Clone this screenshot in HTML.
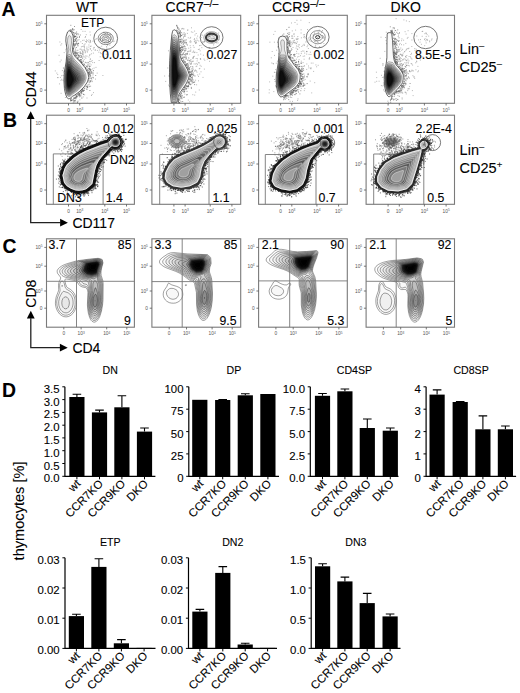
<!DOCTYPE html>
<html><head><meta charset="utf-8"><style>
html,body{margin:0;padding:0;background:#fff;}
svg{display:block;}
text{stroke:#000;stroke-width:0.1px;}
text[fill]{stroke:none;}
</style></head><body>
<svg width="520" height="693" viewBox="0 0 520 693" font-family='"Liberation Sans", sans-serif' fill="#000">
<defs><filter id="bl15" x="-50%" y="-50%" width="200%" height="200%"><feGaussianBlur stdDeviation="1.5"/></filter><filter id="bl1" x="-50%" y="-50%" width="200%" height="200%"><feGaussianBlur stdDeviation="1"/></filter></defs>
<rect width="520" height="693" fill="#fff"/>
<text x="1.6" y="15.8" font-size="19.4" font-weight="bold">A</text>
<text x="3.1" y="127.3" font-size="19.4" font-weight="bold">B</text>
<text x="2.4" y="252.8" font-size="19.4" font-weight="bold">C</text>
<text x="2.1" y="396.9" font-size="19.4" font-weight="bold">D</text>
<text x="76.0" y="11.5" font-size="14">WT</text>
<text x="165.6" y="11.5" font-size="14">CCR7<tspan font-size="10.5" dy="-4.6">–/–</tspan></text>
<text x="272.0" y="11.5" font-size="14">CCR9<tspan font-size="10.5" dy="-4.6">–/–</tspan></text>
<text x="390.6" y="11.5" font-size="14">DKO</text>
<text x="459.6" y="53.7" font-size="14.5">Lin<tspan font-size="9.5" dy="-5">–</tspan></text>
<text x="459.6" y="71.7" font-size="14.5">CD25<tspan font-size="9.5" dy="-5">–</tspan></text>
<text x="459.6" y="154.8" font-size="14.5">Lin<tspan font-size="9.5" dy="-5">–</tspan></text>
<text x="459.6" y="172.5" font-size="14.5">CD25<tspan font-size="9.5" dy="-5">+</tspan></text>
<text x="0" y="0" font-size="14" transform="translate(35.8,107.3) rotate(-90)">CD44</text>
<text x="0" y="0" font-size="14" transform="translate(36.0,307.7) rotate(-90)">CD8</text>
<text x="72.4" y="228.3" font-size="14">CD117</text>
<text x="72.4" y="352.8" font-size="14">CD4</text>
<path d="M30.7 118.7 V222.7 H60.400000000000006" fill="none" stroke="#222" stroke-width="1.3"/>
<path d="M26.8 119.0 L30.7 111.2 L34.6 119.0Z" fill="#000"/>
<path d="M60.10000000000001 218.79999999999998 L67.9 222.7 L60.10000000000001 226.6Z" fill="#000"/>
<path d="M30.8 318.3 V347.7 H60.2" fill="none" stroke="#222" stroke-width="1.3"/>
<path d="M26.900000000000002 318.6 L30.8 310.8 L34.7 318.6Z" fill="#000"/>
<path d="M59.900000000000006 343.8 L67.7 347.7 L59.900000000000006 351.59999999999997Z" fill="#000"/>
<text x="0" y="0" font-size="14.6" transform="translate(23.8,560.4) rotate(-90)">thymocytes [%]</text>
<path d="M64.9 386.8 V476.3 H155.4" fill="none" stroke="#000" stroke-width="1.2"/>
<path d="M62.300000000000004 476.3 H64.9" stroke="#000" stroke-width="1"/>
<text x="59.6" y="482.3" font-size="11.4" text-anchor="end">0.0</text>
<path d="M62.300000000000004 463.5 H64.9" stroke="#000" stroke-width="1"/>
<text x="59.6" y="469.5" font-size="11.4" text-anchor="end">0.5</text>
<path d="M62.300000000000004 450.7 H64.9" stroke="#000" stroke-width="1"/>
<text x="59.6" y="456.7" font-size="11.4" text-anchor="end">1.0</text>
<path d="M62.300000000000004 437.9 H64.9" stroke="#000" stroke-width="1"/>
<text x="59.6" y="443.9" font-size="11.4" text-anchor="end">1.5</text>
<path d="M62.300000000000004 425.2 H64.9" stroke="#000" stroke-width="1"/>
<text x="59.6" y="431.2" font-size="11.4" text-anchor="end">2.0</text>
<path d="M62.300000000000004 412.4 H64.9" stroke="#000" stroke-width="1"/>
<text x="59.6" y="418.4" font-size="11.4" text-anchor="end">2.5</text>
<path d="M62.300000000000004 399.6 H64.9" stroke="#000" stroke-width="1"/>
<text x="59.6" y="405.6" font-size="11.4" text-anchor="end">3.0</text>
<path d="M62.300000000000004 386.8 H64.9" stroke="#000" stroke-width="1"/>
<text x="59.6" y="392.8" font-size="11.4" text-anchor="end">3.5</text>
<rect x="69.3" y="397.0" width="15.2" height="79.3" fill="#000"/>
<path d="M76.9 397.0 V394.2 M72.6 394.2 H81.2" stroke="#000" stroke-width="1.1"/>
<path d="M76.9 476.3 V479.3" stroke="#000" stroke-width="1"/>
<text x="0" y="0" font-size="11.5" text-anchor="end" transform="translate(81.2,484.3) rotate(-45)">wt</text>
<rect x="91.9" y="412.4" width="15.2" height="63.9" fill="#000"/>
<path d="M99.5 412.4 V410.1 M95.2 410.1 H103.8" stroke="#000" stroke-width="1.1"/>
<path d="M99.5 476.3 V479.3" stroke="#000" stroke-width="1"/>
<text x="0" y="0" font-size="11.5" text-anchor="end" transform="translate(103.8,484.3) rotate(-45)">CCR7KO</text>
<rect x="114.3" y="407.3" width="15.2" height="69.0" fill="#000"/>
<path d="M121.9 407.3 V395.8 M117.6 395.8 H126.2" stroke="#000" stroke-width="1.1"/>
<path d="M121.9 476.3 V479.3" stroke="#000" stroke-width="1"/>
<text x="0" y="0" font-size="11.5" text-anchor="end" transform="translate(126.2,484.3) rotate(-45)">CCR9KO</text>
<rect x="136.9" y="431.6" width="15.2" height="44.8" fill="#000"/>
<path d="M144.5 431.6 V428.0 M140.2 428.0 H148.8" stroke="#000" stroke-width="1.1"/>
<path d="M144.5 476.3 V479.3" stroke="#000" stroke-width="1"/>
<text x="0" y="0" font-size="11.5" text-anchor="end" transform="translate(148.8,484.3) rotate(-45)">DKO</text>
<text x="110.2" y="374.2" font-size="10.6" text-anchor="middle">DN</text>
<path d="M188.8 386.8 V476.3 H279.0" fill="none" stroke="#000" stroke-width="1.2"/>
<path d="M186.20000000000002 476.3 H188.8" stroke="#000" stroke-width="1"/>
<text x="183.5" y="482.3" font-size="11.4" text-anchor="end">0</text>
<path d="M186.20000000000002 453.9 H188.8" stroke="#000" stroke-width="1"/>
<text x="183.5" y="459.9" font-size="11.4" text-anchor="end">25</text>
<path d="M186.20000000000002 431.6 H188.8" stroke="#000" stroke-width="1"/>
<text x="183.5" y="437.6" font-size="11.4" text-anchor="end">50</text>
<path d="M186.20000000000002 409.2 H188.8" stroke="#000" stroke-width="1"/>
<text x="183.5" y="415.2" font-size="11.4" text-anchor="end">75</text>
<path d="M186.20000000000002 386.8 H188.8" stroke="#000" stroke-width="1"/>
<text x="183.5" y="392.8" font-size="11.4" text-anchor="end">100</text>
<rect x="192.2" y="399.8" width="15.2" height="76.5" fill="#000"/>
<path d="M199.8 476.3 V479.3" stroke="#000" stroke-width="1"/>
<text x="0" y="0" font-size="11.5" text-anchor="end" transform="translate(204.1,484.3) rotate(-45)">wt</text>
<rect x="215.1" y="400.0" width="15.2" height="76.3" fill="#000"/>
<path d="M222.7 400.0 V399.5 M218.4 399.5 H227.0" stroke="#000" stroke-width="1.1"/>
<path d="M222.7 476.3 V479.3" stroke="#000" stroke-width="1"/>
<text x="0" y="0" font-size="11.5" text-anchor="end" transform="translate(227.0,484.3) rotate(-45)">CCR7KO</text>
<rect x="237.7" y="395.3" width="15.2" height="81.0" fill="#000"/>
<path d="M245.3 395.3 V393.7 M241.0 393.7 H249.6" stroke="#000" stroke-width="1.1"/>
<path d="M245.3 476.3 V479.3" stroke="#000" stroke-width="1"/>
<text x="0" y="0" font-size="11.5" text-anchor="end" transform="translate(249.6,484.3) rotate(-45)">CCR9KO</text>
<rect x="260.3" y="394.0" width="15.2" height="82.3" fill="#000"/>
<path d="M267.9 476.3 V479.3" stroke="#000" stroke-width="1"/>
<text x="0" y="0" font-size="11.5" text-anchor="end" transform="translate(272.2,484.3) rotate(-45)">DKO</text>
<text x="233.9" y="374.2" font-size="10.6" text-anchor="middle">DP</text>
<path d="M310.3 386.8 V476.3 H398.5" fill="none" stroke="#000" stroke-width="1.2"/>
<path d="M307.7 476.3 H310.3" stroke="#000" stroke-width="1"/>
<text x="305.0" y="482.3" font-size="11.4" text-anchor="end">0.0</text>
<path d="M307.7 453.9 H310.3" stroke="#000" stroke-width="1"/>
<text x="305.0" y="459.9" font-size="11.4" text-anchor="end">2.5</text>
<path d="M307.7 431.6 H310.3" stroke="#000" stroke-width="1"/>
<text x="305.0" y="437.6" font-size="11.4" text-anchor="end">5.0</text>
<path d="M307.7 409.2 H310.3" stroke="#000" stroke-width="1"/>
<text x="305.0" y="415.2" font-size="11.4" text-anchor="end">7.5</text>
<path d="M307.7 386.8 H310.3" stroke="#000" stroke-width="1"/>
<text x="305.0" y="392.8" font-size="11.4" text-anchor="end">10.0</text>
<rect x="314.9" y="395.8" width="15.2" height="80.6" fill="#000"/>
<path d="M322.5 395.8 V393.5 M318.2 393.5 H326.8" stroke="#000" stroke-width="1.1"/>
<path d="M322.5 476.3 V479.3" stroke="#000" stroke-width="1"/>
<text x="0" y="0" font-size="11.5" text-anchor="end" transform="translate(326.8,484.3) rotate(-45)">wt</text>
<rect x="337.3" y="391.3" width="15.2" height="85.0" fill="#000"/>
<path d="M344.9 391.3 V389.0 M340.6 389.0 H349.2" stroke="#000" stroke-width="1.1"/>
<path d="M344.9 476.3 V479.3" stroke="#000" stroke-width="1"/>
<text x="0" y="0" font-size="11.5" text-anchor="end" transform="translate(349.2,484.3) rotate(-45)">CCR7KO</text>
<rect x="359.7" y="428.0" width="15.2" height="48.3" fill="#000"/>
<path d="M367.3 428.0 V419.0 M363.0 419.0 H371.6" stroke="#000" stroke-width="1.1"/>
<path d="M367.3 476.3 V479.3" stroke="#000" stroke-width="1"/>
<text x="0" y="0" font-size="11.5" text-anchor="end" transform="translate(371.6,484.3) rotate(-45)">CCR9KO</text>
<rect x="382.7" y="430.7" width="15.2" height="45.6" fill="#000"/>
<path d="M390.3 430.7 V428.0 M386.0 428.0 H394.6" stroke="#000" stroke-width="1.1"/>
<path d="M390.3 476.3 V479.3" stroke="#000" stroke-width="1"/>
<text x="0" y="0" font-size="11.5" text-anchor="end" transform="translate(394.6,484.3) rotate(-45)">DKO</text>
<text x="354.4" y="374.2" font-size="10.6" text-anchor="middle">CD4SP</text>
<path d="M426.1 386.8 V476.3 H516.1" fill="none" stroke="#000" stroke-width="1.2"/>
<path d="M423.5 476.3 H426.1" stroke="#000" stroke-width="1"/>
<text x="420.8" y="482.3" font-size="11.4" text-anchor="end">0</text>
<path d="M423.5 453.9 H426.1" stroke="#000" stroke-width="1"/>
<text x="420.8" y="459.9" font-size="11.4" text-anchor="end">1</text>
<path d="M423.5 431.6 H426.1" stroke="#000" stroke-width="1"/>
<text x="420.8" y="437.6" font-size="11.4" text-anchor="end">2</text>
<path d="M423.5 409.2 H426.1" stroke="#000" stroke-width="1"/>
<text x="420.8" y="415.2" font-size="11.4" text-anchor="end">3</text>
<path d="M423.5 386.8 H426.1" stroke="#000" stroke-width="1"/>
<text x="420.8" y="392.8" font-size="11.4" text-anchor="end">4</text>
<rect x="429.5" y="394.6" width="15.2" height="81.7" fill="#000"/>
<path d="M437.1 394.6 V389.9 M432.8 389.9 H441.4" stroke="#000" stroke-width="1.1"/>
<path d="M437.1 476.3 V479.3" stroke="#000" stroke-width="1"/>
<text x="0" y="0" font-size="11.5" text-anchor="end" transform="translate(441.4,484.3) rotate(-45)">wt</text>
<rect x="452.6" y="402.0" width="15.2" height="74.3" fill="#000"/>
<path d="M460.2 402.0 V401.6 M455.9 401.6 H464.5" stroke="#000" stroke-width="1.1"/>
<path d="M460.2 476.3 V479.3" stroke="#000" stroke-width="1"/>
<text x="0" y="0" font-size="11.5" text-anchor="end" transform="translate(464.5,484.3) rotate(-45)">CCR7KO</text>
<rect x="475.3" y="429.3" width="15.2" height="47.0" fill="#000"/>
<path d="M482.9 429.3 V415.9 M478.6 415.9 H487.2" stroke="#000" stroke-width="1.1"/>
<path d="M482.9 476.3 V479.3" stroke="#000" stroke-width="1"/>
<text x="0" y="0" font-size="11.5" text-anchor="end" transform="translate(487.2,484.3) rotate(-45)">CCR9KO</text>
<rect x="497.8" y="429.3" width="15.2" height="47.0" fill="#000"/>
<path d="M505.4 429.3 V426.0 M501.1 426.0 H509.7" stroke="#000" stroke-width="1.1"/>
<path d="M505.4 476.3 V479.3" stroke="#000" stroke-width="1"/>
<text x="0" y="0" font-size="11.5" text-anchor="end" transform="translate(509.7,484.3) rotate(-45)">DKO</text>
<text x="471.1" y="374.2" font-size="10.6" text-anchor="middle">CD8SP</text>
<path d="M65.0 557.8 V648.4 H155.5" fill="none" stroke="#000" stroke-width="1.2"/>
<path d="M62.4 648.4 H65.0" stroke="#000" stroke-width="1"/>
<text x="59.7" y="654.4" font-size="11.4" text-anchor="end">0.00</text>
<path d="M62.4 618.2 H65.0" stroke="#000" stroke-width="1"/>
<text x="59.7" y="624.2" font-size="11.4" text-anchor="end">0.01</text>
<path d="M62.4 588.0 H65.0" stroke="#000" stroke-width="1"/>
<text x="59.7" y="594.0" font-size="11.4" text-anchor="end">0.02</text>
<path d="M62.4 557.8 H65.0" stroke="#000" stroke-width="1"/>
<text x="59.7" y="563.8" font-size="11.4" text-anchor="end">0.03</text>
<rect x="68.8" y="616.1" width="15.2" height="32.3" fill="#000"/>
<path d="M76.4 616.1 V614.3 M72.1 614.3 H80.7" stroke="#000" stroke-width="1.1"/>
<path d="M76.4 648.4 V651.4" stroke="#000" stroke-width="1"/>
<text x="0" y="0" font-size="11.5" text-anchor="end" transform="translate(80.7,656.4) rotate(-45)">wt</text>
<rect x="91.3" y="566.9" width="15.2" height="81.5" fill="#000"/>
<path d="M98.9 566.9 V558.7 M94.6 558.7 H103.2" stroke="#000" stroke-width="1.1"/>
<path d="M98.9 648.4 V651.4" stroke="#000" stroke-width="1"/>
<text x="0" y="0" font-size="11.5" text-anchor="end" transform="translate(103.2,656.4) rotate(-45)">CCR7KO</text>
<rect x="113.8" y="643.3" width="15.2" height="5.1" fill="#000"/>
<path d="M121.4 643.3 V639.6 M117.1 639.6 H125.7" stroke="#000" stroke-width="1.1"/>
<path d="M121.4 648.4 V651.4" stroke="#000" stroke-width="1"/>
<text x="0" y="0" font-size="11.5" text-anchor="end" transform="translate(125.7,656.4) rotate(-45)">CCR9KO</text>
<rect x="136.5" y="647.9" width="15.2" height="0.5" fill="#000"/>
<path d="M144.1 648.4 V651.4" stroke="#000" stroke-width="1"/>
<text x="0" y="0" font-size="11.5" text-anchor="end" transform="translate(148.4,656.4) rotate(-45)">DKO</text>
<text x="110.2" y="546.2" font-size="10.6" text-anchor="middle">ETP</text>
<path d="M188.5 557.8 V648.4 H277.0" fill="none" stroke="#000" stroke-width="1.2"/>
<path d="M185.9 648.4 H188.5" stroke="#000" stroke-width="1"/>
<text x="183.2" y="654.4" font-size="11.4" text-anchor="end">0.00</text>
<path d="M185.9 618.2 H188.5" stroke="#000" stroke-width="1"/>
<text x="183.2" y="624.2" font-size="11.4" text-anchor="end">0.01</text>
<path d="M185.9 588.0 H188.5" stroke="#000" stroke-width="1"/>
<text x="183.2" y="594.0" font-size="11.4" text-anchor="end">0.02</text>
<path d="M185.9 557.8 H188.5" stroke="#000" stroke-width="1"/>
<text x="183.2" y="563.8" font-size="11.4" text-anchor="end">0.03</text>
<rect x="192.3" y="611.6" width="15.2" height="36.8" fill="#000"/>
<path d="M199.9 611.6 V609.4 M195.6 609.4 H204.2" stroke="#000" stroke-width="1.1"/>
<path d="M199.9 648.4 V651.4" stroke="#000" stroke-width="1"/>
<text x="0" y="0" font-size="11.5" text-anchor="end" transform="translate(204.2,656.4) rotate(-45)">wt</text>
<rect x="215.2" y="572.9" width="15.2" height="75.5" fill="#000"/>
<path d="M222.8 572.9 V566.6 M218.5 566.6 H227.1" stroke="#000" stroke-width="1.1"/>
<path d="M222.8 648.4 V651.4" stroke="#000" stroke-width="1"/>
<text x="0" y="0" font-size="11.5" text-anchor="end" transform="translate(227.1,656.4) rotate(-45)">CCR7KO</text>
<rect x="237.6" y="644.5" width="15.2" height="3.9" fill="#000"/>
<path d="M245.2 644.5 V643.3 M240.9 643.3 H249.5" stroke="#000" stroke-width="1.1"/>
<path d="M245.2 648.4 V651.4" stroke="#000" stroke-width="1"/>
<text x="0" y="0" font-size="11.5" text-anchor="end" transform="translate(249.5,656.4) rotate(-45)">CCR9KO</text>
<rect x="260.0" y="647.9" width="15.2" height="0.5" fill="#000"/>
<path d="M267.6 648.4 V651.4" stroke="#000" stroke-width="1"/>
<text x="0" y="0" font-size="11.5" text-anchor="end" transform="translate(271.9,656.4) rotate(-45)">DKO</text>
<text x="232.8" y="546.2" font-size="10.6" text-anchor="middle">DN2</text>
<path d="M311.2 557.8 V648.4 H400.5" fill="none" stroke="#000" stroke-width="1.2"/>
<path d="M308.59999999999997 648.4 H311.2" stroke="#000" stroke-width="1"/>
<text x="305.9" y="654.4" font-size="11.4" text-anchor="end">0.0</text>
<path d="M308.59999999999997 618.2 H311.2" stroke="#000" stroke-width="1"/>
<text x="305.9" y="624.2" font-size="11.4" text-anchor="end">0.5</text>
<path d="M308.59999999999997 588.0 H311.2" stroke="#000" stroke-width="1"/>
<text x="305.9" y="594.0" font-size="11.4" text-anchor="end">1.0</text>
<path d="M308.59999999999997 557.8 H311.2" stroke="#000" stroke-width="1"/>
<text x="305.9" y="563.8" font-size="11.4" text-anchor="end">1.5</text>
<rect x="315.0" y="566.3" width="15.2" height="82.1" fill="#000"/>
<path d="M322.6 566.3 V563.8 M318.3 563.8 H326.9" stroke="#000" stroke-width="1.1"/>
<path d="M322.6 648.4 V651.4" stroke="#000" stroke-width="1"/>
<text x="0" y="0" font-size="11.5" text-anchor="end" transform="translate(326.9,656.4) rotate(-45)">wt</text>
<rect x="337.3" y="581.4" width="15.2" height="67.0" fill="#000"/>
<path d="M344.9 581.4 V577.1 M340.6 577.1 H349.2" stroke="#000" stroke-width="1.1"/>
<path d="M344.9 648.4 V651.4" stroke="#000" stroke-width="1"/>
<text x="0" y="0" font-size="11.5" text-anchor="end" transform="translate(349.2,656.4) rotate(-45)">CCR7KO</text>
<rect x="359.6" y="603.1" width="15.2" height="45.3" fill="#000"/>
<path d="M367.2 603.1 V593.4 M362.9 593.4 H371.5" stroke="#000" stroke-width="1.1"/>
<path d="M367.2 648.4 V651.4" stroke="#000" stroke-width="1"/>
<text x="0" y="0" font-size="11.5" text-anchor="end" transform="translate(371.5,656.4) rotate(-45)">CCR9KO</text>
<rect x="382.5" y="616.4" width="15.2" height="32.0" fill="#000"/>
<path d="M390.1 616.4 V614.0 M385.8 614.0 H394.4" stroke="#000" stroke-width="1.1"/>
<path d="M390.1 648.4 V651.4" stroke="#000" stroke-width="1"/>
<text x="0" y="0" font-size="11.5" text-anchor="end" transform="translate(394.4,656.4) rotate(-45)">DKO</text>
<text x="355.9" y="546.2" font-size="10.6" text-anchor="middle">DN3</text>
<rect x="46.5" y="15.3" width="87.9" height="88.0" fill="none" stroke="#7a7a7a" stroke-width="1.1"/>
<path d="M44.3 23.8H46.5M44.3 43.6H46.5M44.3 64.1H46.5M44.3 90.1H46.5M68.5 103.3V105.5M79.7 103.3V105.5M104.8 103.3V105.5M126.5 103.3V105.5" stroke="#555" stroke-width="0.8"/>
<text x="42.5" y="25.5" font-size="4.8" text-anchor="end" fill="#555" stroke="none">10<tspan font-size="3.2" dy="-1.7">5</tspan></text>
<text x="42.5" y="45.3" font-size="4.8" text-anchor="end" fill="#555" stroke="none">10<tspan font-size="3.2" dy="-1.7">4</tspan></text>
<text x="42.5" y="65.8" font-size="4.8" text-anchor="end" fill="#555" stroke="none">10<tspan font-size="3.2" dy="-1.7">3</tspan></text>
<text x="42.5" y="91.8" font-size="4.8" text-anchor="end" fill="#555" stroke="none">0</text>
<text x="68.5" y="111.5" font-size="4.8" text-anchor="middle" fill="#555" stroke="none">0</text>
<text x="79.7" y="111.5" font-size="4.8" text-anchor="middle" fill="#555" stroke="none">10<tspan font-size="3.2" dy="-1.7">3</tspan></text>
<text x="104.8" y="111.5" font-size="4.8" text-anchor="middle" fill="#555" stroke="none">10<tspan font-size="3.2" dy="-1.7">4</tspan></text>
<text x="126.5" y="111.5" font-size="4.8" text-anchor="middle" fill="#555" stroke="none">10<tspan font-size="3.2" dy="-1.7">5</tspan></text>
<path d="M73.7 30.2h0m7.5-.7h0m1.7 1.8h0m2.2 .1h0m4.9 .6h0m-12.9 5h0m8.1 .5h0m.3-1h0m.8-1.8h0m4.1 .3h0m-14.2 4h0m2.8 .7h0m3.7 .7h0m1.4-.2h0m2.4-.3h0m2.4 0h0m1.5 .5h0m5.4-1.1h0m.6-.6h0m3.7 1h0m-40.2 2.3h0m16.2 1.5h0m.7-2h0m1.7 1.7h0m2.3-1.4h0m1.6 1.7h0m3.5-2h0m.2-.1h0m.4 .8h0m.9-1.5h0m1.2 1.1h0m1.2 .9h0m.5-1.6h0m0 .2h0m.3 .9h0m2.3-1h0m8.4 .3h0m3.5 1.2h0m4.3-1.1h0m.7 .1h0m4.4-.5h0m-53.4 3.9h0m.9-1.3h0m4.6 .9h0m.2 .9h0m6.9-.6h0m.1-.9h0m3.8 .7h0m.2 1h0m.9 0h0m.1-2.1h0m3.9 2.7h0m1.6 0h0m.1-.4h0m.1-1.2h0m.9-.9h0m3.8 1.1h0m1.5 1.4h0m.7-.3h0m10.6 .1h0m.3-2.5h0m-36.1 5.7h0m.7-.7h0m8.2-1.5h0m5.2 2h0m.9-.1h0m.5-2.3h0m2.9 .3h0m.2 .9h0m2 .9h0m.4-1.8h0m.8 2h0m1.2-2h0m1.4 1.7h0m.1 .2h0m3 0h0m.7-1.6h0m0 .4h0m4.1 0h0m1.8-.6h0m6.6-.7h0m.1 1.4h0m-40.8 3.1h0m7.4-.4h0m2.9 .2h0m.8 1.5h0m3.3-.2h0m1.2-2.1h0m1.2 1.6h0m.1 .6h0m0-1.1h0m0-1.1h0m.3 2.4h0m1.1-2.8h0m.2 .6h0m.5 .7h0m.6 1.1h0m.5-1.1h0m1.4 1.2h0m.2-1.1h0m.7-1.1h0m3.3 .8h0m3.6-.4h0m.1-.5h0m2.1 .6h0m1.4 1.8h0m.6-2.2h0m2.9-.2h0m2.9 .7h0m-46.1 4.8h0m5.1-2.7h0m10.5 .3h0m2.1 1.8h0m.3-1.4h0m.7 .7h0m.5-1.5h0m.2 2.7h0m1.6-1.8h0m.6 0h0m.1 1.9h0m0 0h0m.1-1.9h0m1 0h0m.8 .7h0m0 .3h0m.3-.8h0m.2 1.4h0m2-2.2h0m4.4 2.6h0m.3-.8h0m1.5-.8h0m2-.7h0m7.1-.3h0m.7 .8h0m5.1 .7h0m-30.7 1.9h0m2.4 2h0m1.1-.8h0m.4-1.6h0m1.5 1.5h0m.3-1.6h0m.6 .6h0m1 .8h0m1-.8h0m1.1 .9h0m.8 1h0m0-2.3h0m1.2 .3h0m2 .8h0m11.2-.2h0m-39 3.3h0m16.2-1.4h0m.3 .7h0m5.4 1.6h0m1.1-1.6h0m5.4 2h0m.6-2.2h0m.3-.2h0m.7 2.4h0m1-.8h0m6.9-.1h0m5.3-1h0m-44.3 2.3h0m21.4-.1h0m.2 .6h0m8.2 1.4h0m.2-2h0m2.6 .9h0m1.8 0h0m-10.7 2.8h0m.4-.8h0m.8 .9h0m1.7 1h0m4.4-1.6h0m4.9 2.5h0m-32.6 .6h0m.2 .1h0m.5 2h0m21.8-2.4h0m3.2 1.1h0m.5 .2h0m3-.1h0m1.5-.8h0m-38.8 2.8h0m1.5 2.2h0m5.6-2.5h0m1.1 1.3h0m24.7 1.2h0m1.6-.2h0m.3-2.2h0m1.4 2.7h0m5.7-.3h0m-39.5 1.5h0m4 1.1h0m1.5-.3h0m26.8-1h0m2.9 .6h0m.5-1.2h0m9.5 1.7h0m-45.4 2.1h0m.7 0h0m2.2-.2h0m1.3 1.9h0m33.8-.2h0m-34.5 1.3h0m2-.1h0m27 1.8h0m-30.5 1.8h0m29.6 .6h0m-1.6 2.6h0m.1-.5h0m1.3 .3h0m1.7-.7h0m-9.1 5.2h0m-20.4 1.9h0m22.5 1.1h0m8.5 0h0m1.4-1.8h0m-28.1 4.9h0m14-2.6h0m.2 .1h0m1.2 .5h0m2.4 1.4h0m1.4-2.1h0m6.9 .7h0m-16.6 3h0m5 1.3h0m1.9-1.9h0m.1 .3h0m5.1-.2h0" stroke="#8a8a8a" stroke-width="0.6" stroke-linecap="square" fill="none"/>
<path d="M70.8 25.3h0m3.7 1.2h0m-4.2 3.6h0m0-.1h0m.7 .3h0m.4 .5h0m.7-1.2h0m.3 .4h0m.2-1.3h0m.1 .3h0m1.3 .6h0m-2.3 2h0m.5 0h0m.6 .7h0m.8 .6h0m0-.3h0m.7 .6h0m1.3 0h0m.6 .1h0m.3 1.1h0m.1-2.4h0m1.3 1.6h0m-3.9 2h0m0-1.1h0m.1 .7h0m.2 1.8h0m0 .1h0m.3-.6h0m.3 .4h0m.1-.4h0m.2 .1h0m.2-.2h0m.6-.3h0m1.2 1.3h0m.9-2.7h0m1.3 2.8h0m.1-1h0m.8-1.5h0m-5.4 4.3h0m.1 .7h0m.7-.3h0m.4-1.2h0m.2 .1h0m1.5 1.5h0m-4.1 3.4h0m.5-1.9h0m.1-.3h0m1-.5h0m.2 0h0m.4 2.6h0m.7-.6h0m0-1.7h0m-2.7 3.5h0m.1 1.2h0m.2-1.8h0m.3 2.1h0m.5-1.3h0m.1 .6h0m0-.4h0m.6-.7h0m1.6-.7h0m0 .7h0m1.3-.7h0m-5.3 5.7h0m.1-1h0m0 .3h0m.2 .6h0m.1-1.3h0m1.9 1.2h0m.8-1.6h0m-2.7 3.7h0m.4 0h0m.8 1h0m.6-1.1h0m2.3-.8h0m2.3 1.8h0m-6 .9h0m.1 .3h0m.9 1.5h0m.1-1.9h0m.4 2.1h0m.1-1.3h0m0-.7h0m.1-.4h0m.4 .6h0m.8-.2h0m.1 .7h0m.7 1.3h0m.6 .5h0m.6-.2h0m-3 .3h0m.1 .3h0m.4-.1h0m.8 2.2h0m.5 .1h0m.1-1h0m.7-.1h0m.8-.6h0m1.4 .9h0m.7-.4h0m1.1 1.4h0m-4.4 .7h0m1 1.1h0m.7 .6h0m.1-.1h0m.2-.9h0m.5-.2h0m.4 1.1h0m.5-1h0m1.7 1.6h0m-2.6 .7h0m.2-.2h0m.5 .7h0m.1-.2h0m.8 .2h0m.7 1h0m1.5 .8h0m.8-1.9h0m.9 .5h0m1.9-.4h0m0 .6h0m-4.8 1.8h0m2.1 2.6h0m1.2-1.2h0m.7-.1h0m0 1h0m.6-2.3h0m1.1 .4h0m.3 1.4h0m.1 .3h0m.8-.5h0m-3.4 2.3h0m.5 1.4h0m.2-.2h0m1.1-1.2h0m.7 .8h0m.1-1h0m.5 1.5h0m.6 .1h0m0-1h0m.5 .6h0m-2.8 .8h0m.1 1.7h0m0 0h0m.5 1.2h0m.1-.7h0m.6-1h0m.3 1.3h0m.1-.7h0m1-1.1h0m.4 .9h0m.2-.1h0m.7 1.2h0m.8-1h0m.4-1.7h0m-4.2 3.9h0m.4-.3h0m.2 1.1h0m0 1h0m.6-.3h0m.1-2h0m.2 2h0m5-.4h0m-6.5 3.4h0m.9-.8h0m1.2-.2h0m0 .7h0m1.6-1.3h0m.4 .6h0m-4.6 3h0m1.1 .1h0m.7 .6h0m.1-.9h0m1.2-.6h0m.3 1.5h0m-4.1 3.4h0m1.2-2.2h0m-4.9 5.6h0m.5-.3h0m1.2-1.7h0m.6 .4h0m.4-.8h0m.5 1.1h0m0 .2h0m2.2-1h0m-8 3.9h0m.1 1h0m.1 .2h0m.2-.3h0m.4-1.2h0m0 .9h0m.2-1.1h0m.1-.7h0m.5 2.2h0m0-.8h0m.2 .6h0m.5-.6h0m.4-.2h0m2.5-1.1h0m0 .1h0m3 1.3h0m-12.3 3.7h0m1 0h0m.1-1h0m.1 .8h0m.5-.3h0m.3-.1h0m.2 .7h0m.4-1.9h0m.5-.6h0m.2 .1h0m.1 2h0m.4-1.2h0m.3-.1h0m.1 1h0m1.7 .7h0m-8.4 3h0m.3 .2h0m.7-1.9h0m0 .7h0m.1-1.2h0m.2 1.8h0m.2-.2h0m.2-.1h0m.3-.5h0m.1 .7h0m.1-1.8h0m1.6 .2h0m0 .6h0m.2-.9h0m.5 1.9h0m.2-1.5h0m1 .9h0m-10.2 3.6h0m0 .2h0m.5-.9h0m.1-.6h0m.1 1.9h0m1-.4h0m.9-.3h0m.5-.8h0m.4-.9h0m0-.2h0m.1 .7h0m.9 1.8h0m.3-2.1h0m.6 .6h0m.3-1.1h0m-5.5 3.4h0m.3-.6h0m.6 0h0m1.6 2.3h0m.1-1.9h0m.6 .2h0m.9-.5h0m0 .3h0m0 1.2h0m2.3 0h0m.4 .5h0m.4-1.4h0" stroke="#555" stroke-width="0.6" stroke-linecap="square" fill="none"/>
<path d="M69.6 98.6 68.6 98.8 67.6 98.3 66.9 97.4 65.8 94.9 64.9 91.4 64.4 88.4 63.9 80.4 64.3 72.4 66.1 61.9 67.0 51.9 67.0 48.9 65.8 40.9 66.1 36.4 67.6 31.9 69.1 30.6 71.1 31.7 71.6 32.2 73.1 35.9 73.5 40.9 72.5 49.4 72.6 51.0 73.1 53.1 74.0 54.9 75.1 56.5 80.4 61.9 84.9 67.4 87.9 72.9 88.8 77.4 87.5 81.9 84.1 86.9 79.1 91.9 74.1 95.5 72.6 96.2 70.6 98.0 69.6 98.6Z" fill="#fafafa" stroke="#000" stroke-width="0.6" fill-rule="evenodd"/>
<path d="M69.6 96.4 68.6 96.5 67.6 96.0 66.7 94.4 65.9 91.9 64.9 85.9 64.6 79.9 64.9 73.9 66.6 63.0 67.3 56.4 68.1 52.3 68.8 49.9 68.4 46.9 67.6 43.4 67.5 40.4 67.8 37.9 68.4 36.4 68.6 35.9 69.1 35.5 69.6 35.4 70.6 36.2 71.1 37.4 71.7 40.4 71.4 43.9 70.4 49.9 72.1 55.7 73.1 57.6 74.6 59.7 79.1 64.3 83.1 69.3 85.6 73.9 86.2 77.9 85.0 81.9 81.8 86.4 77.6 90.6 73.6 93.5 72.1 94.4 70.1 96.2 69.6 96.4Z" fill="#e4e4e4" stroke="#000" stroke-width="0.3" fill-rule="evenodd"/>
<path d="M69.1 95.4 68.1 95.2 67.6 94.8 66.9 93.4 66.2 91.4 65.3 86.4 64.9 80.4 65.3 73.4 66.6 65.2 67.3 58.9 68.1 55.2 68.6 54.6 70.1 54.6 70.6 54.9 72.1 58.0 74.1 61.0 78.3 65.4 82.0 69.9 84.4 74.4 85.0 77.9 83.8 81.9 81.0 85.9 77.1 89.8 72.1 93.4 70.1 95.1 69.1 95.4Z" fill="#d6d6d6" stroke="#000" stroke-width="0.3" fill-rule="evenodd"/>
<path d="M69.6 94.6 68.6 94.6 67.6 94.0 66.7 91.9 65.8 87.9 65.2 81.4 65.3 76.4 65.8 71.9 67.6 59.2 68.1 57.1 68.6 56.5 70.1 56.5 70.6 56.9 71.9 59.4 74.1 62.4 77.9 66.4 81.2 70.4 83.4 74.4 84.1 77.9 83.2 81.4 80.4 85.4 76.6 89.2 69.6 94.6Z" fill="#c8c8c8" stroke="#000" stroke-width="0.3" fill-rule="evenodd"/>
<path d="M70.1 93.6 69.1 93.9 68.1 93.7 67.6 93.2 67.2 92.4 66.2 88.9 65.8 85.9 65.4 81.9 65.4 77.9 65.9 72.9 67.5 61.4 68.1 58.7 68.6 58.1 70.1 58.1 70.6 58.6 71.6 60.6 73.6 63.2 77.1 66.9 80.4 70.9 82.6 74.9 83.2 77.9 82.3 81.4 79.9 84.9 76.1 88.7 70.1 93.6Z" fill="#b8b8b8" stroke="#000" stroke-width="0.3" fill-rule="evenodd"/>
<path d="M69.6 93.0 68.6 93.0 68.1 92.8 67.6 92.3 66.9 90.4 66.2 87.4 65.7 81.4 65.8 76.4 66.4 70.9 67.6 62.4 68.1 60.3 68.6 59.6 70.1 59.7 70.6 60.3 71.6 62.2 73.1 64.1 76.7 67.9 79.5 71.4 81.7 75.4 82.2 78.4 81.3 81.4 78.8 84.9 75.6 88.1 69.6 93.0Z" fill="#a6a6a6" stroke="#000" stroke-width="0.3" fill-rule="evenodd"/>
<path d="M70.1 91.9 69.6 92.2 68.6 92.2 68.1 92.0 67.4 90.9 66.7 88.4 66.0 81.9 66.0 77.4 66.8 69.9 67.7 63.4 68.1 61.8 68.6 61.1 70.1 61.3 71.4 63.4 73.1 65.7 76.1 68.8 78.6 71.9 80.6 75.4 81.2 78.4 80.3 81.4 78.2 84.4 75.2 87.4 73.6 88.7 70.1 91.9Z" fill="#929292" stroke="#000" stroke-width="0.3" fill-rule="evenodd"/>
<path d="M69.6 91.4 69.1 91.5 68.1 91.2 67.4 89.9 66.8 87.4 66.2 81.4 66.3 76.9 66.8 70.9 67.8 64.4 68.1 63.2 68.6 62.5 69.6 62.5 70.1 62.8 71.1 64.5 72.6 66.6 75.6 69.9 78.0 72.9 79.7 75.9 80.2 78.4 79.5 80.9 77.5 83.9 74.6 86.9 69.6 91.4Z" fill="#7c7c7c" stroke="#000" stroke-width="0.3" fill-rule="evenodd"/>
<path d="M69.6 90.5 68.6 90.5 68.1 90.3 67.5 88.9 66.9 86.4 66.5 81.4 66.5 77.9 67.0 71.9 67.8 65.9 68.1 64.8 68.6 64.0 69.6 64.1 70.1 64.4 72.6 68.4 76.9 73.4 78.6 76.4 79.0 78.4 78.4 80.9 76.7 83.4 71.6 88.7 69.6 90.5Z" fill="#646464" stroke="#000" stroke-width="0.3" fill-rule="evenodd"/>
<path d="M69.6 89.5 68.6 89.5 68.1 89.2 67.7 88.4 67.2 86.4 66.8 81.4 66.8 76.9 67.2 71.9 68.0 66.9 68.6 65.7 69.6 65.8 70.1 66.3 72.6 70.4 75.8 74.4 77.2 76.9 77.6 78.9 77.0 80.9 75.6 82.9 72.6 86.2 71.3 87.9 69.6 89.5Z" fill="#4a4a4a" stroke="#000" stroke-width="0.3" fill-rule="evenodd"/>
<path d="M69.6 88.4 68.6 88.5 68.1 88.1 67.8 87.4 67.3 85.4 67.0 81.4 67.0 78.4 67.4 72.9 68.1 68.4 68.6 67.3 69.6 67.5 69.9 67.9 72.1 71.8 74.9 75.9 75.7 77.4 76.0 78.9 75.4 80.9 71.1 86.9 69.6 88.4Z" fill="#303030" stroke="#000" stroke-width="0.3" fill-rule="evenodd"/>
<path d="M69.1 87.5 68.6 87.4 68.1 86.9 67.6 85.4 67.2 80.4 67.5 73.9 68.1 70.2 68.6 69.0 69.6 69.3 70.5 70.9 74.0 77.9 74.2 79.4 73.7 80.9 70.9 85.9 69.6 87.3 69.1 87.5Z" fill="#1c1c1c" stroke="#000" stroke-width="0.3" fill-rule="evenodd"/>
<path d="M69.1 86.5 68.6 86.4 68.2 85.9 67.8 84.9 67.5 80.4 67.7 74.4 68.1 71.8 68.6 70.5 69.1 70.5 69.6 70.9 70.6 72.9 72.3 77.4 72.8 79.4 72.3 81.4 70.7 84.9 69.6 86.3 69.1 86.5Z" fill="#0e0e0e" stroke="#000" stroke-width="0.3" fill-rule="evenodd"/>
<path d="M103.9 32.2h0m1.5 1.3h0m2.2 0h0m-4 3.3h0m1.3-2.1h0m.9 2.3h0m.4 .2h0m1.1-1.1h0m.6 .2h0m2 1.2h0m.2-3h0m0 .1h0m.5 1.4h0m-11.2 2.9h0m.7 1.1h0m1.3-1.7h0m1.6 1.4h0m.8-1.8h0m.2 1.3h0m1.2 .1h0m2.4-1.2h0m.8-.2h0m0 2.2h0m1.8-1.1h0m.2 .4h0m-8 1.1h0m.2 .1h0m3.6 .4h0m2.1 .4h0m.1 1.5h0m1.8-1.5h0m3 .3h0m-5.9 2.8h0m.3 .8h0m2.2-.2h0" stroke="#888" stroke-width="0.6" stroke-linecap="square" fill="none"/>
<ellipse cx="105.7" cy="38.4" rx="7.6" ry="6.2" fill="none" stroke="#444" stroke-width="0.6"/>
<ellipse cx="105.7" cy="38.4" rx="5.6" ry="4.4" fill="none" stroke="#333" stroke-width="0.6"/>
<ellipse cx="105.7" cy="38.4" rx="3.6" ry="2.8" fill="none" stroke="#555" stroke-width="0.5"/>
<ellipse cx="105.7" cy="38.4" rx="1.6" ry="1.2" fill="none" stroke="#666" stroke-width="0.5"/>
<ellipse cx="105.7" cy="38.4" rx="11.9" ry="11.2" fill="none" stroke="#555" stroke-width="0.8"/>
<text x="102.0" y="58.6" font-size="12.3">0.011</text>
<text x="81.0" y="27.2" font-size="12">ETP</text>
<rect x="151.9" y="15.3" width="88.8" height="88.0" fill="none" stroke="#7a7a7a" stroke-width="1.1"/>
<path d="M149.7 23.8H151.9M149.7 43.6H151.9M149.7 64.1H151.9M149.7 90.1H151.9M173.9 103.3V105.5M185.1 103.3V105.5M210.2 103.3V105.5M231.9 103.3V105.5" stroke="#555" stroke-width="0.8"/>
<text x="147.9" y="25.5" font-size="4.8" text-anchor="end" fill="#555" stroke="none">10<tspan font-size="3.2" dy="-1.7">5</tspan></text>
<text x="147.9" y="45.3" font-size="4.8" text-anchor="end" fill="#555" stroke="none">10<tspan font-size="3.2" dy="-1.7">4</tspan></text>
<text x="147.9" y="65.8" font-size="4.8" text-anchor="end" fill="#555" stroke="none">10<tspan font-size="3.2" dy="-1.7">3</tspan></text>
<text x="147.9" y="91.8" font-size="4.8" text-anchor="end" fill="#555" stroke="none">0</text>
<text x="173.9" y="111.5" font-size="4.8" text-anchor="middle" fill="#555" stroke="none">0</text>
<text x="185.1" y="111.5" font-size="4.8" text-anchor="middle" fill="#555" stroke="none">10<tspan font-size="3.2" dy="-1.7">3</tspan></text>
<text x="210.2" y="111.5" font-size="4.8" text-anchor="middle" fill="#555" stroke="none">10<tspan font-size="3.2" dy="-1.7">4</tspan></text>
<text x="231.9" y="111.5" font-size="4.8" text-anchor="middle" fill="#555" stroke="none">10<tspan font-size="3.2" dy="-1.7">5</tspan></text>
<path d="M177.1 26.1h0m5.5 2.3h0m8.9-.6h0m-11.6 2.7h0m.5 0h0m7.3-.2h0m.1-.5h0m6.8 1.3h0m-14.5 1.5h0m.1-.9h0m7.2 1.7h0m4-1.5h0m1.4 .4h0m3.4 1.2h0m-16.6 2.5h0m2.3-.5h0m2.4-1h0m0 1.5h0m.7 .1h0m5.6 1.3h0m4.4-2.4h0m2.6 1.1h0m3.6 1.4h0m1.1-2.3h0m-19.1 3.6h0m5.1-1h0m1.8 .5h0m4.1 1.2h0m.3-.8h0m1.4 1.6h0m.9-2.1h0m.5 2h0m-13.6 2.8h0m.3 .5h0m2-.6h0m.5-.4h0m3.2-.6h0m.7-1.1h0m.4 1.8h0m.2-1.2h0m3.4 0h0m.5-.4h0m.3 1.3h0m.4 1.1h0m.4-.2h0m0-.8h0m.4-.3h0m2.3-1.1h0m4.1 .7h0m.2 .9h0m1-.8h0m.4 0h0m.2-.5h0m-21.1 3.1h0m.6 2h0m3.1-2h0m.2 .9h0m2.8 .4h0m3.1 0h0m6.2-.1h0m1.4-.2h0m-20.3 2.5h0m2.6 1.2h0m1.5-2.3h0m.6 1.8h0m.1-1.8h0m.7 1.7h0m2.6-.3h0m2-.5h0m3.4-.3h0m4.3 2.1h0m1-.3h0m2.4-1.6h0m7.4 .6h0m.4-.3h0m-41.1 2.9h0m12-.8h0m.5-.2h0m5.1 .2h0m1.8 1.5h0m0 .2h0m1-.6h0m1.2 0h0m.1 .1h0m.6-1.2h0m1.5 2.2h0m1.3-1.2h0m.1 1h0m1.3 .2h0m5.2-1.4h0m-19.5 4.3h0m2.4-1.2h0m.1-.7h0m.2 .1h0m.5-.8h0m3.5 .7h0m0 1.3h0m0-1h0m2.3 .6h0m4.7-1.5h0m2.5 0h0m1.3 2.4h0m2.5-.9h0m2.7 1.1h0m-22.2 .9h0m1 1.4h0m2.8-1.4h0m0 1.6h0m.7-2.1h0m.1 1.5h0m.2 .8h0m.2-1h0m2.5 .7h0m4.1 .6h0m.3-.8h0m.3-.1h0m.2-.7h0m.7-.3h0m-10.5 5.1h0m.2-.3h0m3.7-1h0m1.1-1.4h0m1 1.8h0m.6 .6h0m.5-1.6h0m.1 1.6h0m1.6 .2h0m.5-2.7h0m.2 2.6h0m2.9-2.7h0m1 2.4h0m.3-2.1h0m2.8 .1h0m.2 0h0m.2 .2h0m3.3 0h0m.8 1.2h0m2.5-1.1h0m2.2 2.1h0m-24 .3h0m1.5 2h0m.8 .6h0m3.4 0h0m.1-1.4h0m0 .6h0m.6-1.7h0m2.2 2.2h0m1.5 .1h0m1.2-.6h0m.6 1h0m1.3-1.8h0m.5 .4h0m-29.5 2.8h0m16.9-1.3h0m.4 2.6h0m0 .2h0m.5-2.2h0m.3-.1h0m0 .4h0m8.3 1.2h0m.7-.5h0m3.3-.8h0m1.1 1h0m-33.4 1.7h0m20.2 .2h0m.6-.4h0m.1 1h0m.8-.4h0m3.7 1.2h0m2.2 .4h0m3.9-1.2h0m.5-.4h0m4.6 .7h0m-15.1 2.8h0m2 1h0m.2-1.9h0m.6 .9h0m1 .6h0m2.8-1.9h0m.3 .5h0m.8 1.1h0m4-.4h0m-36.4 4.2h0m4.5-.6h0m20.6 .8h0m.8-1.4h0m1.3-.1h0m.3 .4h0m2.2 .9h0m1 0h0m2.4-1.1h0m.8 1.5h0m1.2-2.4h0m-30.5 2.5h0m20.9 .4h0m1.4 .6h0m1-.8h0m10.5 .7h0m-37.3 4h0m26.1-1.5h0m1.7 2.4h0m.1-2.3h0m.5 2h0m.7-.1h0m.8-1.7h0m2.9 .6h0m-29.8 4.3h0m16.9 .3h0m2.8-2.2h0m.4 .6h0m.1-1.3h0m.7 .5h0m7 1.8h0m-27.2 1.6h0m16.5-.6h0m.7 2.6h0m.3-2.5h0m.2 .2h0m.3 .6h0m.7 1.4h0m-3.3 1.6h0m14.5 .3h0m-14.5 4.1h0m10.9-2h0m-13.6 3.2h0m10.7-.6h0m1.9 .4h0m-16.3 3h0m9.9 2h0m1.4 1.8h0" stroke="#8a8a8a" stroke-width="0.6" stroke-linecap="square" fill="none"/>
<path d="M176.7 25.3h0m-.1 .5h0m.8 1.1h0m.1 1.1h0m.4 .2h0m0-.6h0m-1.2 2.6h0m.1 .4h0m.9 .3h0m.7-1.7h0m.5 2.1h0m.4-2.2h0m2.5-.2h0m2 0h0m-5.8 3.2h0m.2 1h0m.7 .4h0m.4-.4h0m.2-.6h0m.2 1.4h0m.3-.1h0m.3-.8h0m0-1.3h0m.2 2.7h0m1.1-1.7h0m1.3 1.6h0m1.2-1.4h0m1.3 1.2h0m-6.3 2h0m.9 1h0m.5-1.6h0m.1 .9h0m0 .4h0m.1-1.9h0m.8 .6h0m2 1.6h0m1.5-1.1h0m-5.1 3.6h0m.4-.1h0m.9-.6h0m.8 .6h0m3 .6h0m1.3-.2h0m-6.2 1.8h0m.1 .7h0m0-.6h0m.7-1.1h0m0 .7h0m.1 .2h0m.9 .7h0m.9-1.3h0m.1 1.6h0m.6-1.7h0m.1 .3h0m1.1 1.3h0m.1-1.4h0m1.1 1.2h0m-5.1 3h0m.5-1.7h0m.8 2.6h0m.9-2.1h0m1.3 1.7h0m1.9-2h0m-6 4.7h0m.1-.5h0m.4-.2h0m.4-.1h0m.2-.3h0m.7-.9h0m.2 1.6h0m0-.7h0m.5 .2h0m.9-.8h0m.5 2h0m-3.9 1.6h0m0 .2h0m.1-.3h0m.3 .1h0m.2 .9h0m.3-1.6h0m0 1.7h0m.3 .6h0m.4-2.3h0m.6 1h0m.4-.9h0m0 .4h0m1.7 .6h0m.5 .2h0m.4-.8h0m-4.8 3.8h0m.1-1.5h0m.2 1.8h0m1 .6h0m.4-.2h0m.8-.1h0m1.5 0h0m1-.8h0m.4 .7h0m.8-.9h0m-5.1 4.8h0m.7-.3h0m.6-1h0m.8 .1h0m.5 0h0m2.1 1h0m-4.5 .3h0m.9 2.1h0m.2-2h0m.4 1.4h0m.5 .1h0m2.1-.9h0m2 1.1h0m1.4 .6h0m-5.6 1.3h0m.9-.6h0m.1 1h0m.6 .2h0m.1 1.5h0m.9-.4h0m1.1-.2h0m1.6-.7h0m1.5 1h0m-4.7 1.1h0m.1 .2h0m.2 .3h0m.3-.7h0m1 1.9h0m1-.2h0m.2-1.5h0m1 2.4h0m1.1-.9h0m1.9 .1h0m-5.6 1.1h0m.7 0h0m.4 1.8h0m.1-1.3h0m.8 1.1h0m.1-.6h0m.5 .8h0m2.1-.7h0m.7 1.5h0m.4-2.3h0m-3.8 4.3h0m.2-1.1h0m.6 1.7h0m.1-1.7h0m0 1.1h0m.4-.3h0m1.1-.2h0m.9-.6h0m2-.3h0m-4.1 3.8h0m.1 1.2h0m.3 .1h0m0-1.5h0m.1 .8h0m.5-1.2h0m0 .5h0m.4-1.1h0m.9 .7h0m.1-.1h0m.9-.1h0m.1 1.3h0m-4 3.5h0m.3 .2h0m.1-.2h0m.4-2.1h0m.1-.3h0m.8 1.4h0m.9-.3h0m.1 1.1h0m-4 3.7h0m.1-.5h0m.4 .3h0m.4-2.6h0m.3 1.6h0m1.1-1.5h0m.1 1.2h0m.1 .1h0m.8-.8h0m.3 1.5h0m.2 .2h0m.2-2h0m-4.6 3h0m.5 2.5h0m.1-.1h0m.8-2.5h0m.5 .8h0m.2 .9h0m.4 .2h0m.8-.6h0m1.6-1.1h0m1.3-.5h0m.6 2.1h0m-10 3.2h0m.1-.7h0m.1 1h0m.1-.5h0m.5-.8h0m1.1-.9h0m.2 .9h0m.7-.4h0m.4 .1h0m.6 .1h0m.2-.1h0m2.7 .9h0m.1 1h0m-8.8 1.7h0m.3 1.4h0m.2-.2h0m.2-1.7h0m.5 .1h0m.2 .2h0m0-.2h0m.5 1.8h0m.2-.4h0m.9-2.2h0m.5 0h0m.4 0h0m.5 2.4h0m-6.3 2.6h0m.7-1.1h0m.2 .6h0m2.4-.9h0m-4.4 4.5h0m.1-1.5h0m.4-.1h0m.2-.5h0m.1 1.6h0m.2 .1h0m.2-1.8h0m1 1.6h0m.2-.7h0m1.9 1.8h0m.3-.5h0m2.5-2.1h0m.5-.3h0m-8.7 5.2h0m.2-.7h0m.1 .9h0m0-.6h0m.2-.4h0m0-.1h0m.9 1.4h0m1-1.7h0m0-1h0m.9 0h0m.2 1.1h0m-4.2 3.3h0m.4-1.3h0m.1 .3h0m.2 .2h0m0 .2h0m.1 1.5h0m.2-.5h0m.4 .5h0m.3-.3h0m.2 .3h0m1.3-1.2h0m1.7-.2h0" stroke="#555" stroke-width="0.6" stroke-linecap="square" fill="none"/>
<path d="M171.3 102.4 170.3 93.9 169.7 84.4 169.5 72.4 169.7 60.4 170.3 50.4 171.8 34.9 172.5 31.5 173.0 30.5 173.5 30.0 174.0 29.8 174.5 29.8 175.5 30.3 176.5 31.3 177.5 33.0 178.2 34.9 178.7 38.4 179.9 54.4 180.0 55.5 181.0 58.6 181.5 60.0 184.9 64.9 187.7 69.9 189.4 74.9 188.5 78.9 186.1 83.9 180.0 92.7 178.5 95.4 177.5 98.8 176.8 102.4Z" fill="#fafafa" stroke="#000" stroke-width="0.6" fill-rule="evenodd"/>
<path d="M172.7 102.4 171.9 99.4 171.4 96.4 170.7 89.4 170.2 78.9 170.1 66.4 170.7 54.4 171.9 40.4 172.6 36.4 173.1 35.4 173.5 34.9 174.0 34.7 175.0 34.9 176.0 35.9 177.0 37.6 177.6 39.4 178.2 42.9 179.2 56.9 179.5 58.6 180.5 61.7 183.7 66.4 186.1 70.9 187.5 74.9 186.8 78.4 184.8 82.4 179.5 90.3 178.0 93.3 175.4 102.4Z" fill="#e4e4e4" stroke="#000" stroke-width="0.3" fill-rule="evenodd"/>
<path d="M174.5 101.6 174.0 101.8 173.5 101.6 173.0 100.8 172.4 98.9 171.7 95.4 170.7 84.9 170.4 73.4 170.7 59.4 171.9 43.9 172.6 38.9 173.0 37.9 173.5 37.2 174.0 37.0 175.0 37.3 176.0 38.4 177.0 40.4 177.5 42.0 177.9 44.9 178.9 58.4 180.0 62.5 183.0 67.1 185.4 71.4 186.6 74.9 186.6 75.4 185.8 78.4 183.9 82.4 179.5 88.8 178.0 91.7 175.5 99.7 174.5 101.6Z" fill="#d6d6d6" stroke="#000" stroke-width="0.3" fill-rule="evenodd"/>
<path d="M174.0 100.1 173.5 99.8 172.8 98.4 171.7 93.4 170.8 81.9 170.6 71.9 170.9 61.4 172.1 44.4 172.5 41.3 172.9 39.9 173.5 39.0 174.0 38.8 175.0 39.1 175.7 39.9 176.6 41.4 177.3 43.4 177.8 46.9 178.6 58.9 179.5 62.7 180.0 64.0 182.4 67.4 184.6 71.4 185.9 75.4 185.1 78.4 183.4 81.9 180.0 86.8 178.5 89.4 177.5 91.7 175.5 97.9 174.5 99.8 174.0 100.1Z" fill="#c8c8c8" stroke="#000" stroke-width="0.3" fill-rule="evenodd"/>
<path d="M174.0 98.4 173.5 98.2 172.8 96.9 172.2 94.4 171.8 91.9 171.1 82.9 170.8 71.9 171.2 59.9 172.1 45.9 172.5 43.3 173.0 41.5 173.5 40.7 174.0 40.4 174.5 40.5 175.5 41.3 176.4 42.9 177.1 44.9 177.6 48.4 178.4 60.4 179.4 63.9 180.0 65.2 182.0 68.1 184.1 71.9 185.2 75.4 184.4 78.4 182.6 81.9 178.5 88.2 177.0 91.8 175.5 96.4 174.5 98.2 174.0 98.4Z" fill="#b8b8b8" stroke="#000" stroke-width="0.3" fill-rule="evenodd"/>
<path d="M174.5 96.5 174.0 96.7 173.5 96.5 173.0 95.6 172.1 91.9 171.3 81.9 171.1 74.4 171.3 62.9 172.2 48.4 172.5 45.5 173.0 43.4 173.5 42.5 174.0 42.3 175.0 42.7 175.5 43.2 176.3 44.9 177.0 47.0 177.4 49.9 178.2 60.9 179.0 64.6 179.5 65.7 181.5 68.7 183.3 71.9 184.5 75.4 183.6 78.4 182.1 81.4 178.5 87.0 177.0 90.5 175.5 94.9 174.5 96.5Z" fill="#a6a6a6" stroke="#000" stroke-width="0.3" fill-rule="evenodd"/>
<path d="M174.0 95.1 173.5 94.9 173.0 93.9 172.1 89.9 171.6 81.9 171.3 71.9 171.6 60.4 172.3 49.4 173.0 45.3 173.5 44.4 174.0 44.1 175.0 44.6 175.5 45.2 176.3 46.9 176.7 48.4 177.2 51.4 178.0 62.4 178.7 65.4 179.0 66.2 181.0 69.3 182.7 72.4 183.7 75.4 183.1 77.9 181.8 80.4 179.0 84.8 178.0 86.7 175.5 93.4 174.5 94.9 174.0 95.1Z" fill="#929292" stroke="#000" stroke-width="0.3" fill-rule="evenodd"/>
<path d="M174.0 93.6 173.5 93.3 173.0 92.3 172.3 88.9 171.7 79.9 171.6 71.4 171.8 62.4 172.4 50.9 173.0 47.3 173.5 46.2 174.0 45.9 174.5 46.0 175.0 46.4 175.5 47.1 176.5 49.9 177.0 52.9 177.7 62.9 178.5 66.6 182.1 72.9 182.9 75.4 182.3 77.9 181.0 80.4 179.0 83.5 178.0 85.4 175.5 91.9 174.5 93.4 174.0 93.6Z" fill="#7c7c7c" stroke="#000" stroke-width="0.3" fill-rule="evenodd"/>
<path d="M174.0 91.9 173.5 91.7 173.0 90.6 172.4 87.4 171.9 78.4 171.8 71.4 172.1 60.9 172.5 52.9 173.0 49.5 173.5 48.3 174.0 48.0 174.5 48.1 175.0 48.5 175.5 49.3 176.5 52.4 177.4 63.9 178.0 67.0 178.5 68.3 181.1 72.9 182.0 75.4 181.3 77.9 178.0 83.8 175.5 90.4 174.5 91.8 174.0 91.9Z" fill="#646464" stroke="#000" stroke-width="0.3" fill-rule="evenodd"/>
<path d="M174.5 90.0 174.0 90.2 173.5 89.9 172.7 87.4 172.3 81.4 172.1 74.9 172.2 64.9 172.6 55.4 173.0 52.2 173.5 50.7 174.0 50.3 174.5 50.5 175.0 51.0 175.5 51.9 176.1 53.9 176.5 56.4 177.1 64.9 177.8 68.4 180.2 73.4 180.9 75.4 180.4 77.4 178.0 82.0 175.5 88.7 174.5 90.0Z" fill="#4a4a4a" stroke="#000" stroke-width="0.3" fill-rule="evenodd"/>
<path d="M174.0 88.5 173.5 88.2 173.4 87.9 173.0 86.7 172.8 84.9 172.4 71.9 172.5 64.9 172.8 56.9 173.3 53.9 173.5 53.2 174.0 52.7 174.5 52.9 175.0 53.4 176.0 56.3 177.2 68.4 177.5 69.9 179.4 74.4 179.7 75.9 179.3 77.4 177.5 81.3 175.5 86.9 175.0 87.9 174.5 88.4 174.0 88.5Z" fill="#303030" stroke="#000" stroke-width="0.3" fill-rule="evenodd"/>
<path d="M174.5 86.7 174.0 86.9 173.5 86.4 173.0 84.5 172.6 75.9 172.6 66.9 172.9 59.4 173.5 55.7 174.0 55.2 174.5 55.4 175.0 56.0 175.8 58.4 176.8 69.4 178.5 75.9 178.3 76.9 175.6 84.9 175.0 86.2 174.5 86.7Z" fill="#1c1c1c" stroke="#000" stroke-width="0.3" fill-rule="evenodd"/>
<path d="M174.0 85.4 173.5 84.8 173.1 82.4 172.8 71.4 173.1 60.9 173.5 58.1 174.0 57.4 174.5 57.7 175.0 58.4 175.5 60.0 176.3 69.4 177.6 75.9 177.2 77.9 175.5 83.5 175.0 84.7 174.5 85.3 174.0 85.4Z" fill="#0e0e0e" stroke="#000" stroke-width="0.3" fill-rule="evenodd"/>
<path d="M207 33.7h0m3.2-1.2h0m6.4 1.7h0m2-1.2h0m-13.3 4.2h0m2.3-.1h0m.9-.6h0m.7-.7h0m.2 1h0m.3-1.7h0m.1-.3h0m.1 1.4h0m.3 1h0m1.1-2.2h0m1.4 .4h0m2.1-.2h0m4.5 .8h0m-13.2 2.7h0m2.3 .4h0m.2 .9h0m2.6-2.1h0m.8 .6h0m1-.8h0m.8 .7h0m1 0h0m2.2 1.3h0m1.8 0h0m-13.7 1.2h0m2.9 0h0m3.9-.3h0m.4 1.5h0m2.7-1h0m1.6 1.7h0m1.4 .1h0m-4.4 2h0" stroke="#888" stroke-width="0.6" stroke-linecap="square" fill="none"/>
<ellipse cx="211.6" cy="37.5" rx="7.8" ry="5.8" fill="none" stroke="#555" stroke-width="0.5"/>
<ellipse cx="211.6" cy="37.5" rx="5.6" ry="3.8" fill="none" stroke="#3a3a3a" stroke-width="2.2"/>
<ellipse cx="211.6" cy="37.5" rx="3.2" ry="1.7" fill="none" stroke="#777" stroke-width="0.5"/>
<ellipse cx="211.6" cy="37.5" rx="11.4" ry="10.8" fill="none" stroke="#555" stroke-width="0.8"/>
<text x="206.5" y="58.6" font-size="12.3">0.027</text>
<rect x="258.6" y="15.3" width="88.7" height="88.0" fill="none" stroke="#7a7a7a" stroke-width="1.1"/>
<path d="M256.4 23.8H258.6M256.4 43.6H258.6M256.4 64.1H258.6M256.4 90.1H258.6M280.6 103.3V105.5M291.8 103.3V105.5M316.9 103.3V105.5M338.6 103.3V105.5" stroke="#555" stroke-width="0.8"/>
<text x="254.6" y="25.5" font-size="4.8" text-anchor="end" fill="#555" stroke="none">10<tspan font-size="3.2" dy="-1.7">5</tspan></text>
<text x="254.6" y="45.3" font-size="4.8" text-anchor="end" fill="#555" stroke="none">10<tspan font-size="3.2" dy="-1.7">4</tspan></text>
<text x="254.6" y="65.8" font-size="4.8" text-anchor="end" fill="#555" stroke="none">10<tspan font-size="3.2" dy="-1.7">3</tspan></text>
<text x="254.6" y="91.8" font-size="4.8" text-anchor="end" fill="#555" stroke="none">0</text>
<text x="280.6" y="111.5" font-size="4.8" text-anchor="middle" fill="#555" stroke="none">0</text>
<text x="291.8" y="111.5" font-size="4.8" text-anchor="middle" fill="#555" stroke="none">10<tspan font-size="3.2" dy="-1.7">3</tspan></text>
<text x="316.9" y="111.5" font-size="4.8" text-anchor="middle" fill="#555" stroke="none">10<tspan font-size="3.2" dy="-1.7">4</tspan></text>
<text x="338.6" y="111.5" font-size="4.8" text-anchor="middle" fill="#555" stroke="none">10<tspan font-size="3.2" dy="-1.7">5</tspan></text>
<path d="M296.9 20.3h0m4-.1h0m-9.4 2.8h0m3.5-.5h0m2.2 1.7h0m12.1-1.6h0m-20.4 4.9h0m.2-.3h0m-14 4.2h0m17.2-.5h0m3.3-.8h0m5.5-.3h0m6.4-.3h0m-33.8 4.9h0m15.1-1.6h0m.9 0h0m4.2 1.4h0m.2-.3h0m7-.9h0m16.8-1h0m-35.2 2.9h0m4.9 .9h0m1.2-1.2h0m3.3 1.4h0m2.2 .3h0m3.5 .2h0m6 .8h0m.2-2.4h0m.2-.3h0m.2 1.9h0m8.7-.5h0m-34.2 2.4h0m14-.1h0m3.3 .6h0m.6 .7h0m.4-.1h0m0-1.2h0m1 .5h0m3.2-1h0m3.6 .1h0m3.4 .1h0m.8 1.4h0m-39.3 2.8h0m4.5 0h0m3.1 .1h0m9.8 .6h0m2.2 .6h0m2.9-.5h0m1.1-.4h0m.9 .3h0m.3-.6h0m1.1 .1h0m.6 1.1h0m1-1.6h0m8.4 .1h0m2-.2h0m1.4-1.2h0m1.9 .8h0m3.6-.1h0m.5 .3h0m-26.3 4.3h0m.5-2.1h0m.2 1.6h0m1.4-.5h0m1.2-.9h0m3.8-.3h0m.5 2.3h0m1.8-1.1h0m1.1-.1h0m3.5 .6h0m1.1-1.1h0m.5 1h0m3.2-.1h0m3.2 .1h0m4.5 .8h0m-37.9 .8h0m10 .3h0m.7-.1h0m0 1.8h0m3.8 .5h0m1-1.9h0m3.1 .6h0m1.3 1.1h0m.3 .1h0m.4-2.8h0m1.2 1.2h0m2.5-1.2h0m5.3 .2h0m1.3 1.8h0m11.2-1.8h0m-47.4 4.8h0m4.4-1.3h0m12.1 1.3h0m2.7-1h0m5.2 .8h0m4.7 .4h0m1.4-.7h0m1.2 .1h0m2.8 .5h0m0-.2h0m.2 .3h0m3.5 .5h0m-35.9 3.2h0m4-1.6h0m9.4-.9h0m.6-.4h0m.9 .5h0m1 1.8h0m.1-2.3h0m.1 1.8h0m3.5 .9h0m.4-.9h0m.6 .1h0m1.7-1h0m2 .5h0m2.5-.3h0m3.4-.5h0m2 1h0m2.4 .3h0m1.8 .1h0m-39.6 3.3h0m18-.1h0m1.1 .7h0m.4-1.9h0m6.8 .5h0m1.3-.5h0m1.6-.8h0m2.7 .6h0m1.4-.3h0m5 1.7h0m-32.2 3.5h0m13.3-2.2h0m3.3 .6h0m1 1.4h0m1.4-1.8h0m2.3 2.3h0m.4-1.9h0m2.2 1.6h0m2.8-2h0m5-.3h0m.5 0h0m-37.8 4.1h0m1.4 .5h0m.2 .4h0m2.9-.7h0m17 0h0m.5 .6h0m2.5-1.3h0m.2-.5h0m.1 .2h0m1.9-.5h0m.1 .8h0m2.1 .6h0m.9-.1h0m1.5-.4h0m3.7 1.4h0m4.5-.9h0m1.7 0h0m-16 4h0m11.5-1.1h0m7.4-1.1h0m.7 1.9h0m1.6-1.5h0m-42.5 4.3h0m21.6-1.5h0m1.7 .7h0m.1 .6h0m2.4-.4h0m2.2 1h0m3-.6h0m2.2-1.5h0m1.7 .3h0m.3 .6h0m.2-.9h0m-36.7 4.4h0m.6 .1h0m24.4-1.9h0m.9 .4h0m1.1 .9h0m2.1-1.2h0m10.1 .8h0m-40.8 4.8h0m27.9-2.5h0m7.2 1.2h0m-33.4 4.6h0m26.6-.9h0m.9 .7h0m1.5-2.7h0m1.7 2.8h0m-35.6 2.5h0m5.5-.4h0m35.1-.4h0m-10 2.2h0m2.8-.6h0m.3 .7h0m.5 1.4h0m1.1-.5h0m2-.7h0m.5 0h0m7.3-.9h0m-39.2 3.1h0m.4 1h0m.6 .3h0m21.5-.3h0m.2-1.1h0m3.1 2.7h0m.1-2.3h0m1.8-.4h0m.3 .2h0m-34.2 3.9h0m24.4 .5h0m4.4 .8h0m.7-1.7h0m5.5 1.2h0m.5-2h0m-35.6 4.3h0m4.6-1.3h0m16.4 .7h0m1.4 .3h0m.4 0h0m.3-.1h0m.1-.3h0m3.4 1h0m15.9-.3h0m-20 4.6h0m2.8-2.9h0m3.1 5.8h0m.4-1.5h0m-7.9 2.4h0m2.4 .1h0" stroke="#8a8a8a" stroke-width="0.6" stroke-linecap="square" fill="none"/>
<path d="M286.7 29.6h0m-2.9 4.4h0m3.8-.6h0m1.5 1h0m-3.8 1.8h0m1.2-.3h0m.4 .7h0m.5-.3h0m.5 .9h0m1.6-.6h0m2.5-.5h0m-4.7 4.1h0m0-1.4h0m.2 1.1h0m.1-2.1h0m.5 .2h0m0 1.9h0m.4-.7h0m0-1.2h0m3.5 .3h0m2.3 2h0m-6.4 2.5h0m.3-.1h0m.1-1.8h0m0 .4h0m.1 2h0m.5 .2h0m0-1.3h0m.4 .2h0m.3-.6h0m.2-.8h0m.1-.1h0m.4 2.1h0m.8-.8h0m2.1-1.1h0m-5.4 3.3h0m1.3-.4h0m0 1.6h0m.6-.8h0m0 .2h0m.1-1.2h0m.9 2.5h0m-2.9 .6h0m.1 .6h0m.3 1.9h0m.2-.9h0m1.7-1.8h0m1.3 2.2h0m-3.6 2.1h0m.1-.8h0m.8-.2h0m.2 .8h0m0 1.3h0m.3-1.2h0m.9 .6h0m0-.9h0m0 .6h0m-.9 1.4h0m.3 .3h0m.5 1h0m.7 1.5h0m.8-.9h0m2.1 .3h0m.5-.3h0m-5.2 2.2h0m.1-.2h0m.2 .2h0m0-1h0m0 .9h0m.4 1.2h0m.5-.1h0m0 0h0m.2-.6h0m.1 .7h0m1.6-.1h0m.3 .3h0m.9 .2h0m1-2.4h0m.8 .6h0m-4.3 2.5h0m1 1.1h0m.2 .7h0m1.1 0h0m.2-.2h0m1.5 .1h0m.1-.2h0m3.7 .9h0m-5.6 .4h0m1.8 1.5h0m.9-.5h0m.2-.2h0m2.8 1.7h0m.7 .1h0m2-1h0m-5.8 1.3h0m.2-.1h0m.1 .1h0m0 1.3h0m.7 .2h0m.1 .7h0m.4-2.3h0m.1 .2h0m.6 .9h0m.3 1.3h0m.7 .4h0m.3-.8h0m.6-.1h0m.1 0h0m1.7 0h0m1.6 0h0m1.4-.5h0m-5.6 2.5h0m.1 .5h0m.1-.3h0m.1 .9h0m0-.6h0m.3 .9h0m.9 .2h0m.3 .2h0m1.1-1.2h0m.4-1h0m.2 1.3h0m1.1-.7h0m-3.6 3.1h0m.5 1.3h0m.4-1.8h0m.1 2.2h0m0-2.9h0m0 2.4h0m.2-1.5h0m.3-.3h0m.7 .4h0m.1-1h0m.3 1.1h0m-1.5 2.2h0m.7 1.3h0m0 1h0m.5 .2h0m.1-2.2h0m.1 .4h0m1.5-.5h0m.7 2.1h0m3.6-2.2h0m.1 .3h0m-6.9 5h0m0-.5h0m.2 .3h0m.5-.5h0m0 0h0m.3-1.7h0m.5 .6h0m.4 1.2h0m.8-.9h0m2.9-1.1h0m.3 .3h0m-6.9 4.9h0m.1 .6h0m.5-1h0m.2 .9h0m.6-2.4h0m.4 1.5h0m.3-.6h0m1.4-.6h0m-5.8 5.3h0m1.4-.9h0m.4-.8h0m0 0h0m.1-.3h0m.2-.1h0m.3 1.3h0m.1-1.4h0m.5 .2h0m0-.1h0m.4 1.1h0m0-.5h0m.2-.1h0m2.2 0h0m.9 1.6h0m-8.9 2.9h0m1.3-.9h0m.8-1.3h0m.1 1.2h0m.2-1.8h0m.1 .1h0m.1 1.6h0m0-.7h0m.6 .4h0m0-1.4h0m1 0h0m.2 1h0m2.8-.2h0m.2-.8h0m-11.4 5.8h0m1-.7h0m.3 .2h0m.4-.3h0m.2-.5h0m.2 1.1h0m.2-.6h0m.2-.1h0m.4-1.5h0m.2 0h0m.5 1.9h0m.1 .1h0m.3-2.4h0m.1 2.5h0m0-2.5h0m.4 2.5h0m.2-.6h0m.6-.5h0m.5-.3h0m3.2 1h0m-11.6 3h0m1-.6h0m.4 .1h0m.2-1h0m.2 1.5h0m0 .2h0m.3-2.1h0m.2 2.5h0m.4-1.7h0m.4 .6h0m.1-1.3h0m.4 1.9h0m.3-1.8h0m.2 .5h0m.6-.5h0m2.5 1.6h0m2.1-1.5h0m1.4 1.8h0m-15.5 3.5h0m.2-.8h0m.5-.6h0m.1 .1h0m.3-.6h0m.1 .1h0m.1 1.5h0m0-.4h0m.2-1.1h0m.6 .2h0m.2-.4h0m.1-.6h0m.2 1.4h0m.1-.4h0m.7-.4h0m.5 .5h0m.4 1.2h0m1.3-1.9h0m.4 1.9h0m.2-2.6h0m.4 .5h0m1.5 .2h0m2.7-.6h0m-11.8 3.1h0m.2 2h0m.3-1.8h0m.8 .3h0m.5 1.1h0m1.6-1.1h0m1.9 1.4h0" stroke="#555" stroke-width="0.6" stroke-linecap="square" fill="none"/>
<path d="M281.2 96.9 280.7 96.9 280.2 96.6 278.9 94.9 278.1 93.4 277.5 91.4 276.4 85.9 276.1 78.9 276.4 73.9 278.2 63.0 279.1 53.4 279.1 49.9 278.4 45.9 278.2 40.9 279.3 37.4 279.7 36.9 282.7 36.0 285.2 36.9 285.7 37.4 287.1 40.9 286.9 45.4 287.1 50.4 287.7 54.4 288.4 56.9 289.2 58.3 291.4 60.9 294.6 65.4 298.4 69.9 300.3 74.9 300.0 78.9 299.3 82.4 296.0 86.9 284.2 95.7 282.2 96.6 281.2 96.9Z" fill="#fafafa" stroke="#000" stroke-width="0.6" fill-rule="evenodd"/>
<path d="M281.2 95.0 280.7 95.0 280.0 94.4 279.0 92.9 278.3 91.4 277.5 87.9 277.0 84.9 276.8 78.4 277.1 74.4 278.2 67.3 279.6 56.4 280.2 53.4 280.9 51.4 281.2 49.9 281.3 47.4 280.7 43.9 280.7 41.9 281.2 40.4 281.7 40.1 282.7 39.8 283.7 40.2 284.5 41.9 284.4 45.9 284.5 49.4 284.8 50.9 285.7 53.2 287.2 59.4 287.7 60.4 290.2 63.4 292.7 66.9 296.2 71.1 297.7 74.9 297.8 75.9 297.6 79.4 296.9 82.4 294.3 85.9 283.7 94.0 281.2 95.0Z" fill="#e4e4e4" stroke="#000" stroke-width="0.3" fill-rule="evenodd"/>
<path d="M281.7 94.0 280.7 94.1 280.2 93.7 279.0 91.9 278.4 90.4 277.5 85.9 277.2 83.4 277.1 79.4 277.3 75.4 279.5 59.4 280.2 56.1 280.7 55.3 281.2 55.0 284.7 55.0 285.2 55.5 286.7 60.7 287.2 61.8 295.2 71.9 296.6 75.4 296.5 78.9 295.6 82.4 293.2 85.6 285.2 91.7 283.7 93.0 281.7 94.0Z" fill="#d6d6d6" stroke="#000" stroke-width="0.3" fill-rule="evenodd"/>
<path d="M281.2 93.4 280.7 93.4 279.8 92.4 278.9 90.9 278.4 89.4 277.4 82.9 277.3 79.4 277.5 75.9 279.5 61.4 280.2 57.8 280.7 57.1 284.2 57.0 284.7 57.2 285.2 58.0 286.7 62.6 294.4 72.4 295.8 75.9 295.6 78.9 295.0 81.9 292.4 85.4 285.2 90.9 283.2 92.6 281.2 93.4Z" fill="#c8c8c8" stroke="#000" stroke-width="0.3" fill-rule="evenodd"/>
<path d="M282.2 92.4 280.7 92.7 279.7 91.5 278.9 89.9 278.0 85.4 277.6 81.4 277.6 78.4 277.9 73.9 279.9 60.9 280.2 59.3 280.7 58.6 284.2 58.7 284.7 59.0 286.2 63.4 293.7 72.9 294.9 76.4 294.7 79.4 294.1 81.9 291.9 84.9 285.2 90.1 283.2 91.9 282.2 92.4Z" fill="#b8b8b8" stroke="#000" stroke-width="0.3" fill-rule="evenodd"/>
<path d="M281.7 91.9 280.7 92.0 279.8 90.9 279.0 89.4 278.4 86.4 277.8 81.4 277.9 76.4 278.4 71.9 279.9 62.4 280.2 60.9 280.7 60.2 284.2 60.3 284.7 61.2 286.1 64.9 292.7 73.2 293.9 76.4 293.8 79.4 293.3 81.4 293.2 81.9 291.3 84.4 285.2 89.2 283.2 91.2 281.7 91.9Z" fill="#a6a6a6" stroke="#000" stroke-width="0.3" fill-rule="evenodd"/>
<path d="M282.2 91.0 281.2 91.3 280.7 91.3 279.2 89.0 278.5 85.4 278.1 81.4 278.1 77.4 278.5 72.9 279.9 63.9 280.2 62.5 280.7 61.7 283.7 61.8 284.2 62.2 285.7 66.1 291.7 73.6 293.0 76.9 292.8 79.4 292.4 81.4 290.7 83.9 290.2 84.4 286.2 87.5 283.2 90.4 282.2 91.0Z" fill="#929292" stroke="#000" stroke-width="0.3" fill-rule="evenodd"/>
<path d="M281.7 90.5 280.7 90.6 279.8 89.4 279.2 88.1 278.3 81.4 278.4 76.4 278.9 71.4 280.1 64.4 280.7 63.1 283.7 63.4 284.2 64.3 285.2 67.0 291.0 74.4 292.0 76.9 291.8 79.4 291.4 81.4 290.0 83.4 289.6 83.9 285.7 87.0 282.8 89.9 281.7 90.5Z" fill="#7c7c7c" stroke="#000" stroke-width="0.3" fill-rule="evenodd"/>
<path d="M282.2 89.4 281.2 89.8 280.7 89.8 279.5 87.9 279.0 85.4 278.6 81.4 278.6 76.9 279.0 72.9 280.1 66.4 280.7 64.7 283.2 64.9 283.7 65.4 284.7 68.2 289.9 74.9 290.8 77.4 290.6 79.9 290.3 81.4 289.9 81.9 288.7 83.5 285.7 85.9 282.9 88.9 282.2 89.4Z" fill="#646464" stroke="#000" stroke-width="0.3" fill-rule="evenodd"/>
<path d="M282.2 88.5 281.2 88.9 280.7 88.8 279.7 87.2 279.3 85.9 278.9 81.9 278.8 77.4 279.1 74.4 279.9 68.9 280.2 67.6 280.7 66.4 282.2 66.6 283.2 66.9 284.4 69.9 288.7 75.7 289.5 77.9 289.3 79.9 288.8 81.4 287.7 82.9 285.7 84.6 282.7 88.1 282.2 88.5Z" fill="#4a4a4a" stroke="#000" stroke-width="0.3" fill-rule="evenodd"/>
<path d="M281.2 87.9 280.7 87.9 279.6 85.9 279.1 81.4 279.1 78.9 279.3 74.4 279.9 70.9 280.7 68.1 281.2 68.1 282.7 68.6 283.0 68.9 284.2 71.8 285.8 74.4 287.3 76.4 288.0 78.4 287.6 80.9 287.3 81.4 286.6 82.4 284.7 84.3 282.7 87.0 282.2 87.5 281.2 87.9Z" fill="#303030" stroke="#000" stroke-width="0.3" fill-rule="evenodd"/>
<path d="M281.2 87.0 280.7 86.9 280.1 85.9 279.8 84.9 279.4 81.9 279.3 78.9 279.5 75.9 280.0 71.9 280.7 69.8 281.2 69.7 282.2 70.1 282.7 70.6 283.7 73.1 285.9 77.4 286.3 78.9 286.1 80.4 285.4 81.9 282.3 86.4 281.2 87.0Z" fill="#1c1c1c" stroke="#000" stroke-width="0.3" fill-rule="evenodd"/>
<path d="M281.2 86.0 280.7 85.9 280.0 84.4 279.6 81.4 279.6 78.9 279.7 75.9 280.2 72.8 280.7 71.3 281.2 71.2 282.2 71.7 282.6 72.4 284.7 77.9 284.9 78.9 284.6 80.9 283.4 83.4 282.2 85.4 281.2 86.0Z" fill="#0e0e0e" stroke="#000" stroke-width="0.3" fill-rule="evenodd"/>
<path d="M319.3 30.2h0m3.2 .3h0m-8 2.4h0m.2 .9h0m3.9-1.2h0m2.9 0h0m-8.2 1.9h0m.5 1h0m2.4 1h0m.8-1.2h0m1.4 1.4h0m.2-1.7h0m.5 1.6h0m.5 .5h0m.2 0h0m1.2-1.6h0m1.5 0h0m.8 .8h0m.2 .7h0m-11.5 .8h0m1.1 .8h0m.9 1.6h0m1.2-.1h0m1.3-1.7h0m1-.8h0m5 .3h0m1.2 .2h0m.6-.3h0m.5 2.1h0m-7.9 1.1h0m.5 .9h0m.7 .6h0m2.8 .8h0m-5.2 1.8h0m8.2-1.5h0" stroke="#888" stroke-width="0.6" stroke-linecap="square" fill="none"/>
<ellipse cx="317.7" cy="37.2" rx="7.6" ry="6.6" fill="none" stroke="#444" stroke-width="0.55"/>
<ellipse cx="317.7" cy="37.2" rx="4.6" ry="3.6" fill="none" stroke="#444" stroke-width="0.55"/>
<ellipse cx="317.7" cy="37.2" rx="2.2" ry="1.6" fill="none" stroke="#222" stroke-width="0.8"/>
<ellipse cx="317.7" cy="37.2" rx="11.4" ry="10.8" fill="none" stroke="#555" stroke-width="0.8"/>
<text x="313.5" y="58.6" font-size="12.3">0.002</text>
<rect x="366.1" y="15.3" width="88.4" height="88.0" fill="none" stroke="#7a7a7a" stroke-width="1.1"/>
<path d="M363.9 23.8H366.1M363.9 43.6H366.1M363.9 64.1H366.1M363.9 90.1H366.1M388.1 103.3V105.5M399.3 103.3V105.5M424.4 103.3V105.5M446.1 103.3V105.5" stroke="#555" stroke-width="0.8"/>
<text x="362.1" y="25.5" font-size="4.8" text-anchor="end" fill="#555" stroke="none">10<tspan font-size="3.2" dy="-1.7">5</tspan></text>
<text x="362.1" y="45.3" font-size="4.8" text-anchor="end" fill="#555" stroke="none">10<tspan font-size="3.2" dy="-1.7">4</tspan></text>
<text x="362.1" y="65.8" font-size="4.8" text-anchor="end" fill="#555" stroke="none">10<tspan font-size="3.2" dy="-1.7">3</tspan></text>
<text x="362.1" y="91.8" font-size="4.8" text-anchor="end" fill="#555" stroke="none">0</text>
<text x="388.1" y="111.5" font-size="4.8" text-anchor="middle" fill="#555" stroke="none">0</text>
<text x="399.3" y="111.5" font-size="4.8" text-anchor="middle" fill="#555" stroke="none">10<tspan font-size="3.2" dy="-1.7">3</tspan></text>
<text x="424.4" y="111.5" font-size="4.8" text-anchor="middle" fill="#555" stroke="none">10<tspan font-size="3.2" dy="-1.7">4</tspan></text>
<text x="446.1" y="111.5" font-size="4.8" text-anchor="middle" fill="#555" stroke="none">10<tspan font-size="3.2" dy="-1.7">5</tspan></text>
<path d="M396.1 18.7h0m7.8 1.2h0m2.5 1h0m2.9 .7h0m-14.3 9.1h0m13.1 0h0m-21.8 1.5h0m13.2 .3h0m0 .8h0m5.6-1.6h0m1 2.4h0m5.8-.5h0m-30.9 3.6h0m4.5 .3h0m12.7-1h0m.3-1.4h0m9.5 2.3h0m-12.5 1h0m1.9 1.8h0m4.5-1.3h0m1.7 1.3h0m3.7-1.9h0m4.6 1.7h0m-25.8 .6h0m7.4 .2h0m2.5 .2h0m1.4-.5h0m1.3 .2h0m1.4 2.7h0m1.5-2.7h0m4.2 2.7h0m-19.1 .3h0m8.9 0h0m.1 2h0m1.3-2.1h0m.3 1.7h0m2.2-.6h0m2 0h0m2.2 .2h0m17.7-.6h0m-27.4 4.9h0m2.6-1.8h0m.5 1.9h0m2.8 0h0m.9-1.3h0m1.8 1.3h0m3.9 0h0m.8-.6h0m1 0h0m.6-.5h0m2.9-1.7h0m3 2h0m1.5 .8h0m-31.5 2.1h0m11.8 .3h0m.3-1.7h0m1.2-.4h0m.4 2.1h0m.3-1.4h0m.4 .6h0m.8 .7h0m1.7-1.3h0m2.9 1.5h0m.1-.2h0m1.2-1.3h0m3.8 1.2h0m5.3-1.2h0m2.6 .8h0m-23.7 2.8h0m.6 .4h0m.7-1.6h0m.3 1.2h0m0-.1h0m1.1-1h0m3.6 1.6h0m.5-.3h0m.2 .5h0m.6 .7h0m.6-.6h0m.5 .7h0m.2-.3h0m.4-2h0m3.6 2.4h0m4.1-1h0m.6-1.2h0m-31.3 5h0m14.1 0h0m.1-1.5h0m1.3-.7h0m1.5 1.6h0m0-1.3h0m.2 1.3h0m1.3-2.1h0m.8 .6h0m2.7 0h0m3.3 .4h0m.4-.3h0m.2 1.2h0m3-1h0m1.4 .4h0m.6 1.2h0m11.8-1.3h0m-35.9 2.1h0m8.3 2.3h0m.3-.7h0m.2 .5h0m0-2.2h0m2.1 2.3h0m.4 .4h0m1-2.5h0m1 1h0m0 1.5h0m.6-.6h0m.3-2.4h0m.9 2.2h0m.6-1.2h0m.9 .3h0m.5-1.1h0m1.2 .6h0m.8 1.2h0m.5 .2h0m.4-.6h0m1-1h0m.9 1.7h0m3-1.8h0m4.7 2.1h0m3.8-1h0m-37.5 3.9h0m.1-.1h0m12.4-.6h0m.8-1.6h0m3.6 .1h0m.2 1.8h0m1.5-.1h0m1.8 .6h0m1.6-1.4h0m1 1.4h0m.7-1.3h0m1.5-.6h0m.2 1h0m2.9 .3h0m.6 .5h0m3.9-1.2h0m1-1h0m-33.8 3.8h0m13.9-.2h0m2.4 .6h0m2.6 .1h0m4 .4h0m0 1h0m1.4-2.2h0m1.1 .1h0m1 .5h0m3.3-.8h0m5.3 1.3h0m-33.4 1.4h0m16.3 1.3h0m1 .2h0m.9-1.1h0m9.3 1.9h0m3.9-.3h0m-39.5 2.4h0m7.7-.9h0m.6-.1h0m17.1 .3h0m.4-.8h0m3.4 2.8h0m.7-.7h0m1.4 .3h0m1.6-1.8h0m.6 .1h0m.2 .4h0m1.2-.7h0m1-.3h0m1.1 .1h0m4.4 .9h0m.7-.9h0m-37 4.4h0m25.1-.5h0m.1-.8h0m1.8-.3h0m4.4 2h0m-36.2 1.9h0m5.7-.2h0m1.4-.2h0m.5-.1h0m.2 1.5h0m19.8-2.1h0m2.6 1.5h0m.3 1h0m1.2-2.3h0m.1 .6h0m5.5-.2h0m.1-.3h0m.6 1.6h0m-39.7 3.8h0m1.7-.9h0m2.4-.1h0m4.3 1.8h0m.1 2h0m21.2-2.2h0m-23.3 2.8h0m1.5 .3h0m17 1.7h0m2.1-.8h0m1.2-.1h0m6.4-.1h0m-26.1 3.3h0m.9 1.3h0m14.4 .3h0m3-.4h0m1-1.8h0m4.9 1.3h0m.2-1.7h0m1-.1h0m.1-.1h0m3.4 1.9h0m-16.6 2.1h0m6.9 .4h0m3.3-.5h0m.3 1.3h0m-14.7 3h0m.5 .1h0m5.8-1.4h0m15.2 0h0m-15.4 3.7h0m4.4-1.4h0m.1 1.1h0m-14.3 2.2h0m.7 1.4h0" stroke="#8a8a8a" stroke-width="0.6" stroke-linecap="square" fill="none"/>
<path d="M390.3 26.8h0m2.8 1.1h0m1-.2h0m-3.2 3.6h0m0-.8h0m.3 .9h0m.7-.1h0m.1-.7h0m.1-.4h0m2.2-1.5h0m1.3 1.8h0m2.1-.6h0m-6.1 2h0m.3 .7h0m.2-.4h0m.1-.2h0m0-.1h0m0 .6h0m.2 1h0m.6-.1h0m.5 .4h0m.8-1.5h0m1.1 1.9h0m1.4-1.9h0m1.2 1.2h0m-4.9 1.3h0m.8-.1h0m.1 1h0m.1-1h0m.5 0h0m-.7 3.3h0m0 .5h0m.7 1h0m.4-1h0m.7 .7h0m.6 .2h0m2.7-1.6h0m-5.5 3.8h0m.1 1.6h0m.4-2h0m.3-.2h0m.2 1.2h0m.2-.3h0m.4 .3h0m.1 1.1h0m.1-.5h0m.9-1.4h0m0 1.1h0m2.2-1h0m.7-.7h0m-5 3.8h0m0 1.3h0m.2-1.9h0m.1 .2h0m0-.3h0m.8 .4h0m.4-.7h0m.5 1.5h0m.5-.7h0m-1.8 3.9h0m.3 .4h0m.1-1.3h0m.2-.9h0m.8 1.6h0m.4 1.4h0m1.8-2.4h0m.6 2.3h0m-5 2.9h0m0 0h0m.2 0h0m.2-1.4h0m0 .2h0m1.7 .2h0m1-.8h0m.1 1.8h0m.4-.5h0m-3.4 1h0m.2 2.7h0m.2-2h0m.1 1.2h0m.3-1.9h0m.2 1h0m.1-.4h0m.5 1.1h0m.3-1.7h0m.4 1.6h0m.1-1.2h0m.1 1.4h0m.1-1.4h0m-2.4 2.4h0m0 2.8h0m.1-.7h0m.1-1.7h0m.1 1.2h0m.5-.4h0m.9 .6h0m.1-1.1h0m.4 1.4h0m1.8-1.8h0m.7 2.3h0m1.1-.4h0m-5.2 1h0m.3 1.2h0m.3-.6h0m.2 .3h0m.6 1.6h0m.1-1.7h0m.4-.1h0m.7 .5h0m.3-.2h0m1.5-.1h0m-3.9 2.5h0m.2-.6h0m.1 .5h0m0 .5h0m.6-.3h0m.1 1.1h0m.4 .7h0m0-.8h0m.2-1.4h0m.1 2h0m.3 .1h0m0-1.2h0m0-.5h0m3.2 2h0m2.3 .1h0m-5.3 .1h0m.5 1.5h0m.6 .8h0m.3 .2h0m0-2.5h0m.4 2.3h0m.9-1h0m1.7-.7h0m.3 .7h0m2.8 .6h0m1.3-.9h0m-6.2 2.4h0m.7-.2h0m0 1.4h0m0 .8h0m.2-1.1h0m.4 1.4h0m.3-1h0m.6-.9h0m.3 1.2h0m.2-1h0m.2 .7h0m1.3-.6h0m1.7 1.1h0m-3.9 1.5h0m.5 1.4h0m.1-1.4h0m0 1h0m0 .1h0m.1-1h0m.9-.4h0m.2 .2h0m.6 1h0m.1 .6h0m0-2.2h0m.1 1.2h0m.3-.8h0m1-.2h0m.7 1.2h0m2.6-1.2h0m-5.6 2.9h0m.3 1.1h0m.8 .8h0m.4 .3h0m.6 .6h0m.4-1h0m-2 3.6h0m.1-.1h0m.2-1.7h0m1.1 2h0m1.3-.6h0m2.2-.5h0m-5.3 3.7h0m.4-.3h0m.7-1.2h0m1 .5h0m-3.6 4.7h0m.6-1.9h0m.1 1.2h0m.1 .6h0m.2-1.7h0m.6-.3h0m.7 2h0m.1-2h0m.5 .7h0m.3-1h0m.4 .9h0m4-.5h0m-9.2 4.7h0m.4-2.4h0m.4 1.4h0m0-1.2h0m0 .5h0m.1-.8h0m.5 2.4h0m.4-.6h0m.1-1.4h0m.4 .3h0m.7 .6h0m.1 0h0m.3 .8h0m-7.6 3.5h0m.1 0h0m.9 .2h0m.4-.5h0m.6-.2h0m.3-2.2h0m0 2.3h0m.4 .1h0m.4 .1h0m.1-1h0m1-1.5h0m0 2.1h0m.1-.7h0m.1-.6h0m.1 1.2h0m-7.9 3.4h0m1-.3h0m.1 .2h0m.1-.6h0m1-.5h0m.2 0h0m.4-1.1h0m.4 1.2h0m.2-1.2h0m.4 .5h0m1 1h0m.3-1.6h0m.7 .2h0m.9 1h0m.2-1.1h0m1.7 1h0m3.3-.5h0m-13.6 5h0m0-.4h0m.7-1h0m.4 .6h0m1.6-.1h0m.1-1.8h0m.4 .2h0m4.5 1.6h0m-8.9 3.2h0m.9-1.1h0m.2 .9h0m.2-.3h0m.3-.4h0m1.2 .5h0m.4 .8h0m1.2-.6h0m1.2-.7h0m.4 1.8h0m1.4-.8h0m-7.3 1h0m.2 1.7h0" stroke="#555" stroke-width="0.6" stroke-linecap="square" fill="none"/>
<path d="M389.7 96.6 388.7 96.6 388.2 96.4 387.7 95.9 386.6 93.9 385.8 91.9 385.0 88.4 384.5 85.4 384.2 79.4 384.5 73.4 385.4 67.4 386.2 63.7 386.9 57.9 387.0 40.4 387.2 34.2 387.7 32.9 389.7 32.6 391.2 32.9 391.7 33.5 391.8 33.9 392.5 40.4 393.4 55.4 393.8 58.4 394.5 61.4 395.2 63.2 396.2 64.9 399.8 68.9 401.9 71.9 403.3 74.9 403.1 79.4 402.7 82.4 402.5 82.9 397.2 89.5 394.2 92.2 390.7 96.0 389.7 96.6Z" fill="#fafafa" stroke="#000" stroke-width="0.6" fill-rule="evenodd"/>
<path d="M390.2 94.5 389.2 94.7 388.2 94.5 387.0 92.4 386.1 89.9 385.5 87.4 384.9 81.9 385.0 74.9 385.9 68.9 387.4 62.9 387.7 62.1 388.7 61.8 390.7 62.1 392.7 62.6 393.0 62.9 395.2 66.5 398.5 70.4 400.3 72.9 401.5 75.4 401.4 78.9 400.9 82.4 396.1 88.4 393.7 90.6 390.2 94.5Z" fill="#e4e4e4" stroke="#000" stroke-width="0.3" fill-rule="evenodd"/>
<path d="M390.2 93.5 389.7 93.8 388.7 93.7 388.2 93.5 387.5 92.4 386.5 89.9 386.0 87.9 385.3 82.9 385.3 75.4 385.9 70.4 387.5 64.4 387.7 64.0 388.7 63.6 390.2 63.8 392.2 64.3 392.7 64.7 398.5 71.9 399.5 73.4 400.6 75.9 400.5 79.4 400.0 82.4 395.7 87.7 393.7 89.6 390.2 93.5Z" fill="#d6d6d6" stroke="#000" stroke-width="0.3" fill-rule="evenodd"/>
<path d="M389.7 93.1 388.7 93.1 388.2 92.8 387.0 90.4 386.0 86.4 385.4 81.4 385.5 75.4 386.3 69.9 387.7 65.1 388.2 64.7 388.7 64.7 390.2 64.8 392.2 65.5 397.6 71.9 399.0 73.9 399.9 75.9 400.0 76.4 399.9 79.4 399.5 81.9 399.2 82.4 395.2 87.4 393.7 88.8 390.7 92.4 389.7 93.1Z" fill="#c8c8c8" stroke="#000" stroke-width="0.3" fill-rule="evenodd"/>
<path d="M389.7 92.4 388.7 92.4 388.2 92.2 386.9 89.4 386.0 84.9 385.6 80.9 385.7 75.4 386.4 70.9 387.7 66.1 388.2 65.6 388.7 65.6 390.2 65.7 391.7 66.2 392.2 66.5 397.1 72.4 398.5 74.4 399.3 76.4 399.2 79.4 398.9 81.9 394.9 86.9 393.2 88.6 390.7 91.7 389.7 92.4Z" fill="#b8b8b8" stroke="#000" stroke-width="0.3" fill-rule="evenodd"/>
<path d="M390.2 91.4 389.7 91.7 388.7 91.7 388.2 91.4 387.9 90.9 386.8 87.9 385.9 82.4 385.9 75.9 386.4 71.9 387.7 67.1 388.2 66.5 388.7 66.4 390.2 66.6 391.9 67.4 396.2 72.4 397.6 74.4 398.6 76.4 398.6 79.4 398.1 81.9 394.6 86.4 390.2 91.4Z" fill="#a6a6a6" stroke="#000" stroke-width="0.3" fill-rule="evenodd"/>
<path d="M389.7 91.0 388.7 91.0 388.2 90.7 387.4 88.9 386.5 85.4 386.1 81.4 386.1 75.9 386.6 72.4 387.7 68.2 388.2 67.4 388.7 67.3 390.2 67.5 391.7 68.2 396.0 73.4 397.0 74.9 397.9 76.9 397.8 79.4 397.6 81.4 397.3 81.9 391.2 89.6 389.7 91.0Z" fill="#929292" stroke="#000" stroke-width="0.3" fill-rule="evenodd"/>
<path d="M390.2 89.9 389.7 90.3 388.7 90.3 388.2 89.9 388.0 89.4 387.0 86.9 386.3 81.9 386.3 76.4 386.8 72.4 387.8 68.9 388.2 68.2 388.7 68.2 390.2 68.4 391.2 68.8 391.7 69.2 395.4 73.9 396.4 75.4 397.1 76.9 397.1 79.4 396.8 81.4 391.6 88.4 390.2 89.9Z" fill="#7c7c7c" stroke="#000" stroke-width="0.3" fill-rule="evenodd"/>
<path d="M389.7 89.5 389.2 89.6 388.6 89.4 388.2 89.0 387.5 87.4 386.9 84.9 386.5 81.4 386.5 76.9 386.9 73.4 387.9 69.9 388.2 69.2 388.7 69.1 389.7 69.1 391.2 69.8 395.3 75.4 396.3 77.4 396.3 79.4 396.0 81.4 391.2 88.0 389.7 89.5Z" fill="#646464" stroke="#000" stroke-width="0.3" fill-rule="evenodd"/>
<path d="M389.7 88.6 388.7 88.6 387.9 87.4 387.3 85.4 386.8 81.4 386.8 76.9 387.2 73.9 388.2 70.4 388.7 70.1 390.2 70.4 391.2 71.1 394.7 76.4 395.3 77.9 395.2 79.9 394.9 81.4 391.2 86.9 389.7 88.6Z" fill="#4a4a4a" stroke="#000" stroke-width="0.3" fill-rule="evenodd"/>
<path d="M389.7 87.6 388.7 87.7 388.2 86.9 387.5 84.9 387.0 81.4 387.0 77.4 387.3 74.9 388.2 71.5 388.7 71.2 389.7 71.3 390.8 71.9 393.8 76.9 394.2 78.4 394.1 80.9 391.2 85.9 389.7 87.6Z" fill="#303030" stroke="#000" stroke-width="0.3" fill-rule="evenodd"/>
<path d="M389.7 86.6 389.2 86.8 388.7 86.7 388.2 85.8 387.7 84.2 387.3 81.4 387.3 77.4 387.5 75.4 388.2 72.8 388.7 72.3 389.7 72.4 390.7 73.1 392.5 76.4 393.2 78.4 393.1 80.9 391.1 84.9 389.7 86.6Z" fill="#1c1c1c" stroke="#000" stroke-width="0.3" fill-rule="evenodd"/>
<path d="M389.2 85.9 388.7 85.8 387.9 83.9 387.5 81.4 387.5 78.9 387.7 76.1 388.2 74.0 388.7 73.3 389.2 73.3 390.2 73.7 390.7 74.4 391.9 76.9 392.4 78.9 392.4 80.4 391.5 82.9 390.2 85.2 389.2 85.9Z" fill="#0e0e0e" stroke="#000" stroke-width="0.3" fill-rule="evenodd"/>
<path d="M422.2 31.5h0m.5-.2h0m2.2 2.4h0m.9-.7h0m.7 .3h0m-9.7 2.7h0m5.4 .3h0m4 .3h0m.9-1.9h0m1.6 1.4h0m-10.1 3.8h0m1.9-.3h0m4 0h0m.6-.9h0m1.7 .6h0m.2 .5h0m.6 .4h0m4-.2h0m.4-1.1h0m-12 3.2h0m5.8-1.3h0m.4 2.1h0m3.4-1.1h0m.1-.9h0m-5 4.8h0" stroke="#888" stroke-width="0.6" stroke-linecap="square" fill="none"/>
<ellipse cx="425.6" cy="37.5" rx="11.8" ry="11.2" fill="none" stroke="#555" stroke-width="0.8"/>
<text x="415.0" y="58.6" font-size="12.3">8.5E-5</text>
<rect x="46.5" y="115.2" width="87.9" height="89.1" fill="none" stroke="#7a7a7a" stroke-width="1.1"/>
<path d="M44.3 123.7H46.5M44.3 143.5H46.5M44.3 164.0H46.5M44.3 190.0H46.5M68.5 204.3V206.5M79.7 204.3V206.5M104.8 204.3V206.5M126.5 204.3V206.5" stroke="#555" stroke-width="0.8"/>
<text x="42.5" y="125.4" font-size="4.8" text-anchor="end" fill="#555" stroke="none">10<tspan font-size="3.2" dy="-1.7">5</tspan></text>
<text x="42.5" y="145.2" font-size="4.8" text-anchor="end" fill="#555" stroke="none">10<tspan font-size="3.2" dy="-1.7">4</tspan></text>
<text x="42.5" y="165.7" font-size="4.8" text-anchor="end" fill="#555" stroke="none">10<tspan font-size="3.2" dy="-1.7">3</tspan></text>
<text x="42.5" y="191.7" font-size="4.8" text-anchor="end" fill="#555" stroke="none">0</text>
<text x="68.5" y="212.5" font-size="4.8" text-anchor="middle" fill="#555" stroke="none">0</text>
<text x="79.7" y="212.5" font-size="4.8" text-anchor="middle" fill="#555" stroke="none">10<tspan font-size="3.2" dy="-1.7">3</tspan></text>
<text x="104.8" y="212.5" font-size="4.8" text-anchor="middle" fill="#555" stroke="none">10<tspan font-size="3.2" dy="-1.7">4</tspan></text>
<text x="126.5" y="212.5" font-size="4.8" text-anchor="middle" fill="#555" stroke="none">10<tspan font-size="3.2" dy="-1.7">5</tspan></text>
<path d="M53.3 204.3 V153.9 H103.1 V204.3" fill="none" stroke="#777" stroke-width="0.9"/>
<path d="M86.9 128.5h0m.6 1.8h0m1.4-.2h0m-9.2 2.6h0m3.2 .3h0m1.2-.4h0m.5-.2h0m3.2-1.5h0m9.3 .9h0m-23 1.9h0m3 2.1h0m.7-.8h0m.4 .5h0m.1 .5h0m2.7-.9h0m1.4 .8h0m.7-.7h0m.5-1h0m1.1-.5h0m1 1.6h0m.1 .5h0m1-.8h0m.4 .9h0m.7-.1h0m1-1.4h0m1.1 1.2h0m1 .7h0m.8-2.1h0m0 .5h0m4.4-.4h0m.1 1.2h0m.9 .2h0m1-1.6h0m1.2 1.6h0m-27.3 3.7h0m1.3-.3h0m.1-.4h0m.1-1.1h0m.7 .2h0m.3 1.7h0m.3-2.5h0m.3 1.4h0m.1 1.1h0m0-1.5h0m2.5 .4h0m.5-.4h0m.9-.6h0m1.2 1.2h0m.4 .6h0m.2-.9h0m0-.9h0m.1 1.8h0m.9-1.2h0m1.3 .3h0m.4 1.1h0m.3-1.2h0m.2 .7h0m.1-1.3h0m.1 1.7h0m.1-2.2h0m0 .9h0m.3 .1h0m.2 1.4h0m.4-2.9h0m.6 2.6h0m.2-.2h0m.8-.2h0m.9-2.3h0m.1 2.8h0m.1-.6h0m.1-1.1h0m.8-.7h0m.3-.3h0m.3 2.7h0m.1 .2h0m.9-2.3h0m.8 .6h0m0-.7h0m.9 1.4h0m5.5 .6h0m1.2-.8h0m3.5-.8h0m4.1 1h0m-42 3.4h0m1.1-1.2h0m.1-.7h0m3.6 1.9h0m4.7-.4h0m.4-1.7h0m.3 1.6h0m.4-1.5h0m.1 .4h0m.2 2h0m.2-1.4h0m.8 1h0m1-.4h0m.1-.2h0m.3-1h0m.5 1.4h0m.1-.7h0m0 1.3h0m.2-1.2h0m.4 .9h0m.6-1h0m.1-.5h0m0 .1h0m.8-.7h0m0 2.3h0m0-2.5h0m.3 .4h0m.9-.2h0m.3 .7h0m.7 .2h0m0-.8h0m.2-.1h0m.8 .4h0m.1 2.1h0m.1-2.7h0m.3 1.7h0m.8-1.5h0m.1 1.3h0m1.2-.3h0m.1-.6h0m.8 .9h0m.4-.7h0m.4 .9h0m.2 .6h0m.5-2h0m.2 1.4h0m.1-.2h0m1 1h0m.3 .1h0m.6-1h0m.7-.1h0m.6-1.6h0m.7 2.3h0m.1-2.1h0m2.6 1.3h0m.8 1.1h0m0-1.2h0m1.1-.1h0m2.4 .5h0m1.6-.4h0m-39.9 3.6h0m.8-1h0m4.7-.8h0m.7 2.6h0m.8-.3h0m.8-1.7h0m1.1 2h0m0-1h0m.1-.7h0m1.1-.5h0m.7-.2h0m.1-.5h0m.2 .4h0m.5 2.3h0m.5-2.6h0m.2 .4h0m.2 .5h0m.1-1h0m.6 .5h0m.6 1.8h0m.2 .2h0m.5-.8h0m0 .8h0m0-.9h0m.1-.3h0m.2 .6h0m.3 .3h0m.5-2h0m.1 .9h0m.4 .1h0m.1 1.3h0m.1-1.3h0m.8-.9h0m.1-.3h0m.5 1.9h0m.3 0h0m0-.4h0m1.5-.2h0m1.6-1.1h0m.3 1.3h0m.2 .6h0m.1-.3h0m.4-.9h0m.1 .4h0m.4 1.6h0m1.9-.9h0m0-.7h0m.1 1.7h0m.5-1h0m.6-1h0m0-.5h0m.1 .2h0m.1-.7h0m1 2.5h0m1-2h0m0-.3h0m.2 .6h0m0 1.5h0m.7-1.7h0m.7 2.3h0m.1-1h0m1.3 .4h0m.1 .7h0m1-.1h0m1.9-.1h0m1.1-.2h0m2.3-1.1h0m1.5-.3h0m-36.5 3.2h0m.5-.3h0m.6 .2h0m.2 1.2h0m.1-2.1h0m1.3 1.9h0m1.2-1.3h0m.2 .8h0m2.1 1.1h0m.5-1.3h0m.1 1.2h0m0-.7h0m2.5-.7h0m0-1.3h0m.2 1.7h0m.2-.3h0m1.3 .4h0m.3-.9h0m.3-.3h0m1.8 .5h0m.6 .8h0m.1-.3h0m2-.3h0m.6 .2h0m0 1h0m0-.6h0m.2 0h0m.4-1.2h0m.1 .4h0m0-.7h0m.1-.4h0m.2 2.5h0m.1-2.3h0m.1 0h0m.1 1.6h0m.2 .4h0m.3-.1h0m.4-1.3h0m1-.6h0m1.3 0h0m.3 1h0m2.7-1h0m1.6 1.8h0m.7 .6h0m.5-2.4h0m-31.6 3.4h0m2.3 1.6h0m2.1-1.8h0m4.2 2.3h0m.8-1.9h0m.4-.1h0m.8 1.8h0m1-1.9h0m.7 1.2h0m.5-1.1h0m.1 1h0m1.2-1.8h0m1.1 1.2h0m.3 .9h0m0-.8h0m.4-.8h0m.3 1.1h0m1.6-.1h0m1.4 .9h0m.7-1.9h0m.6-.1h0m.6 2.3h0m.1-2.3h0m.6 1.7h0m.1 .2h0m.4-1.3h0m.5-1h0m1.2 2.7h0m.8-1.1h0m1.9-.6h0m-23.2 3.5h0m2.4 1.4h0m2-2.7h0m.5 1h0m.4-1h0m2.6 1.4h0m.4 .8h0m1.4-.9h0m3.6-1.4h0m5.2 .3h0m.1 .2h0m-20.7 2.6h0m1.3 1.7h0m7 .3h0" stroke="#666" stroke-width="0.6" stroke-linecap="square" fill="none"/>
<path d="M108.5 133.3h0m8.8-.7h0m.5 .5h0m3.4-1.4h0m1.8 1.3h0m-17 3h0m1.4-.2h0m2.4-.5h0m.1-1.2h0m1 1.4h0m.2-.6h0m1.2 0h0m.1 1.4h0m.1-.4h0m0 0h0m.1 .1h0m.1-.5h0m.1 .2h0m.4-.1h0m.5-.6h0m.1 1.4h0m.5-.3h0m.3-.1h0m.1-.4h0m.2-.6h0m.4 1.1h0m.1-.6h0m.1-.5h0m.2 1.4h0m.2-.3h0m0 0h0m0-1h0m0 .7h0m.3-1.1h0m.3 .2h0m.6 1.5h0m.3-.6h0m0-.6h0m1.1-.6h0m0 1.6h0m.2-1.6h0m.5-.4h0m0 .8h0m.1 .8h0m.3-.3h0m.2 .6h0m.4 .1h0m3.6-.9h0m-20.7 4.1h0m2.1-1.5h0m.7-.2h0m1.5 1.6h0m.3-1.9h0m.6 .1h0m0 .3h0m.9-.2h0m.4 .3h0m0-.2h0m.1 1.7h0m0-.1h0m.2-1.3h0m0 .6h0m.3-1.2h0m.1 .8h0m0 .8h0m.2-.6h0m.4-1.4h0m.1 1.7h0m.1-.2h0m0-.4h0m0 .6h0m.7-1.4h0m.1 .1h0m.1-.3h0m.1-.2h0m0 .3h0m.2-.5h0m.1 .6h0m.2 0h0m.1-.7h0m.1 .3h0m.6-.4h0m.1 .5h0m.2 .1h0m.9-.6h0m.2 .3h0m.1 0h0m.3-.2h0m.7-.1h0m.1 .3h0m.8-.3h0m1.3 .1h0m.4 .6h0m.2-.4h0m.5 .3h0m.2 .3h0m.3 1.9h0m.3-.8h0m.1-1.7h0m0 2.6h0m.2-.4h0m0-1.4h0m0-1.1h0m.2 .6h0m.1 2.3h0m.1-2.4h0m.4-.4h0m.4-.1h0m.7 3h0m.5-.9h0m3.3 .4h0m.1 .5h0m-32.8 1.1h0m1.4 0h0m.2 1.2h0m.5-.9h0m1-.5h0m.5 2h0m.4-.9h0m1.6 .9h0m.2 0h0m1.6-1h0m.5 .2h0m.9 0h0m.6 .5h0m.3-.3h0m.1-1.2h0m.6 .6h0m.1 1h0m.3-.6h0m.2 .6h0m.3-1.2h0m.3-.5h0m.2-.5h0m.1 1.2h0m.6 1.1h0m0-1.4h0m.6 .9h0m.1-.6h0m.5 .1h0m.1 .6h0m.4-.8h0m.1-.6h0m.6 .5h0m0 .2h0m.2-1.5h0m.1 1.4h0m.1 .7h0m.3-1.4h0m0 .5h0m.1 0h0m.4-.9h0m.7-.2h0m.1-.1h0m10.6 .7h0m.5 1.2h0m.1-1.8h0m.2 1.6h0m.1-.7h0m.4 .7h0m.1-.7h0m.5 1.5h0m.3-1.1h0m0 .8h0m.5-.6h0m.1 1.1h0m.2-2.3h0m.3 1.7h0m1.5-2.2h0m-39.9 5.9h0m3.1-.9h0m.5-1h0m.7 1.6h0m2.7-.1h0m.2 .4h0m.4 0h0m.4-.1h0m.4-.2h0m.1-.1h0m.1-.2h0m0 .2h0m.2 .1h0m.8-.9h0m.1 .1h0m.9 .9h0m.1-1.8h0m0 .8h0m.4-.8h0m.2 1.4h0m.1 .3h0m.3-1.6h0m.7 .9h0m.5-.9h0m.1-.4h0m.3-.1h0m0 1.5h0m.3 .1h0m.3-.4h0m.1 .3h0m.1-.9h0m.1-.7h0m.8 .7h0m.5-.3h0m.4 1h0m.2-1.4h0m0 .2h0m.2 .5h0m0-.7h0m.1-.3h0m.2 1h0m.1-.4h0m.1 .3h0m.7 0h0m.5-.6h0m.8-.4h0m.2-.1h0m.1 .1h0m1.4 0h0m14.7 .7h0m.2 1.7h0m.1-2.2h0m.1-.2h0m0 .7h0m.1-.4h0m.1 .9h0m.2-1h0m.3 .6h0m.1-.6h0m.2 .8h0m1.1 1.3h0m.2-2.2h0m.6 1.3h0m.4-.2h0m-47.5 4.2h0m3.4-.7h0m.3 0h0m.9-1h0m1.3 2.1h0m.2-.3h0m.1-2.1h0m.2 2.3h0m1.1-2.4h0m1.7 2.1h0m.5 .4h0m.7-1.3h0m.5 1h0m.1-1.5h0m.2 .8h0m.3-.9h0m.1 1.2h0m.3 .5h0m.3-.6h0m0 .5h0m.2 .1h0m.3-.1h0m.1-.7h0m.5-.1h0m.3 .7h0m.3-.8h0m.1 .6h0m.2-.3h0m0-.6h0m.1 .1h0m.3 .5h0m.2-.1h0m.3-1.8h0m.3 2.2h0m.1 .1h0m0-.5h0m0-1h0m.1 .3h0m.3 .4h0m0-.1h0m.2-.2h0m.2-.3h0m.2 .2h0m0-.4h0m.8 .1h0m.2 .1h0m.4 .2h0m0-.9h0m.1 1.1h0m.2-1h0m.1 .3h0m.3-.1h0m15.5 2.2h0m.2 0h0m1 0h0m.1-.4h0m0-1h0m0 .4h0m.4-.3h0m.7 1.3h0m.4-.7h0m.4 0h0m.2-.1h0m1.2 .7h0m.6 .1h0m.9-.4h0m.4-.1h0m.5 .4h0m0-.6h0m.7-.1h0m.2 .5h0m.1-1.3h0m0 .4h0m.2 .2h0m.2-.4h0m0 .6h0m0-.9h0m.4 .1h0m0-.7h0m.6-.1h0m.2-.3h0m0 .1h0m.2 .1h0m.1 2.4h0m.1 0h0m.1-2.4h0m.1 1.6h0m0-1.1h0m.7 1h0m.4-.9h0m.5-.6h0m2.1 .3h0m-49.4 5.1h0m1.2 .2h0m2-.8h0m.4 0h0m0-1.3h0m.5 1.7h0m.1-1.1h0m1 .2h0m0-.3h0m.1 .9h0m.7 .5h0m.2-.7h0m0 .8h0m.4-.4h0m.2 .1h0m.1-.6h0m0 .5h0m.5-.2h0m.1 .7h0m0-2.3h0m.4 .5h0m.5 1.4h0m.3-2.1h0m0 1.1h0m0 0h0m.3-1.3h0m.1 1.6h0m.3-.7h0m0 1.2h0m.2-2.3h0m.5 .1h0m.2 .3h0m.1 .3h0m.3 .2h0m.4 .1h0m.1-.8h0m.1 .4h0m1.1-.5h0m0 .8h0m.1-.4h0m0-.5h0m0 .2h0m1.1-.1h0m.5-.1h0m.1 .1h0m.2 .2h0m18.4 2.6h0m.4-.7h0m.1 .2h0m.3 0h0m.2-.3h0m.1-.1h0m.1-1h0m0 .1h0m.1 .7h0m.1-.1h0m.1 1.2h0m.1-.1h0m0-.7h0m.5-.5h0m.1-1.6h0m0 1.7h0m.1-1.3h0m0 .9h0m0-.8h0m.1 .4h0m0-.4h0m0-.2h0m.2 .9h0m0 .7h0m.5-1.8h0m0 1.8h0m.1 .5h0m.3-2.4h0m.1 .1h0m0 0h0m0 .6h0m0 .3h0m.3 .3h0m0-1.2h0m.2 .6h0m.1-.5h0m.5 1.9h0m.5-.6h0m1-.6h0m0-.4h0m.1 1.5h0m0-.7h0m0-1h0m.3 .7h0m.5-1h0m.2 .7h0m0-.3h0m0 1.9h0m.1-2.3h0m.6 .6h0m.1-.4h0m.2-.1h0m.4 1.2h0m.1-1.3h0m.2 2.7h0m.1-2.6h0m.1 1.9h0m.5-1.7h0m.1 0h0m.3 .6h0m.3 2h0m.1-2.9h0m.3 .2h0m.2 .3h0m.7 1.5h0m.1-.8h0m.2-.2h0m.2 .1h0m.3 .5h0m.4 1.4h0m.2-2.1h0m.7 .3h0m-53.3 4.4h0m1.9 0h0m.4-1.8h0m1 1.2h0m1.8 .9h0m1.8-.2h0m.3-1.3h0m.5 1.3h0m.1-1.7h0m.3-.8h0m.2 2.4h0m.2-.6h0m.1-.1h0m.1-1h0m.1 1.7h0m.5 .1h0m.1-1.9h0m.2 1.6h0m.1-1.8h0m0 1.3h0m0 .7h0m.1-1.2h0m.4-1.3h0m.3 0h0m0 1.3h0m.3-1.1h0m.3 1.1h0m0-.1h0m0-.5h0m.5 .5h0m.3-.1h0m.2-.5h0m.1 .1h0m.3 0h0m0 .1h0m.1-.3h0m.4 .1h0m.2-.6h0m.8 .2h0m22.7 2.1h0m.1 .1h0m.4-.3h0m.1 0h0m.2 0h0m.3-.7h0m0 0h0m.2 .6h0m.2 .4h0m.1-.9h0m.4-1h0m.2 .8h0m0 1.1h0m0-2.3h0m.2 .7h0m0 1.2h0m0 .7h0m.1-.5h0m0-.2h0m1-.9h0m.1 .1h0m.4-.3h0m0 1.5h0m0-1.7h0m2.6-.4h0m1.5 1.3h0m1.5-1.5h0m2.8 .3h0m-50.4 4.2h0m1.9 .9h0m1.2-.2h0m.5 0h0m.6 0h0m.1 0h0m0 0h0m.5-.1h0m0-1.4h0m.5 2.1h0m.2-.1h0m.1-1.5h0m0 .8h0m.4-.4h0m.2-1.4h0m.1 .4h0m.4 .5h0m0-.4h0m.1 1h0m0-1.6h0m.1 2h0m.1-.1h0m.3-1.8h0m0 1.4h0m.1-1.1h0m0-.2h0m.1 1.1h0m.4 0h0m.3-1.3h0m.1 1h0m.1-.8h0m0 .5h0m.1-.4h0m.2 0h0m.2-.5h0m.2 .1h0m.4-.1h0m.3 .2h0m25.7 2.5h0m.2-.7h0m0 .1h0m.1-.1h0m0 .2h0m0 .3h0m.6-.9h0m.3 1.3h0m.1-1.8h0m0 .7h0m.1-.6h0m0 1.4h0m.4-1.9h0m0 .2h0m0 2h0m.2-2.5h0m.1-.2h0m0-.3h0m.1 .7h0m.1-.4h0m.1-.1h0m0 .1h0m0 1.5h0m.3-.9h0m.2 1.1h0m.7-1.6h0m0 .9h0m.1-.7h0m.1 .1h0m.9-.3h0m1.1 0h0m.2 1h0m-46.5 4h0m2.4-.6h0m2.7-.4h0m.4 1.1h0m.1 .1h0m.2-.7h0m.2 .8h0m.1-.9h0m.5 .9h0m.1 0h0m.2-2.1h0m.2 1.6h0m.2 .6h0m.2-.7h0m.2-.4h0m.5-1.5h0m.2 1.5h0m.3-.1h0m.3-.1h0m.1-.9h0m.1-.1h0m.2 .7h0m0-.7h0m.4 .3h0m.4-.4h0m.2-.2h0m.5 .1h0m27.5 2.6h0m.6-.7h0m.1-.6h0m.2 1.1h0m.2 .2h0m.2-.7h0m.5-1.3h0m.2-.2h0m.1 1.8h0m.1-2.1h0m.4 1.5h0m0-.5h0m.2 0h0m.1 .7h0m.3 .5h0m1.3-.6h0m1.1 .8h0m-44.8 2.5h0m1.1 .2h0m.6 .1h0m.1 .4h0m0-1.8h0m.2-.4h0m.1 1.1h0m0-1.9h0m.3 .5h0m.3 .6h0m.7 1.3h0m.2-.2h0m.7-1.3h0m.2 .9h0m0-1h0m.1 1.4h0m.2 .4h0m.1-.1h0m.1-1.4h0m.1 1.4h0m.1 .3h0m.3 .1h0m.1-.1h0m0-.2h0m0-.9h0m.5 .1h0m0 .3h0m.2-.9h0m.1-1h0m0 .7h0m.3 0h0m0 .6h0m.1-1h0m.2 .6h0m.1 .2h0m.1-.3h0m0-.6h0m.4 .5h0m.1-.6h0m.3-.2h0m28.8 2.7h0m.1 .1h0m.4-.1h0m0-.3h0m.6-1.7h0m0 .9h0m.1-.3h0m0 .7h0m.1-1.2h0m0-.4h0m.1 1.3h0m.1 .6h0m.1-1.8h0m.1 .1h0m.1-.7h0m.2 .2h0m.1 2.8h0m.1-2.9h0m.1 1h0m.1 0h0m0 .2h0m.2 .1h0m.5 .8h0m.3-2.2h0m.1 .5h0m.1 .2h0m.7 1.1h0m.8 .8h0m.3-.9h0m0-.2h0m.1 .3h0m-45.9 3.7h0m2.1-1.5h0m.1-.7h0m.2 2.1h0m1.8 .4h0m.4-2.5h0m.1 2.5h0m.2-1.1h0m0-.8h0m.3 .9h0m.7-1.3h0m0 2.1h0m.4-.4h0m.4 .3h0m0-.9h0m.1-.7h0m.2 2h0m.1-1.1h0m0 .9h0m.2-2.2h0m0 1.9h0m0-1.8h0m.2 .8h0m.1 .1h0m.3-.9h0m31.5 1.7h0m.1-.6h0m0 .3h0m0 .3h0m0-.3h0m0-.3h0m.1 .7h0m.4-1.8h0m.1-.1h0m.1 1.4h0m0 1h0m0-2.5h0m.1 .5h0m.1 0h0m.2 1.7h0m.1 .2h0m.1-.8h0m.1-.8h0m0-.2h0m0 .3h0m0 .5h0m.4 .8h0m.1-1.7h0m.2-.8h0m.1 .4h0m0 1.1h0m.3-1.1h0m.5 1.4h0m.7 .5h0m.4-1.6h0m.1-.7h0m-42.6 5.9h0m.4-1.2h0m.1 .2h0m.8-1.7h0m.9 .6h0m.3-.2h0m0 .5h0m.4 .4h0m.2-1.2h0m.1 .5h0m.2 1.3h0m.3 .7h0m.2-.9h0m.1-.4h0m.1 .8h0m0-2.3h0m0 .7h0m.1 2.2h0m.1-.9h0m.1-2.1h0m.1 2.9h0m.3-1.6h0m0-.7h0m.2-.5h0m32.3 1.5h0m.2 .3h0m.2 .2h0m.2-.8h0m.1 .2h0m.1 .6h0m.2-.7h0m.5 .4h0m.5-.9h0m.5 1.5h0m.4-.4h0m.1-1.8h0m0 1.3h0m.3-1.2h0m0 2h0m.7 .7h0m.9-2.2h0m1.5-.5h0m-44.2 5h0m.5 .5h0m.4-1.3h0m.7 .2h0m0-1.1h0m.2 .9h0m.2 .7h0m.2 .4h0m.1-1h0m.1 1h0m.2-.2h0m.2-1h0m0 .9h0m0-1.5h0m.3 .5h0m.1 .8h0m.1-1.7h0m.1 .1h0m.1-.4h0m.4 1.7h0m.1 .5h0m.2-.3h0m0 .5h0m0 .4h0m.3-2.7h0m32.9 .8h0m.1 .4h0m0-1.1h0m0 1.5h0m0-1.7h0m0 .4h0m.1-.1h0m.1 1.2h0m0-1.1h0m.1 1.6h0m0 .6h0m0-.7h0m.1-.6h0m.1 .1h0m0-.1h0m.2 .8h0m0 .5h0m.1-2.2h0m0 1.6h0m.2 .3h0m.4-1.6h0m0 1.6h0m.3-1.7h0m.3 1h0m.6-1.4h0m.7 1.8h0m.8-.2h0m.9-1.4h0m-43.1 5.2h0m1.4-1.7h0m.6-.7h0m.5 .2h0m.3 2.1h0m.1-2.3h0m.1 1.8h0m.1-1.6h0m0-.3h0m.1 2.8h0m.2-2.4h0m.1 2.2h0m.2-2.6h0m.2 .8h0m0 1.1h0m0 .9h0m0-2.9h0m.1 1.1h0m0-.2h0m.1 .9h0m.1-.1h0m32.9 1.1h0m.1-1.4h0m0 0h0m.1 0h0m0 1.5h0m.3-.6h0m.1-1.3h0m.1 1.5h0m0-1.1h0m.1 1.5h0m0-1.5h0m.1 .1h0m0-1.4h0m.3 1.6h0m.1-1.6h0m.2 2h0m.9-.3h0m.6-1h0m1.2-.4h0m.6 2h0m-41 1.3h0m.5 0h0m.1 1.3h0m0-1.5h0m.5 1.4h0m.1 .1h0m.1 .3h0m.1-2.1h0m.1 .7h0m.1 1.7h0m0-2h0m.1 1.9h0m.1-2.3h0m.1 2.1h0m0 .3h0m.1 .1h0m.2-1.5h0m.1 .9h0m0-1h0m.2 .3h0m0-1h0m0 1h0m0-1.3h0m.1 1.9h0m0-.8h0m0 .8h0m.1-.7h0m0-.8h0m0 .8h0m.1-.6h0m0 .8h0m0-.9h0m.1 .3h0m.4 1.9h0m0-.2h0m0-.3h0m32.2-.3h0m.6-.2h0m.3-1.7h0m0 .7h0m.2-.8h0m0 .2h0m.1 1.2h0m.3-.3h0m.1 1.3h0m.3-1.1h0m.5-.9h0m.1 .2h0m1-.3h0m.1 1.7h0m.9-1h0m-42.8 2.5h0m2.4-.6h0m.2 1.2h0m.3 1.6h0m1.2-2.6h0m.1 2.3h0m.4-.6h0m.1-.4h0m.1-.8h0m.2 1.9h0m.2-1.9h0m.3 .4h0m.2 .6h0m.1 .1h0m0-1h0m.1 .9h0m.1-.6h0m.1 .9h0m31.9 .6h0m0-1.7h0m.1 1.5h0m0-.1h0m.1-1h0m0 .6h0m.2-.5h0m.1 .5h0m.1-1.3h0m0-.2h0m.1 2.4h0m.1 .2h0m.2-2h0m.2 .1h0m.2 1.3h0m.1 .4h0m0-.7h0m.2 .3h0m.2-.6h0m.7-.7h0m.6 1.3h0m.5-2.2h0m-39.4 4.4h0m1.5 1h0m.5-1.8h0m.1 1.9h0m.5-1.7h0m.4 1.3h0m.3-.2h0m0-.9h0m0-1.1h0m0 1.9h0m.2-1h0m0 .2h0m.1 .1h0m0-.4h0m.1 .5h0m.2-.9h0m.3 2h0m0-1.6h0m.3 1.2h0m.1-1.3h0m.1 1.5h0m.1-1.9h0m.2 .1h0m30.1 1.5h0m.1-1.8h0m.1 1.1h0m.2 .3h0m.1-.6h0m.1 1.3h0m.1-.5h0m.1 .8h0m.3 .3h0m.2-2.3h0m0 .2h0m.1 1.9h0m2.1-1.5h0m.3-1.1h0m1 .7h0m-39.3 4.6h0m1.1-1.8h0m.7 2.4h0m.3-3h0m1.1 2.8h0m.1-2.7h0m.2 2.4h0m0-2.5h0m.3 .4h0m.6 .6h0m.3-.3h0m.2-.3h0m0 .9h0m.1-1h0m.1 2.5h0m.4-2h0m.4 1.3h0m0-1.2h0m.7 2.1h0m.1-.9h0m1.4 .8h0m24.1-.9h0m.1 .3h0m.3-.3h0m0 .1h0m0 .1h0m.1-.7h0m.1 .5h0m.2-.9h0m.3 1h0m.1 .2h0m.3 .7h0m.2-1.4h0m.3-1.5h0m0-.1h0m.1 2.5h0m0-.6h0m.9-.8h0m.1 .7h0m.5 1.1h0m0-.6h0m0-.4h0m.1-1.2h0m.1 .1h0m.4-.2h0m.3 .1h0m.1-.5h0m.9 .4h0m.3-.6h0m.2 2.1h0m.4 0h0m0-1.3h0m-35.5 2.3h0m1.6 .1h0m.4 .8h0m.9 1.4h0m.2-1.8h0m.2-.3h0m.1 0h0m.3 .1h0m.3-.1h0m.1 1h0m.1-.3h0m0-.7h0m.3 2.5h0m.1-.9h0m0-1.8h0m.1 1.2h0m.2-1.1h0m.1 .9h0m.3-.1h0m.3 1.8h0m.2-.1h0m.6-1.7h0m.1 1.3h0m.1-.9h0m.5 .8h0m.5 .7h0m.9-.2h0m.1-.1h0m.8 .2h0m14.2 .1h0m1.6 0h0m0-.2h0m.4 .1h0m0 .1h0m.2-.9h0m.2-.2h0m.2 .7h0m0 .2h0m.2-1h0m0 .7h0m.2-.5h0m0-.1h0m.4-.9h0m.1 .3h0m.2 .9h0m.4-.2h0m0-1.3h0m.2-.3h0m.2 1h0m.5 1.2h0m0-2.4h0m.2 1h0m.2 .2h0m1.1-1.2h0m.2 .7h0m.3 .7h0m.1-1.1h0m.1 2.1h0m.7-.9h0m.8-1.1h0m.5 .4h0m.7-.2h0m0 .6h0m-32.6 2.8h0m2.4-.9h0m1.6 1.4h0m2.6-1.5h0m.2 0h0m.7 .4h0m.2 .3h0m.1 .6h0m.1-.7h0m0 .1h0m.2-.6h0m.1 .7h0m0 .8h0m0-.1h0m.1-1h0m.1 .2h0m.2 0h0m.4-.8h0m0 1.6h0m.1-1.1h0m.1-.3h0m.4 .6h0m0-.4h0m.2-.4h0m.3 2.1h0m.1 .5h0m0-1h0m.1 1.2h0m0-1h0m.1 .3h0m.3-.6h0m0-.7h0m.2-.3h0m.3 .3h0m0-.1h0m0 .4h0m0-.6h0m.1 1.9h0m.4 0h0m.1-.8h0m.2 .9h0m.1-.7h0m0 .7h0m.1-.8h0m0-.4h0m.2 .4h0m.1 1.1h0m0 .2h0m.1-1.8h0m0-.2h0m.3 .7h0m0-.7h0m.1 1.6h0m.1-1.4h0m.5-.1h0m.1 1.2h0m.3 0h0m.4-1.1h0m0 1.7h0m.1-1.2h0m.1 1.1h0m.1-1h0m.2-.6h0m.1 .6h0m.2 .5h0m.1-1.1h0m.4-.1h0m0 1.9h0m.2-1.4h0m.1-.6h0m.1 .1h0m.3-.2h0m.4 0h0m.1 .7h0m.1-.1h0m.7 .9h0m0-.3h0m.2-.8h0m.2 1.6h0m.2-1.9h0m.1 .6h0m.2 1.3h0m.1 0h0m0-1.7h0m.3 0h0m0 1.1h0m.1-.6h0m.3 .5h0m.1-.2h0m0-.2h0m0 .3h0m.2-.4h0m0 .2h0m.2 .2h0m0-.4h0m.2-.4h0m.4 1.5h0m0-.2h0m.1-1h0m0-.5h0m.1-.3h0m.1 .9h0m.1 1.3h0m0-1.9h0m0 .2h0m.1 .7h0m0-1.5h0m0 1.8h0m.3 0h0m.1-1.6h0m0 .1h0m0 1.1h0m.1 .1h0m.3-.9h0m.1-.4h0m.2-.1h0m0 0h0m.2 .2h0m0 .7h0m.1-1.1h0m.1 1.5h0m.1 .8h0m0-1.8h0m0 .4h0m.1 0h0m0-.5h0m0 0h0m.3-.7h0m.1 0h0m.1 1.6h0m.2 .6h0m0-.8h0m.3-.4h0m.2 1.3h0m0 .5h0m.4-.8h0m.2-1.6h0m.6 1.7h0m.3-1.6h0m.1 2.2h0m.8-2.7h0m1.5 0h0m.2 .1h0m.7 2h0m.3-2h0m-25.7 3.5h0m2.3 1.2h0m2.4 .5h0m2.1-.7h0m.8-.8h0m.5-.4h0m2.5 1.8h0m.1-.9h0m1.3 0h0m.6-.6h0m1 .3h0m1.8 .3h0m1.5-.6h0m.3 1.5h0m.2-1.7h0m.1-.5h0m.1 2.4h0m.8-1.2h0m0-1.1h0m2.9 .2h0m.6 1.4h0m-13 1.5h0m2.3 .2h0m.5-.5h0" stroke="#2a2a2a" stroke-width="0.7" stroke-linecap="square" fill="none"/>
<path d="M82.6 190.3 79.1 190.7 75.6 190.4 74.6 190.1 71.6 189.0 70.6 188.5 66.6 186.1 64.0 182.8 62.4 175.3 64.5 168.3 66.8 164.3 74.1 157.4 79.1 154.1 85.1 150.9 101.1 144.6 107.6 142.5 109.1 141.4 111.6 138.6 113.6 137.4 115.1 137.1 116.1 137.0 118.1 137.6 119.3 139.8 119.9 141.3 119.9 143.3 119.3 144.8 118.1 146.0 116.6 146.7 114.6 146.8 112.1 146.0 111.1 146.4 110.1 147.3 101.7 156.8 99.1 160.3 96.7 164.8 95.1 170.3 92.5 183.8 92.1 184.3 86.6 189.1 82.6 190.3Z" fill="#a4a4a4" stroke="#111" stroke-width="5.6" stroke-linejoin="round" paint-order="stroke" fill-rule="evenodd"/>
<path d="M82.6 189.9 79.1 190.2 75.6 189.9 74.6 189.7 70.6 188.0 67.1 185.8 64.7 182.8 64.3 181.8 63.0 175.3 65.1 168.4 67.2 164.8 74.1 158.3 79.6 154.7 86.6 151.1 101.1 145.5 108.1 143.2 109.1 142.5 111.4 139.3 113.1 138.0 114.1 137.6 115.6 137.4 117.6 137.8 118.1 138.2 119.3 140.3 119.6 141.3 119.8 142.3 119.6 143.3 119.0 144.8 117.6 146.0 116.1 146.5 114.6 146.5 112.6 145.8 111.9 145.8 111.1 146.1 110.1 147.0 100.6 157.8 98.1 161.3 96.0 165.3 94.5 170.3 91.8 183.8 86.1 188.8 82.6 189.9Z" fill="none" stroke="#fff" stroke-width="0.8"/>
<path d="M82.1 189.3 79.1 189.7 75.6 189.3 71.6 187.8 67.4 185.3 65.1 182.3 63.8 176.3 63.7 175.3 65.7 168.8 67.8 165.3 74.1 159.4 79.6 155.8 84.6 153.1 86.6 152.2 100.1 147.0 108.6 144.4 109.6 143.5 110.9 140.8 111.6 139.8 112.6 138.8 113.6 138.3 115.6 137.8 116.6 137.9 117.6 138.3 118.9 140.3 119.3 141.3 119.4 142.8 118.9 144.3 117.6 145.6 116.1 146.2 114.6 146.1 113.1 145.5 112.1 145.4 111.1 145.7 110.6 146.1 99.5 158.8 97.1 162.2 95.2 165.8 93.7 170.8 91.3 183.3 91.0 183.8 86.1 188.0 85.1 188.5 82.1 189.3Z" fill="#9c9c9c" stroke="rgba(255,255,255,0.85)" stroke-width="0.45" fill-rule="evenodd"/>
<path d="M116.6 145.4 115.1 145.5 112.6 144.7 111.6 144.6 111.2 144.3 111.3 142.3 111.8 140.8 112.6 139.8 114.1 138.8 115.6 138.6 116.8 138.8 117.6 139.5 118.4 140.8 118.8 142.3 118.6 143.3 117.6 144.8 116.6 145.4ZM82.1 188.4 79.1 188.7 75.6 188.4 72.1 187.0 68.4 184.8 66.1 181.8 64.9 175.8 66.7 169.8 68.6 166.4 74.6 160.8 79.1 157.8 84.6 154.9 99.6 149.1 105.6 147.5 107.1 147.2 108.3 147.3 108.2 147.8 107.9 148.3 105.7 151.3 98.6 159.3 97.1 161.2 95.6 163.3 94.2 165.8 92.6 170.8 90.2 182.8 89.9 183.3 85.1 187.4 82.1 188.4Z" fill="#949494" stroke="rgba(255,255,255,0.85)" stroke-width="0.45" fill-rule="evenodd"/>
<path d="M115.6 144.9 114.6 144.7 112.4 143.8 112.1 142.8 112.4 141.3 113.1 140.3 114.1 139.6 115.6 139.3 116.6 139.5 117.1 140.0 117.9 141.3 118.1 142.3 117.9 143.3 117.1 144.3 115.6 144.9ZM82.1 187.4 79.1 187.8 75.6 187.4 72.1 186.0 69.4 184.3 67.3 181.8 67.0 180.8 66.0 175.8 67.7 170.3 69.2 167.8 70.0 166.8 75.1 162.1 79.1 159.5 83.6 157.1 97.1 151.8 103.1 150.1 104.6 149.9 105.6 149.9 105.7 150.3 103.5 153.3 96.1 161.8 94.6 163.8 92.9 166.8 91.2 171.8 89.2 182.3 88.9 182.8 84.6 186.5 82.1 187.4Z" fill="#888" stroke="rgba(255,255,255,0.85)" stroke-width="0.45" fill-rule="evenodd"/>
<path d="M115.6 143.9 114.1 143.5 113.1 142.8 113.2 141.8 113.6 141.1 114.1 140.6 115.1 140.2 116.1 140.4 116.6 140.9 117.1 141.8 117.0 142.8 116.7 143.3 116.1 143.8 115.6 143.9ZM81.6 186.4 78.6 186.7 75.6 186.4 73.0 185.3 70.5 183.8 69.9 183.3 68.4 181.3 67.3 176.3 67.3 175.8 68.7 171.3 70.1 168.8 70.6 168.1 75.1 164.0 78.6 161.6 83.1 159.2 95.1 154.5 100.1 153.1 101.6 152.8 102.7 152.8 102.7 153.3 100.9 155.8 93.6 164.3 91.2 168.3 89.9 172.3 87.8 182.3 84.1 185.5 81.6 186.4Z" fill="#787878" stroke="rgba(255,255,255,0.85)" stroke-width="0.45" fill-rule="evenodd"/>
<path d="M81.6 185.3 78.6 185.7 76.1 185.5 73.6 184.5 71.1 182.9 69.6 181.0 68.5 176.3 69.7 172.3 71.1 169.8 75.6 165.5 78.6 163.5 82.6 161.4 93.1 157.3 97.6 156.0 99.8 155.8 99.8 156.3 98.3 158.3 91.5 166.3 89.7 169.3 88.5 172.8 86.6 181.8 83.1 184.8 81.6 185.3Z" fill="#646464" stroke="rgba(255,255,255,0.85)" stroke-width="0.45" fill-rule="evenodd"/>
<path d="M80.6 184.3 78.6 184.6 76.6 184.4 74.6 183.6 72.1 182.1 70.7 180.3 70.0 176.8 70.0 176.3 71.1 172.8 72.1 171.1 76.1 167.3 78.6 165.7 82.1 163.8 91.1 160.3 95.1 159.2 96.6 159.2 95.2 161.3 89.6 167.8 88.1 170.3 86.9 173.8 85.5 180.8 85.2 181.3 82.6 183.6 80.6 184.3Z" fill="#585858" stroke="rgba(255,255,255,0.85)" stroke-width="0.45" fill-rule="evenodd"/>
<path d="M80.6 182.9 78.6 183.2 76.6 183.0 75.1 182.4 73.6 181.5 72.5 180.3 72.2 179.8 71.6 176.8 72.5 173.8 73.1 172.8 73.6 172.1 76.6 169.4 81.1 166.7 88.1 164.0 91.1 163.1 92.6 162.9 92.7 163.3 92.0 164.3 87.7 169.3 86.1 171.8 85.1 174.8 84.0 180.3 81.6 182.5 80.6 182.9Z" fill="#7a7a7a" stroke="rgba(255,255,255,0.85)" stroke-width="0.45" fill-rule="evenodd"/>
<path d="M79.1 181.4 77.1 181.3 76.1 180.9 75.0 180.3 74.2 179.3 73.8 177.3 74.4 175.3 74.9 174.3 77.1 172.3 80.1 170.5 84.6 168.8 87.6 168.0 87.7 168.3 86.6 169.8 84.0 172.8 83.4 173.8 82.7 175.8 81.8 179.8 80.1 181.1 79.1 181.4Z" fill="#a0a0a0" stroke="rgba(255,255,255,0.85)" stroke-width="0.45" fill-rule="evenodd"/>
<circle cx="115.5" cy="142.3" r="3.2" fill="#1a1a1a" filter="url(#bl1)"/>
<ellipse cx="114.9" cy="142.7" rx="6.8" ry="6.8" fill="none" stroke="#555" stroke-width="0.8"/>
<text x="103.1" y="133.2" font-size="12.3">0.012</text>
<text x="105.7" y="202.4" font-size="12.3">1.4</text>
<text x="110.0" y="163.5" font-size="12.3">DN2</text>
<text x="57.2" y="202.4" font-size="12.3">DN3</text>
<rect x="151.9" y="115.2" width="88.8" height="89.1" fill="none" stroke="#7a7a7a" stroke-width="1.1"/>
<path d="M149.7 123.7H151.9M149.7 143.5H151.9M149.7 164.0H151.9M149.7 190.0H151.9M173.9 204.3V206.5M185.1 204.3V206.5M210.2 204.3V206.5M231.9 204.3V206.5" stroke="#555" stroke-width="0.8"/>
<text x="147.9" y="125.4" font-size="4.8" text-anchor="end" fill="#555" stroke="none">10<tspan font-size="3.2" dy="-1.7">5</tspan></text>
<text x="147.9" y="145.2" font-size="4.8" text-anchor="end" fill="#555" stroke="none">10<tspan font-size="3.2" dy="-1.7">4</tspan></text>
<text x="147.9" y="165.7" font-size="4.8" text-anchor="end" fill="#555" stroke="none">10<tspan font-size="3.2" dy="-1.7">3</tspan></text>
<text x="147.9" y="191.7" font-size="4.8" text-anchor="end" fill="#555" stroke="none">0</text>
<text x="173.9" y="212.5" font-size="4.8" text-anchor="middle" fill="#555" stroke="none">0</text>
<text x="185.1" y="212.5" font-size="4.8" text-anchor="middle" fill="#555" stroke="none">10<tspan font-size="3.2" dy="-1.7">3</tspan></text>
<text x="210.2" y="212.5" font-size="4.8" text-anchor="middle" fill="#555" stroke="none">10<tspan font-size="3.2" dy="-1.7">4</tspan></text>
<text x="231.9" y="212.5" font-size="4.8" text-anchor="middle" fill="#555" stroke="none">10<tspan font-size="3.2" dy="-1.7">5</tspan></text>
<path d="M159.7 204.3 V154.5 H209 V204.3" fill="none" stroke="#777" stroke-width="0.9"/>
<path d="M194.8 126.7h0m-15.3 3.6h0m1.4-.3h0m.8 .1h0m1.7-.3h0m3.8-.7h0m1.4-.1h0m6.3 .8h0m.6-.4h0m1.1 .6h0m1.7-.3h0m.1-.3h0m-27.4 1.6h0m.8 .4h0m.9-.9h0m4.3 2.2h0m2.6 .7h0m.5-1.1h0m.5 .4h0m1.5-2h0m.7 1h0m1 .1h0m7 .9h0m1.7-1.3h0m.2 .1h0m.8-.7h0m1.8 .8h0m.7 .2h0m-29.6 3.9h0m4.2-1.9h0m8.6 1.1h0m.8 .2h0m.9 1.1h0m1.3-2.4h0m.1 2.3h0m3.7-1.6h0m.9 1.3h0m1-2h0m.4-.2h0m.4 .5h0m1.2 2.2h0m.5-2.4h0m.3-.2h0m3.1 .3h0m1.3 .5h0m1.8 1.3h0m4.5 .3h0m1-1.3h0m.6-.4h0m1.8 .7h0m-36.6 3.8h0m.9 .3h0m.7-1.7h0m1.7 1.1h0m2.2 .3h0m.5-1.6h0m.1 1.9h0m.4-1.6h0m.6 1.5h0m.2 .1h0m2.9-1.5h0m.5 .5h0m1 1.2h0m1.4 0h0m2-2.2h0m.2 2.1h0m.4 0h0m.5-1.8h0m.2-.6h0m.1-.3h0m0 .9h0m.8 .6h0m3.1-.9h0m.1 2h0m.3-.2h0m1.2-1.2h0m0 1.2h0m0-2h0m.3 1.9h0m.2 .4h0m.6-1.8h0m.5 1.5h0m.7-.1h0m.6-.3h0m.4 .7h0m1.9-.8h0m.2-1.4h0m.1-.5h0m.4 2.8h0m0-1.8h0m1.9 .5h0m2.2-.4h0m.5 .4h0m.2-1.2h0m.1 .1h0m1.5 .9h0m.8 .8h0m3.4-.2h0m-39.4 2.5h0m.9-.4h0m1.5-.7h0m.8 2.5h0m1.1-.3h0m0-1.3h0m1.1 1.6h0m1-.1h0m1.6-1.5h0m.1 .8h0m1-1.8h0m1-.2h0m.4 1.7h0m.5-1.4h0m.1 0h0m.3 .4h0m1.3-.1h0m.2 1.3h0m.1-1.1h0m.6 .7h0m.1-1.4h0m1.7 2.1h0m.1-1.5h0m.1 1.2h0m.3-.2h0m0-.6h0m.7-.1h0m0 .5h0m.2 .7h0m1.6 .2h0m.2-.5h0m.7-.2h0m.1 .4h0m.9-1.9h0m.9 1.9h0m.2-1h0m.7-.3h0m.3 1.3h0m2.1-1h0m.1 .6h0m.5 .3h0m.8-1.8h0m.2 0h0m.1 1.7h0m1-1.8h0m0 2h0m.3-1.6h0m.5 2.2h0m.8-1.4h0m.1 .8h0m.2-1.6h0m0 2.2h0m.5-1.3h0m1.4-.4h0m0 1.6h0m.8 .2h0m2.7-2.1h0m1-.2h0m3.5 .7h0m-45.3 4.5h0m6.6-1.1h0m.8 .8h0m2.9-2.5h0m2.7 .6h0m.8 1.5h0m.5-.1h0m1-1h0m.1 .4h0m.9 1h0m.8 .4h0m.2-.6h0m.3 0h0m1.7-1.9h0m.9 2.6h0m0-1.8h0m.3 .4h0m.6 1.5h0m.2-.3h0m1.6-2.1h0m.4 1.8h0m.3-2h0m.6 .8h0m.5-.5h0m0 .1h0m1-.8h0m.1 1.8h0m0-.7h0m.5-.4h0m.4 1.1h0m.5-.7h0m.1 1.8h0m.2-1.5h0m.5 1.6h0m.2-2h0m.4 1.6h0m.4-.9h0m.1-.6h0m.8-.2h0m1.9 .3h0m.4 1h0m.1-.5h0m.8-1.7h0m.3 1.4h0m1.2-.2h0m.1 .8h0m.3-.9h0m.9-.5h0m1 1.6h0m.1 .6h0m2.1-2.6h0m.5 2.5h0m.7-1.2h0m.7-.8h0m.5 .5h0m1.1 .6h0m.1 .8h0m-38.9 3h0m1.9-.6h0m2 .6h0m3.1-.8h0m.1-.2h0m.7-.8h0m1.2 1.4h0m.3-1.7h0m.6-.2h0m.3 .6h0m.7 1.8h0m.2-2.3h0m0 1.5h0m.2 1h0m.1-.6h0m.4-.1h0m.4-.5h0m.7-1.5h0m.5 1.8h0m.1-.3h0m.1 .1h0m.2-.9h0m1.3-.3h0m1.5 2.2h0m0-2.6h0m.2 1.5h0m0 .3h0m0 .8h0m.6-2.2h0m.2 1.3h0m.2-1.3h0m1.1 .1h0m.7 1h0m.2-.4h0m.6-.8h0m.6-.3h0m0 1.7h0m1.9-.7h0m.4 .5h0m0 0h0m1.9-.8h0m.1 1.9h0m.2-2.5h0m.4 1h0m.4-.5h0m.1 .1h0m.3-.7h0m1.3 .3h0m.6-.4h0m.8 1.9h0m1.4 0h0m1.4-1h0m1.5 .7h0m1-1.2h0m.1 1h0m1.4-1.1h0m-33.7 2.7h0m.2 .9h0m2.8 .3h0m.9 .7h0m3 0h0m1.6-.9h0m.6 1.6h0m.1-.1h0m1.5-.6h0m0-1.7h0m.4 .8h0m.2 1.9h0m.1-2.9h0m1.9 2.6h0m.1-.6h0m.5-1.4h0m.6 1.6h0m.2-1.9h0m.3 1.2h0m.2-1h0m1.1 1.6h0m0-.5h0m.1 .7h0m0 .3h0m2.4-.7h0m.4-1.4h0m.6 .6h0m.8 .4h0m.6-.8h0m.6 2.2h0m.3 0h0m.4-.5h0m2-1.2h0m1.7-.9h0m2.4-.1h0m-33.5 5.2h0m5-2.4h0m9 1.3h0m.3-.8h0m1 .9h0m2.3-.1h0m1.2 1.1h0m2-1.7h0m0 1.3h0m1-1.5h0m4.4-.5h0m-21.3 5.9h0m4.6-2.1h0m2.8-.4h0m-1.6 2.8h0" stroke="#666" stroke-width="0.6" stroke-linecap="square" fill="none"/>
<path d="M214.4 133.3h0m1.1-.5h0m2.1-1.4h0m2.1-.9h0m4.3 1.3h0m1.4-.2h0m.7 1.8h0m-12.3 2.9h0m1.6-.4h0m.1 .4h0m.2 .1h0m.3-2h0m.1 1.8h0m.5-.3h0m.1 0h0m.3-2.3h0m0 2.3h0m1.1-1.9h0m.1 .8h0m.5 0h0m.6 1.1h0m.2-2h0m.5 1.1h0m.1-.7h0m0 0h0m.4-.4h0m.3 1.7h0m0-.2h0m.6 .2h0m.2-.3h0m.6 .3h0m.1 .5h0m0-1.9h0m.3 .6h0m.2 1.6h0m.1-.7h0m.3-.8h0m.2-1.1h0m.2 .8h0m0-1h0m1.1 .7h0m.4 .8h0m.4 1.2h0m0-1.9h0m3.5 1.3h0m-20.8 3.5h0m1.5-.1h0m.3-1.5h0m.7 1.7h0m0-1.4h0m.2 0h0m.3 .8h0m.2-1.3h0m.3 1.9h0m.1-.4h0m.1 .2h0m.1-.4h0m.2-.2h0m.1-1.9h0m.1 1.3h0m.1 1.2h0m0 .2h0m.2-.7h0m.5-.2h0m.3 .3h0m.2-.3h0m.1-1.4h0m.1 .8h0m.5 .5h0m.3-.5h0m.1-.2h0m.1 0h0m.2-.7h0m.1 .1h0m.3 .7h0m0 .2h0m0-.7h0m.2 .2h0m.4-.8h0m.4 .1h0m.6 0h0m5.1-.1h0m.1-.1h0m.3 0h0m0 .4h0m.7 0h0m0-.3h0m.1 .3h0m.1 .4h0m.2-.1h0m.5-.2h0m.4 1.5h0m.1-.6h0m.7-1.3h0m.2 2.7h0m.3-2.8h0m0 3h0m.1-1.6h0m0 .8h0m1.3-1.3h0m.3 .7h0m2 1.3h0m.6-2.8h0m-26.2 5.5h0m.7 0h0m.5-1.4h0m.3 1.3h0m.7 .4h0m.4-.2h0m1.4-1.1h0m.4 1.1h0m.7 .1h0m0-2h0m.1 1.6h0m.1-.9h0m0 .8h0m.1-1.4h0m.3-.8h0m.2 .7h0m.3 .6h0m.1-.1h0m.6 0h0m0 .6h0m0-1.5h0m.3 .3h0m.2-.5h0m0 .3h0m0-.3h0m.6 .4h0m.5-.5h0m13.3 1.7h0m0 .2h0m.3 .8h0m.1-1h0m0 .8h0m.1-1.6h0m0 1.5h0m1-.4h0m.7 0h0m1.4-1.7h0m.5 1.2h0m.3-1h0m-36.2 5.4h0m2.5-2.8h0m1.4 1.1h0m2.3-.2h0m1.1 .4h0m.7 1.3h0m.6-1.7h0m.1 .2h0m0 .3h0m.6 .6h0m.3-.6h0m.1 1.2h0m.4-1.5h0m.4 .5h0m.3-.8h0m.1 .7h0m.2-.3h0m.4-.8h0m.1 .6h0m.5-1.1h0m.1 .6h0m.6-.4h0m1.5 .1h0m17.2 .1h0m.4 .4h0m0-.6h0m.2-.2h0m.1 1h0m.2-1h0m.2 2h0m.4-1.6h0m.4 1.9h0m.2-.6h0m.4-.1h0m.4-.2h0m.2 .9h0m-43.8 3.5h0m2.6-.5h0m.8-1.1h0m1 .8h0m.1 .8h0m.7-1.3h0m3-.8h0m.8 2h0m.2-.9h0m1.4 .9h0m.2-2.3h0m1.1 .6h0m.7 1.6h0m.1-2.3h0m0 .6h0m.3 1.3h0m.7-1.4h0m0 1.4h0m.1-1.6h0m.1 .9h0m.3-1.3h0m.1 .7h0m.1 .3h0m0 .1h0m0-1.1h0m.1 1.4h0m.1-.1h0m0 .4h0m.3-1.7h0m.3 .8h0m.3-.2h0m.6-.7h0m.1 1h0m.2 .1h0m.5-.8h0m20.2 2.2h0m1.8-1.3h0m.1 .5h0m.9-1h0m0 .8h0m0 1.2h0m.1-.4h0m.2-.3h0m0-1.8h0m.2 .5h0m.5 1.8h0m.2 .1h0m.1-2.3h0m.7 1.2h0m0 1.2h0m.2-1.4h0m.2 1.1h0m1.7 .1h0m.3-2.5h0m1.4 .1h0m-52.9 5.3h0m1.2-.5h0m.7 .7h0m5.2-.6h0m.9-2h0m.9 1.9h0m.6-.4h0m.3-.6h0m.7 1.2h0m.2 .4h0m.5-.3h0m.1-1h0m.1 1.3h0m.1-1.5h0m0-.1h0m.1 .6h0m.2 .2h0m.7 .8h0m.9-.3h0m.1-.3h0m.3-.6h0m.1-.3h0m.2 1h0m0 .1h0m.2-2.2h0m.3 1.1h0m.4 0h0m.4-.8h0m.6 .8h0m.8-.5h0m.2 .6h0m.1-.1h0m.3-.2h0m.1-1h0m.1 .8h0m.3-.7h0m19.9 2.2h0m.3-.8h0m.1 .1h0m.2 1.3h0m.2-.9h0m.1-.2h0m0-.4h0m.1 .3h0m0 1.1h0m0-.4h0m.2-1.4h0m0-.3h0m.2 .5h0m0-.6h0m.3 .1h0m.3 1.7h0m0-.3h0m.1-1.4h0m.4-.5h0m.4 1h0m0-.4h0m.4-.8h0m.3 1.3h0m0 .8h0m.1-2h0m.2 .9h0m.7-.5h0m.8 2.3h0m.1-1.8h0m.1-.4h0m.5 2.3h0m.3-2.7h0m.4 .2h0m.8 .4h0m.7 1.9h0m.6-2.2h0m2.9 2.2h0m.5-2.2h0m-55.2 5.2h0m1.9-.8h0m1.1 .3h0m2.9-.9h0m.1 1.6h0m.6-1.9h0m.3 1.8h0m1.1-.7h0m0-.4h0m.9 .9h0m0-1.2h0m.1 .6h0m.4 .7h0m.6-1.4h0m.7-.3h0m.5 .6h0m.1-1.2h0m.1 1h0m0 .8h0m0 .3h0m.2-1h0m.2 .3h0m.1-1.3h0m.3 .5h0m.1 1.1h0m.1-.1h0m.1-1.5h0m.6 1.6h0m.3-1.3h0m.2 1h0m.4-1h0m.6-.3h0m1.4-.1h0m.1 .5h0m1.2-.6h0m21.9 2.4h0m.2-.2h0m.4 .2h0m.7-1h0m.4-.3h0m.3 1.1h0m0-.3h0m1.4-.5h0m.2-.3h0m.1-1.1h0m.1 .6h0m1.6-.4h0m.7 1.1h0m.4-.3h0m.6-1.2h0m7.7 .2h0m-54.7 4.6h0m.3 1.1h0m.4-.9h0m1.9 .1h0m.3 .5h0m.6-1.5h0m1.2-.4h0m.1 .2h0m.2 1.6h0m.1-.3h0m0-1.9h0m.1 2.4h0m.3-.6h0m.1-1.4h0m.1 .1h0m.3-.8h0m.4 .4h0m0 .6h0m.1-.9h0m.1 .1h0m.7 .2h0m0 .6h0m.1-.5h0m0 1.3h0m.4-.2h0m.5-.4h0m.4 0h0m0 .1h0m.1-.8h0m.1-.4h0m.1 .5h0m.2-.5h0m.2 0h0m.2 .7h0m0-.3h0m.3-.6h0m.2 .3h0m.3-.3h0m27.6 2.2h0m0 .3h0m.2-.9h0m.1-.3h0m.1 1.7h0m0-1.4h0m.6 1.2h0m.1-.1h0m.1-1.6h0m0 1.3h0m.3 0h0m.1-1.1h0m0 1h0m.1-2h0m.1 1.6h0m.5 .7h0m0-1.7h0m1 .5h0m.4 1h0m.9-2.1h0m.5 2.2h0m.9-2.4h0m-48.6 3.2h0m1.8 1.8h0m.5 .6h0m.9-1.1h0m.7 .5h0m.5 .3h0m.1-2.1h0m.2 1.6h0m.3-1.3h0m.1 1.7h0m0 0h0m.5 0h0m0-.5h0m.1-.7h0m.1 1.3h0m.1-1.8h0m.6 .6h0m.6-.4h0m0 .4h0m.6-.3h0m.2-.6h0m.5 .3h0m.8-.4h0m31 2h0m.6 .1h0m.2-.6h0m.5-1.4h0m.6 0h0m0 2.3h0m.4-.7h0m.1-.9h0m.1-.7h0m.6 1.6h0m-46.8 2.6h0m.1 .4h0m4.1-.5h0m.5 0h0m.7 .7h0m.1 .2h0m.2-1.9h0m0 .3h0m.1 .1h0m.3 2h0m.1-2.1h0m.1 2.3h0m.3-1.3h0m.1 .5h0m.1-.8h0m.7-.7h0m.3-.1h0m.7-.3h0m.3-.2h0m32.7 2.8h0m.4-.3h0m.2 .2h0m.3-1.6h0m.1 1.4h0m.3-1.6h0m.1 .4h0m.2-.1h0m0 1h0m.3-2h0m0 2.7h0m.3-1.3h0m.1 .2h0m.4-1.5h0m.4 1.1h0m2.6-.7h0m2.1 .3h0m-51.1 4h0m.9-1.4h0m.8 1.6h0m1.7 .2h0m2.3-1.1h0m0 0h0m.1 .4h0m.4-.1h0m0 1.2h0m.3-2.4h0m.7-.1h0m.5 .4h0m.1-.7h0m34.3 2.6h0m.1-.8h0m.3-.4h0m.3 .2h0m.5 .2h0m.1-1.1h0m0 1.3h0m.2 .4h0m.1-.8h0m.3-.8h0m.1 .9h0m.2-1.7h0m1.1 .9h0m-44.2 3.6h0m.4-1.2h0m.6 1.8h0m.3 .6h0m.9-1.6h0m0 1.2h0m0-.3h0m.5-1.9h0m0-.1h0m.1-.1h0m.2 0h0m.1 2.9h0m0-1.3h0m.2 .8h0m0-1.4h0m0 .7h0m.3 .2h0m.1 .5h0m.2-2.2h0m0 .5h0m.1 1.4h0m.1-1.7h0m.1 .4h0m.1 .2h0m.2-.1h0m.2-.9h0m35.1 2h0m.2-1.4h0m0 1.7h0m.1-1.7h0m.1 2.3h0m.5-1.9h0m0 .8h0m.1 .7h0m.1-.5h0m.2-.1h0m.1-.4h0m.7 .4h0m0 .4h0m.4-.4h0m.2 .4h0m0-.6h0m.6 1.3h0m.2-1h0m.3-.6h0m1-1.3h0m-46.7 5.2h0m3-.5h0m.5 .7h0m.6-.3h0m.1-2.1h0m0 1.4h0m.3-.1h0m.2-1.3h0m.3 .8h0m0-.4h0m.3-.4h0m.3 .2h0m35.6 2.2h0m.2-1.2h0m.1 .5h0m.7-1h0m.3 0h0m.5 1.6h0m0-1.1h0m.2 1.1h0m.9-1.9h0m1.3 1.1h0m.5 .7h0m-48 3.5h0m2.3-2.1h0m.5 1.1h0m.6 1.2h0m.2-2.1h0m.2 .7h0m.3-1.2h0m.1 1.3h0m.1-1.4h0m0 1.6h0m.3-.6h0m0 1.3h0m0-1.2h0m.3 1.2h0m.1-1.9h0m0 1.8h0m.1-1.2h0m0 1.7h0m.1 0h0m0-1.8h0m.1 .9h0m.1-.5h0m0 .9h0m0-.2h0m.5-1.9h0m0 .3h0m.2 0h0m36.7 1.2h0m.1 .5h0m.1-1.2h0m.3 1.6h0m0-2.3h0m.1-.3h0m.1 .3h0m.1 .5h0m0 .6h0m.2 .1h0m.3-.1h0m.1-1.2h0m.3 2.2h0m.1-2.1h0m.5-.5h0m.1 .2h0m.2 1.1h0m.3 1.5h0m.4-2.3h0m.2 1.9h0m1.8-1h0m-47.9 4h0m1.3-2.3h0m2.2 1.5h0m.3 1.1h0m0 .2h0m0-1.5h0m.1 1.2h0m.2-2.1h0m.2 1.9h0m.1 0h0m.6 .3h0m0 .2h0m0-1.3h0m.3-.9h0m.1 .1h0m36.8 1.8h0m0-.5h0m.1-.1h0m.1 .4h0m.1-1.7h0m.3 1.5h0m0-1.2h0m.1-.1h0m.2 .2h0m.3 .1h0m.2-1.1h0m0 1h0m.1 1h0m.2-1.8h0m.5 .4h0m-43.2 3.6h0m.8-.9h0m.3-.1h0m.6 1.7h0m.7-1.5h0m.4 2h0m.7-1.7h0m.5 0h0m.3 1.6h0m0-.6h0m.3 .5h0m.5 .1h0m34.6 .5h0m.4-1.5h0m.4 .9h0m.2-2h0m0-.1h0m.5 .2h0m0 .2h0m0-.3h0m.5 0h0m.8 1.2h0m.3 1.3h0m.1-2.2h0m.8-.3h0m.9 .5h0m-41.7 2.3h0m.7 1.5h0m.2-.8h0m1 1.2h0m.1-.6h0m.1 1.5h0m.5-.9h0m0-1.2h0m.2 .5h0m0-.2h0m.3 .9h0m.2 .3h0m.4 .3h0m30.5 0h0m.6 .2h0m.1 0h0m.3-.1h0m.3-1h0m.1 .5h0m.4-1.5h0m.5 .9h0m.1-1.4h0m.3 1.1h0m.8 .1h0m.2-1.3h0m.1 1.4h0m.3 .8h0m.9-1.2h0m1.5 1.4h0m-41.8 2.8h0m1 0h0m.6-.4h0m.3 .4h0m.9-.5h0m1-1.5h0m.1 1.2h0m.3-1.2h0m.8 .4h0m.9-.6h0m.1 2.5h0m.5-2.6h0m0 1.9h0m1.9 .4h0m.8 .2h0m.2-.5h0m.5 .6h0m.9 .4h0m1.5 0h0m14.9 0h0m.4 0h0m1.7-.6h0m.4 .1h0m.5 .5h0m.2-.9h0m.4 .2h0m.6 .5h0m.3 0h0m.3-.1h0m.1-1.4h0m.2 1.2h0m.5-1.3h0m0 1.1h0m.1-.6h0m.1-.5h0m.4 1.1h0m.4-1h0m.1 1.6h0m.4-2.6h0m0 1.2h0m.1-1.3h0m0 .1h0m.1 0h0m.2 1.6h0m0 1h0m.1-1.4h0m.2-1.5h0m.1 .8h0m0 .3h0m.2-.9h0m.2 1.6h0m.4-1.8h0m.1 1.8h0m.2 1.1h0m.7-.4h0m.1-1.8h0m1.5 .3h0m.1 .3h0m1.6 1.2h0m-34.4 3.1h0m2-2.3h0m.1 2h0m.7-1.6h0m0 .5h0m.2-.6h0m.2 .5h0m.8 1.6h0m0-2.6h0m.4 .5h0m0-.3h0m.9 1h0m.2 .6h0m.1 .5h0m.2-1.6h0m.1 .1h0m.1-.1h0m0-.5h0m0 .1h0m0 .4h0m.2 .3h0m.2 .2h0m.2-1.1h0m.6 1.7h0m.3 .2h0m0-.3h0m.5-1.3h0m.1 .1h0m0 1.6h0m.3-1.5h0m.4 .2h0m.2 .2h0m0-.4h0m0 .1h0m.4-.3h0m.6 2.4h0m.1-.9h0m.3-1h0m0 0h0m.1 .7h0m.1-.5h0m.3 .5h0m0-.6h0m.3 1.7h0m0-1.8h0m.7 0h0m.4 1.6h0m.3 .2h0m.1-1.4h0m.1-.2h0m0 .5h0m.2-.5h0m.8 .9h0m.1-1.1h0m.2 0h0m.5 .5h0m.1 0h0m.2 1.4h0m.2-.7h0m.3-.4h0m.1-.7h0m.3 .3h0m0 .3h0m1.2-1h0m.1 .4h0m.3-.4h0m.2-.1h0m.4-.2h0m.2 .4h0m.2 0h0m.1-.4h0m0 2.4h0m.5-1.5h0m.1-.8h0m.3 1.7h0m.5-1.2h0m.2-.9h0m.2 .2h0m0 .4h0m.3 .5h0m0-1.1h0m.1 .4h0m.2 1.6h0m.5-1.1h0m.2-.2h0m.1-.5h0m.2 1.5h0m.1-1.2h0m.2 0h0m.1-.1h0m.7 .1h0m0 .1h0m.4 .2h0m.5-.2h0m1.8-.2h0m.5 2.4h0m.7-.9h0m2.4-.1h0m2-1.2h0m.1 1.4h0m-27.9 1h0m3.7 .6h0m.5 .6h0m1.3 1.3h0m.7-2.6h0m1.2 0h0m1.5 .2h0m.6 .5h0m.2 0h0m.7 0h0m.2-.7h0m.2 1.9h0m.4-.3h0m.2-1.3h0m.5-.2h0m.3-.1h0m1.5 1.5h0m2.4-.9h0m.6 .3h0m.8-.4h0m.5 .4h0m3.1-.2h0m1.4 1h0m.8-1.5h0m.2 1.5h0m-19.7 1.5h0" stroke="#2a2a2a" stroke-width="0.7" stroke-linecap="square" fill="none"/>
<path d="M183.5 187.4 181.0 187.7 172.6 186.3 167.5 183.1 166.6 182.3 164.6 178.3 165.1 172.8 165.8 171.3 169.2 164.8 173.5 159.8 174.5 159.0 181.5 155.5 198.5 148.3 204.5 145.3 211.2 141.3 215.0 138.2 216.5 137.3 218.0 136.7 220.0 136.6 221.5 136.9 223.0 137.7 224.3 139.3 224.5 140.8 224.4 143.3 223.5 145.3 222.5 146.3 221.5 146.9 220.0 147.4 217.0 147.7 215.5 148.6 209.4 154.8 205.4 159.8 204.5 161.2 201.9 167.8 200.3 176.8 197.5 182.4 197.0 182.8 190.0 186.3 183.5 187.4Z" fill="#a4a4a4" stroke="#333" stroke-width="4.4" stroke-linejoin="round" paint-order="stroke" fill-rule="evenodd"/>
<path d="M183.5 186.8 181.0 187.1 173.0 185.8 168.0 182.7 167.1 181.8 165.4 178.3 165.3 177.8 165.8 172.8 169.5 165.3 174.5 159.7 181.5 156.2 197.8 149.3 203.8 146.3 212.0 141.4 215.0 138.7 216.5 137.7 218.0 137.1 219.5 137.0 221.0 137.2 222.5 137.9 223.8 139.3 224.2 140.8 224.1 143.3 223.7 144.3 223.1 145.3 222.0 146.3 221.0 146.8 220.0 147.1 217.5 147.3 216.5 147.7 215.5 148.3 209.1 154.8 203.9 161.3 201.1 168.3 199.6 176.8 197.0 182.0 196.5 182.4 190.0 185.7 183.5 186.8Z" fill="none" stroke="#fff" stroke-width="0.8"/>
<path d="M182.5 186.4 181.0 186.4 173.5 185.2 168.5 182.1 167.9 181.3 166.2 177.8 166.7 172.8 169.8 166.3 170.5 165.3 175.0 160.2 181.5 157.0 197.4 150.3 203.3 147.3 209.0 144.0 212.5 142.2 215.2 139.3 217.0 138.0 218.5 137.5 220.0 137.5 221.5 137.9 222.5 138.5 223.5 139.8 223.9 141.3 223.7 143.3 223.3 144.3 222.6 145.3 221.0 146.4 217.0 147.1 215.5 147.9 207.8 155.8 203.0 161.8 200.4 168.3 199.0 176.3 196.2 181.8 189.5 185.2 182.5 186.4Z" fill="#9c9c9c" stroke="rgba(255,255,255,0.85)" stroke-width="0.45" fill-rule="evenodd"/>
<path d="M182.0 185.3 175.5 184.4 174.0 184.0 169.5 181.0 167.6 177.3 168.3 172.3 171.4 166.3 175.2 161.8 176.0 161.2 181.5 158.5 197.0 151.8 202.0 149.3 208.0 145.8 209.5 145.3 212.0 145.2 213.0 144.8 213.6 144.3 214.7 141.8 215.5 140.3 216.5 139.3 217.5 138.7 218.5 138.4 220.0 138.3 221.0 138.5 222.0 139.2 222.9 140.3 223.2 141.8 223.0 143.3 222.1 144.8 221.0 145.7 220.0 146.0 216.0 146.5 215.0 146.9 211.9 150.8 205.3 157.8 201.4 162.8 199.0 168.8 197.7 176.3 195.4 180.8 194.8 181.3 189.0 184.2 182.0 185.3Z" fill="#949494" stroke="rgba(255,255,255,0.85)" stroke-width="0.45" fill-rule="evenodd"/>
<path d="M220.0 145.3 218.5 145.6 217.0 145.5 216.1 144.8 215.5 143.8 215.6 142.3 216.2 140.8 217.2 139.8 218.5 139.1 220.0 139.1 221.0 139.4 222.0 140.3 222.5 141.3 222.4 142.8 222.0 143.8 221.1 144.8 220.0 145.3ZM185.0 183.8 182.0 184.3 175.5 183.3 170.7 180.3 169.1 177.3 169.0 176.8 169.5 172.8 172.5 166.8 176.5 162.3 181.0 160.1 195.5 153.9 200.5 151.3 206.0 148.1 207.0 147.8 208.0 147.7 210.0 147.7 211.0 148.1 211.3 148.8 211.5 149.8 211.0 150.8 209.0 153.3 203.7 158.8 199.8 163.8 197.7 169.3 196.6 175.8 194.3 180.3 189.0 183.1 185.0 183.8Z" fill="#888" stroke="rgba(255,255,255,0.85)" stroke-width="0.45" fill-rule="evenodd"/>
<path d="M220.0 144.5 219.0 144.7 218.0 144.6 217.4 144.3 216.8 143.3 216.7 142.3 217.1 141.3 217.5 140.8 218.5 140.1 220.0 140.1 221.0 140.6 221.5 141.3 221.7 142.3 221.4 143.3 221.0 143.8 220.0 144.5ZM184.0 182.9 182.0 183.1 176.0 182.1 172.5 179.9 171.9 179.3 170.6 176.8 171.0 172.8 173.8 167.3 177.0 163.6 182.0 161.0 194.3 155.8 198.5 153.7 204.0 150.6 205.5 150.3 207.5 150.3 208.0 150.5 208.3 150.8 208.6 151.8 208.6 152.3 208.1 153.3 206.4 155.3 201.7 160.3 198.2 164.8 196.4 169.3 195.2 175.8 193.4 179.3 192.9 179.8 188.5 182.0 184.0 182.9Z" fill="#787878" stroke="rgba(255,255,255,0.85)" stroke-width="0.45" fill-rule="evenodd"/>
<path d="M219.5 143.4 218.8 143.3 218.4 142.8 218.5 141.8 219.0 141.5 219.5 141.5 220.0 141.7 220.3 142.3 220.2 142.8 219.5 143.4ZM183.0 181.8 182.0 181.9 177.0 181.1 173.5 178.8 172.2 176.3 172.5 172.8 175.0 168.0 178.0 164.6 182.0 162.6 193.0 157.9 197.0 155.9 201.5 153.3 202.5 153.0 204.0 153.0 205.0 153.1 205.3 153.3 205.6 153.8 205.7 154.8 205.1 155.8 199.6 161.8 196.5 165.8 194.9 169.8 193.9 175.3 192.1 178.8 187.5 181.1 183.0 181.8Z" fill="#646464" stroke="rgba(255,255,255,0.85)" stroke-width="0.45" fill-rule="evenodd"/>
<path d="M184.0 180.4 182.5 180.6 178.0 179.8 175.0 177.8 174.0 175.8 174.3 172.8 176.3 168.8 179.0 165.8 182.5 164.1 191.5 160.3 199.0 156.2 200.0 156.0 202.0 156.2 202.5 157.3 202.0 158.3 197.0 163.8 194.7 166.8 193.2 170.3 192.4 174.8 191.0 177.8 187.0 179.9 184.0 180.4Z" fill="#585858" stroke="rgba(255,255,255,0.85)" stroke-width="0.45" fill-rule="evenodd"/>
<path d="M184.5 178.8 183.0 179.1 179.5 178.5 176.8 176.8 176.0 175.3 176.2 173.3 176.2 172.8 177.7 169.8 179.9 167.3 182.5 166.0 190.0 162.8 196.0 159.6 197.5 159.4 198.5 159.7 198.7 160.3 198.3 161.3 194.2 165.8 192.4 168.3 191.4 170.8 190.8 174.3 189.6 176.8 186.5 178.5 184.5 178.8Z" fill="#7a7a7a" stroke="rgba(255,255,255,0.85)" stroke-width="0.45" fill-rule="evenodd"/>
<path d="M184.5 176.8 183.0 177.0 181.0 176.6 179.6 175.8 179.1 175.3 178.7 174.3 178.9 172.8 179.9 170.8 181.3 169.3 183.0 168.4 188.0 166.2 192.0 164.1 193.5 164.1 193.7 164.8 193.4 165.3 189.6 169.8 188.8 171.8 188.5 173.8 187.8 175.3 187.3 175.8 186.0 176.5 184.5 176.8Z" fill="#a0a0a0" stroke="rgba(255,255,255,0.85)" stroke-width="0.45" fill-rule="evenodd"/>
<path d="M179.5 147.3 178.0 147.6 176.5 147.7 174.0 147.2 171.5 146.0 169.8 144.3 169.0 142.3 168.9 140.3 169.7 138.3 171.5 136.4 173.0 135.5 174.5 135.0 176.5 134.7 178.0 134.8 179.5 135.1 181.0 135.6 182.5 136.6 183.7 137.8 184.4 138.8 184.9 140.3 184.9 141.8 184.5 143.3 183.6 144.8 182.5 145.8 181.0 146.8 179.5 147.3Z" fill="#e8e8e8" stroke="#111" stroke-width="0.45" fill-rule="evenodd"/>
<path d="M179.0 146.4 176.5 146.7 174.5 146.3 172.5 145.4 170.9 143.8 170.2 142.3 170.2 140.3 171.1 138.3 172.5 137.0 173.5 136.4 175.0 135.9 176.5 135.7 178.0 135.8 180.5 136.5 181.7 137.3 182.7 138.3 183.3 139.3 183.7 140.8 183.7 141.8 183.2 143.3 182.5 144.3 181.5 145.3 180.5 145.9 179.0 146.4Z" fill="#ddd" stroke="#111" stroke-width="0.45" fill-rule="evenodd"/>
<path d="M179.0 145.4 177.5 145.7 175.5 145.6 173.5 144.8 172.3 143.8 171.4 142.3 171.3 140.8 171.8 139.3 173.0 137.9 175.0 136.9 177.5 136.7 179.0 137.0 180.0 137.4 181.7 138.8 182.3 139.8 182.5 140.8 182.5 141.8 182.2 142.8 181.0 144.3 179.0 145.4Z" fill="#d0d0d0" stroke="#111" stroke-width="0.45" fill-rule="evenodd"/>
<path d="M177.0 144.8 175.5 144.6 173.8 143.8 172.9 142.8 172.4 141.3 172.8 139.8 173.5 138.8 175.0 137.9 176.5 137.6 178.0 137.7 179.6 138.3 180.7 139.3 181.4 140.8 181.2 142.3 180.0 143.8 178.5 144.6 177.0 144.8Z" fill="#c4c4c4" stroke="#111" stroke-width="0.45" fill-rule="evenodd"/>
<path d="M177.0 143.8 175.5 143.6 174.5 142.9 174.0 142.3 173.7 141.3 173.9 140.3 174.5 139.5 175.5 138.8 176.5 138.6 178.0 138.7 179.0 139.2 179.6 139.8 180.1 140.8 180.1 141.8 179.5 142.8 178.5 143.5 177.0 143.8Z" fill="#bbb" stroke="#111" stroke-width="0.45" fill-rule="evenodd"/>
<ellipse cx="220.6" cy="141.8" rx="7" ry="7" fill="none" stroke="#555" stroke-width="0.8"/>
<text x="206.7" y="133.2" font-size="12.3">0.025</text>
<text x="212.4" y="202.4" font-size="12.3">1.1</text>
<rect x="258.6" y="115.2" width="88.7" height="89.1" fill="none" stroke="#7a7a7a" stroke-width="1.1"/>
<path d="M256.4 123.7H258.6M256.4 143.5H258.6M256.4 164.0H258.6M256.4 190.0H258.6M280.6 204.3V206.5M291.8 204.3V206.5M316.9 204.3V206.5M338.6 204.3V206.5" stroke="#555" stroke-width="0.8"/>
<text x="254.6" y="125.4" font-size="4.8" text-anchor="end" fill="#555" stroke="none">10<tspan font-size="3.2" dy="-1.7">5</tspan></text>
<text x="254.6" y="145.2" font-size="4.8" text-anchor="end" fill="#555" stroke="none">10<tspan font-size="3.2" dy="-1.7">4</tspan></text>
<text x="254.6" y="165.7" font-size="4.8" text-anchor="end" fill="#555" stroke="none">10<tspan font-size="3.2" dy="-1.7">3</tspan></text>
<text x="254.6" y="191.7" font-size="4.8" text-anchor="end" fill="#555" stroke="none">0</text>
<text x="280.6" y="212.5" font-size="4.8" text-anchor="middle" fill="#555" stroke="none">0</text>
<text x="291.8" y="212.5" font-size="4.8" text-anchor="middle" fill="#555" stroke="none">10<tspan font-size="3.2" dy="-1.7">3</tspan></text>
<text x="316.9" y="212.5" font-size="4.8" text-anchor="middle" fill="#555" stroke="none">10<tspan font-size="3.2" dy="-1.7">4</tspan></text>
<text x="338.6" y="212.5" font-size="4.8" text-anchor="middle" fill="#555" stroke="none">10<tspan font-size="3.2" dy="-1.7">5</tspan></text>
<path d="M265.3 204.3 V154.5 H316 V204.3" fill="none" stroke="#777" stroke-width="0.9"/>
<path d="M302.9 129.5h0m-14.5 2.9h0m3.7 1h0m5.3-.1h0m4.9-.7h0m1.2 .2h0m2.5 .7h0m.5-.3h0m.3-1.1h0m-23.5 3.1h0m3.2 .4h0m2.1-1.5h0m2.5 1.6h0m1.7-1.2h0m2.5-.2h0m.8-.2h0m1 1.2h0m1.2 1h0m.3-.9h0m.1 0h0m.7 .7h0m.2-2h0m.1 2.3h0m.8-1h0m0 1h0m2-2.5h0m1.2 1.1h0m.9-1.4h0m0 2.8h0m.5-1.5h0m.1-1.1h0m.2 2.5h0m.6-2.2h0m2.7 .2h0m.7 0h0m.4 .2h0m.5 1.5h0m.3-1.4h0m2.9 1.8h0m3.5-1h0m-40.3 2.3h0m1.4 1.3h0m1.1-1.2h0m1.7-.3h0m1.9-.9h0m.3 1h0m.7-.8h0m1.2 2.2h0m.5 .1h0m.4-1.3h0m.3 .8h0m0 .7h0m.6-.9h0m.6 .3h0m2 .1h0m.9 .4h0m.2 .3h0m.3-.8h0m.8-1.8h0m.2 0h0m0 1.8h0m1.3 .2h0m.7-.8h0m2.7-1.4h0m1.5 .5h0m.2 .7h0m.3 0h0m.8 .2h0m.1 .2h0m.8-.4h0m.1 .7h0m.6-.6h0m.1-1h0m1.1 1h0m.9 1h0m.5-.4h0m.1-.6h0m5.1-.3h0m.9 .9h0m1.5-1.2h0m.9 .3h0m.3-1h0m-40.9 4.4h0m4.5 .4h0m4.6-.3h0m.4-1.5h0m1 1.2h0m.2 1.1h0m.3 0h0m.3 .2h0m.7-2.5h0m0 2.5h0m2.2-.8h0m.8 .7h0m.3-1.3h0m.4 1.6h0m.1-.2h0m1.1-1.8h0m.2 1.5h0m.4-.2h0m0 .3h0m.2 .4h0m.6-.5h0m.3-1.7h0m.7 .9h0m.6-.4h0m0 .4h0m.4-1.1h0m.4 1.4h0m.2-.4h0m2.3 .2h0m.1 1.2h0m0-1h0m.3-.8h0m1 .5h0m.2-.4h0m.1 1.5h0m.4-.4h0m.3-.4h0m.3-1.1h0m.4 .4h0m0 .1h0m.9 0h0m0-.1h0m.3 .7h0m.4-1.1h0m.4 .6h0m1-1h0m1.1 1.3h0m0-.4h0m.1 .9h0m0-1h0m.4-1.1h0m3.5 .5h0m.8 .5h0m.7 .2h0m.9-.6h0m3.6-.3h0m-37.7 3h0m5.1 2.5h0m.6 .1h0m.1-2.8h0m.2 2.2h0m.4-.9h0m.1 .5h0m.1-.4h0m.9 .9h0m.1-1.5h0m.2 1.2h0m.9 .4h0m.1 .2h0m0-.4h0m.4-.5h0m.4 0h0m.2-1h0m0 .9h0m.1-1.2h0m0 1.2h0m.4-1.2h0m1.6 .7h0m.1 1.5h0m.9-.9h0m0 0h0m.4 .9h0m.7 .2h0m.5-2.5h0m.3 1.1h0m0-1.1h0m.5 .5h0m.5 1.9h0m.9-1.2h0m.3-1.7h0m.6 1.3h0m.1 .7h0m.3-1.4h0m.1 .8h0m.4-.8h0m.2 1.3h0m0-1.6h0m.2 2.3h0m.8-1.9h0m0 .2h0m.1 .8h0m1.2-1h0m.4-.4h0m.1 1.1h0m.2 .8h0m1-2.2h0m0 1.5h0m.1 .1h0m0-.1h0m.2 .7h0m.5-1.1h0m.5-.7h0m.4-.4h0m1.4 2.9h0m1.5-1.3h0m.3 .9h0m0-.3h0m1.4-1.4h0m.5 2h0m.3-1.9h0m0 2h0m.4-.4h0m.8-2.2h0m.5 1.9h0m3.8-1h0m.2-.7h0m3.8 .2h0m-38 3.1h0m.2 .2h0m.1-.2h0m1.3 .9h0m.4-1h0m.3 .3h0m.5-.8h0m.5 1.1h0m.1 .9h0m1-1.2h0m.4 1.9h0m.3-1.9h0m.4 .6h0m0-1h0m.7-.4h0m.4 2.3h0m1.5 .4h0m.3-1h0m1-1.1h0m.6 1.3h0m.1 .2h0m.5-1.5h0m.4 1.4h0m.2-.6h0m0 .3h0m.3-1.7h0m0 1.1h0m0 0h0m.1 .8h0m.4-1.1h0m.1-.8h0m.7 1.7h0m.6-1.4h0m.4 1.7h0m.2 .2h0m.1-1.9h0m2.5-.2h0m.3 .9h0m.3 .9h0m0 .2h0m.1-.1h0m.3 .5h0m.4-1.2h0m.2 .2h0m1.2-.9h0m.3 .1h0m1.3 1.7h0m.7-1.9h0m.4 1.1h0m.8-1.4h0m.2 2.2h0m.2 .3h0m0-.5h0m.5 .5h0m2.8-2.4h0m.7 .8h0m-30.1 4.1h0m3.5-1.9h0m1.9-.1h0m1.2-.1h0m.5 2.1h0m0-1.8h0m.3-.2h0m1.8 1.9h0m.7-1.6h0m2.3 1.5h0m2.1 .8h0m3.5-2.4h0m1.7 1h0m.2 1h0m.7-2h0m1.6-.3h0m.8 .2h0m.4-.3h0m2.4 1h0m2.3-.8h0m.9-.3h0m-26.6 4.2h0m4.2 .4h0m4.8-.6h0m.1 .9h0m1.7-1.5h0m.4 2.2h0m3.6-2.3h0m3.8-.3h0m-18.3 3.4h0m1.6 2h0m1.6-2h0m2 .4h0m.3 1.6h0m-2.4 .6h0" stroke="#666" stroke-width="0.6" stroke-linecap="square" fill="none"/>
<path d="M324.3 133.2h0m-5.2 3.2h0m2.4-.4h0m1.6 .3h0m3.8-.2h0m.3 0h0m1.5-1.3h0m1.9 1h0m1.5 .3h0m-17.3 3h0m1.7 .3h0m1.1-2.3h0m1.3 1.2h0m0 1h0m.1-1.1h0m.3-1.3h0m.1 1.9h0m.3-.3h0m.7 .2h0m0 .2h0m.2-.5h0m.1-1h0m0 1.5h0m0-1.9h0m0 2.3h0m.3-1.5h0m.3 .5h0m0 .2h0m.1 .7h0m.2-2.4h0m.4 1.8h0m.1-1h0m.1 .3h0m0 .9h0m.3-1.4h0m0 1.2h0m0-.5h0m.1 .4h0m.1 .2h0m.5-1.3h0m.1 .5h0m.1 .1h0m.1 .4h0m.1-.3h0m.3 .8h0m.3-1.9h0m0 1.6h0m.1-.8h0m.2-1.2h0m.2 .5h0m.5 0h0m.2 1h0m0 .3h0m.4 .2h0m.2 0h0m0-1h0m.1 1.2h0m0-1.8h0m0 1.4h0m.5 .5h0m.3-1h0m0-1.3h0m.3 1.4h0m.2 .6h0m.1-1h0m.3-1.1h0m0 2.3h0m.4-1.5h0m1 2.2h0m.1 0h0m.3-1.1h0m.5 .3h0m.1 .6h0m.6-1.6h0m1.3 .4h0m-24.2 2.2h0m1.1 0h0m.3 .7h0m2.6 .5h0m.1 .5h0m.4-2h0m.6 .3h0m.2 .7h0m.5-.1h0m.6 1.3h0m.6-.8h0m.9 .4h0m.6 .3h0m.1-.8h0m0-.5h0m.5 1.4h0m.4-.4h0m0 .4h0m.4-1.5h0m.3 1.2h0m0-.5h0m.1 .5h0m.1-.3h0m.1-1.5h0m.1 1.5h0m0-.4h0m.3 0h0m.7-.2h0m.4-.3h0m.3-.3h0m.2-.6h0m.1 .4h0m.1-.5h0m.9 .1h0m.3-.1h0m6.5 .1h0m.4 .2h0m0 .2h0m.5-.6h0m.2 .2h0m.5 2.4h0m0-.9h0m.4 .3h0m.1 .8h0m.6-.5h0m.1-2.1h0m.4 2.2h0m0-1.5h0m.3 .3h0m0-1.2h0m0 2h0m.6-1h0m-35.1 4h0m.1 .9h0m1.5-.2h0m4.8-.2h0m3.8-1.3h0m.3 .7h0m.5 .4h0m.5 .1h0m.4 .1h0m.2 0h0m.1 .4h0m.4-.9h0m0 .8h0m0-2.2h0m.1 1.7h0m.1 .3h0m.1-1.1h0m.4 1.1h0m.1 .3h0m0-2.6h0m.1 1.5h0m0 .5h0m0 .4h0m.4-.4h0m.1-.6h0m.1 1h0m.2-1.9h0m0 1.7h0m.1 .1h0m0-.7h0m.1 .1h0m.2-1h0m.4 .7h0m.1-1.1h0m.6 .5h0m.1 .1h0m.2-1.2h0m1.2 1.8h0m.1-1.9h0m.2 .1h0m.2 .4h0m.3 .5h0m.1-.5h0m.3 .5h0m.4-.1h0m.2-.7h0m.8 .7h0m.1-.4h0m.2 .1h0m.3-.2h0m.3-.2h0m.1 0h0m.1 0h0m.1 0h0m11.5 1.4h0m.1-.7h0m.2 1h0m0-1h0m.1 .6h0m.2-1.1h0m0 0h0m.2 2h0m.1-.8h0m0 .2h0m.1 .4h0m.1-.1h0m.1-.3h0m0-1h0m.5 1.8h0m.1 .4h0m.7-3h0m.5 1.7h0m.1-1h0m.2 1.2h0m.1-.5h0m-36.6 3.7h0m2.1-1.8h0m.1 1.5h0m1.3 1h0m.2-.2h0m.1-.6h0m.2-.8h0m.1 1h0m.1-1.6h0m.4 2h0m.7-1.5h0m.1 .3h0m.4-.5h0m.3 .9h0m.2-.1h0m.1 .7h0m.8-.6h0m0 .2h0m.2 .1h0m.1 .7h0m.1-.7h0m.1-1.1h0m0 .9h0m0 .2h0m.1-1.4h0m.1 1.6h0m.4-.3h0m.1-.7h0m.5 .4h0m.5-.4h0m.4-.4h0m.3-.2h0m0-.2h0m.1-.3h0m.1 .9h0m.1-.2h0m.1-.1h0m0-.2h0m.4 .1h0m0-.6h0m.1 0h0m0 .3h0m.6-.3h0m.7 .7h0m.2-.1h0m.4-.6h0m1.1 .3h0m18.2 2h0m.2 .3h0m.2-.8h0m0 .8h0m.1-.8h0m.1 .4h0m.1-.9h0m0 1.5h0m.2-.6h0m0-1.1h0m.4 1.6h0m0-2.1h0m.1 .2h0m.1-.3h0m.2 1h0m.4 .5h0m0 .2h0m.2-1.7h0m.1-.1h0m.9-.4h0m.6 .5h0m-45.7 5.2h0m2.2-2.6h0m.3 2.1h0m2.4 .3h0m.6-.3h0m1.5 .1h0m.1-.9h0m0-1.4h0m.1 1.6h0m.1 .8h0m.1-.7h0m.3 .7h0m.2 .1h0m.3-2.5h0m.3 1.9h0m.3 0h0m.2 1h0m0-2.4h0m.3 2h0m.2-2.1h0m.1 2.3h0m.3 0h0m.7-.5h0m0 .5h0m.3-1.2h0m.3 .7h0m.2-1.1h0m0 .8h0m0-1.1h0m.2-.3h0m0-.5h0m0 1.7h0m.1-1.5h0m0 1.5h0m.1-.3h0m.1 .2h0m.3-.2h0m.1 .3h0m0-1.6h0m0 1.3h0m.1 .1h0m.2 .1h0m.4-1.3h0m.1 .7h0m.1 0h0m.1-.4h0m.2 .2h0m.5-.4h0m0 .3h0m.2-.6h0m.1 0h0m0 .1h0m.3-.1h0m.4 .3h0m.1-.1h0m0 .4h0m.1-.5h0m.5-.2h0m15.6 2.7h0m0-.1h0m.2 .3h0m.2-.2h0m.7-1h0m.2-.2h0m.3 1.2h0m0-.6h0m0 .8h0m.1-1.5h0m.2-.7h0m.1 2.2h0m.1-1.4h0m.3-.9h0m.2-.2h0m0 .3h0m0-.4h0m.2 1.4h0m.2-1.2h0m0 .8h0m0-.3h0m.1-.4h0m.2 1.6h0m.3-.3h0m.1-1.8h0m.3 .1h0m0 0h0m.6 1.9h0m.2-1.1h0m.2-.5h0m.3 .6h0m0 .2h0m.7-.4h0m.1-.2h0m0 2.2h0m.4-2.1h0m0 .4h0m.3 1.5h0m0-1.3h0m0 .1h0m.2 1.4h0m.2-2.3h0m.2-.1h0m.1-.1h0m.4 1.6h0m0 .8h0m.1-1h0m0-.6h0m.1 .1h0m.2 .5h0m.2-1.1h0m.2 .5h0m.1 .8h0m.1-.9h0m0-.3h0m.1 1.1h0m.3-1.1h0m.3-.9h0m.1 2.7h0m.1-2.7h0m.4 .1h0m.4 .3h0m.3 .8h0m.2 1.3h0m0-2.2h0m1.8-.1h0m.2 .8h0m.1 1h0m-48.4 2.3h0m2.1-.7h0m.9 .6h0m.3 1.4h0m.5-2.2h0m.2 1.5h0m1.9 .6h0m.7-.7h0m.1 .8h0m.2 0h0m.1-.4h0m.2 .3h0m.2-.8h0m.1-1h0m.1 1.8h0m0-1h0m.4-.2h0m.3-.5h0m.1 0h0m.1 1.1h0m.1 .7h0m.3-.2h0m.6-1.4h0m.1 1.3h0m.1-2h0m.1 .2h0m.6 1.4h0m.2 0h0m.1-1.7h0m.5 .1h0m.1 .4h0m.1-.1h0m.6 .2h0m.3-.1h0m1.1-.3h0m19.7 2.4h0m.6-.6h0m.1-.1h0m.2-.3h0m.3 .9h0m0-1.2h0m.3-.2h0m.3-.6h0m0 1.4h0m.1-1.8h0m.3 2.4h0m0-1.8h0m0 .5h0m.1 .5h0m.1-1.4h0m.3 2.1h0m.3-1.7h0m.3 .3h0m.5 0h0m.8-.8h0m.2 .3h0m.1-.6h0m1.7 2.8h0m.5 0h0m1.6-1.7h0m2.4 .1h0m4.4-.2h0m-51.6 3.3h0m.3 .5h0m.1-.1h0m1.9-.5h0m.1 .1h0m0-.8h0m.3-.1h0m.4 .8h0m.2 .8h0m.6 .3h0m.1-1.6h0m.4 .8h0m.8-.7h0m0 1.6h0m.6-.1h0m.3 .6h0m.2-2.3h0m.1 2.2h0m.3-.1h0m.3-1.9h0m.1 .8h0m1.2 0h0m.6-1.1h0m.2-.5h0m.3 .5h0m.3-.4h0m.3 .6h0m.3-.7h0m.3-.1h0m22.7 2.9h0m0-.1h0m.1 .1h0m.3-.8h0m.5 .9h0m.1-1.2h0m.2 .2h0m.2-.9h0m0 .5h0m.2-.7h0m.2 .3h0m.4-.8h0m.1 .5h0m0 .4h0m.1-.3h0m0 .7h0m.2-1.7h0m.1 2.4h0m.4-1.5h0m.2 0h0m.1-.8h0m0 0h0m.1 1h0m.3-.5h0m.7-.6h0m.1 .8h0m.1 1.9h0m1.2-.9h0m1.9-1.2h0m7.9-.2h0m-52.2 3h0m.5 1h0m.2 1.2h0m.1-.7h0m1.1 .6h0m.1-.2h0m.6 0h0m.6 .6h0m.1-2.4h0m.1 .7h0m.8 .9h0m.2-1.1h0m0 .3h0m0 1.1h0m.3 .1h0m.1-.8h0m.1-.7h0m.1 .1h0m.5 .4h0m.1 .1h0m.4 .5h0m0-.4h0m.1 0h0m.2 .3h0m.3 .2h0m.1-1.7h0m0 1.2h0m.3-.3h0m.8-.9h0m.4 .3h0m.2-.7h0m0 .6h0m26 1.7h0m.5-.8h0m.1 .8h0m.1-.6h0m.3 .8h0m.3-1.5h0m.3-.8h0m0 .5h0m.2 .8h0m.4-.4h0m.4-.2h0m.1-.5h0m.2 1h0m.2-.6h0m.7 .6h0m.1-1.1h0m.1 1.6h0m-39.8 1.3h0m1 .1h0m0-.2h0m.5 .5h0m.9 2h0m.2-1.5h0m0 .6h0m.4-1.8h0m.1 2.5h0m.1-1.5h0m0-.8h0m.2 2.5h0m.2 .1h0m.1-.2h0m.1 .1h0m0-1.2h0m.2 0h0m.1 .7h0m.2-.8h0m.3 .1h0m.6 .3h0m.1-.7h0m.4 .1h0m0-.4h0m28.6 2.2h0m.4-1.3h0m.1 .2h0m.4 .7h0m0-.5h0m.1 0h0m.1-1.9h0m.2 .8h0m.1 1.7h0m.1-1.9h0m0 2.1h0m.5-2.7h0m.1 1.7h0m0 .5h0m.1-2.2h0m.1 .7h0m0-.9h0m0 2.5h0m.1-1.4h0m0 1h0m.1-1.3h0m.4-.2h0m1.1-.3h0m1.2 2.6h0m1.6-2.7h0m-45.4 3.9h0m.1 .6h0m.6 .4h0m.8 .5h0m.6-.2h0m.1-.1h0m.2 .6h0m.2-.6h0m0-.2h0m.9-.6h0m.3-.8h0m.5 2.1h0m.2-1h0m.2-.1h0m.2 .6h0m.2-1.4h0m.2 1.1h0m0 .5h0m0-1.5h0m.2 0h0m.4-.4h0m0 1.8h0m.1-1h0m.2 .4h0m.4-.6h0m.2 .1h0m0-.1h0m.2-.1h0m.1-.8h0m31.2 1.9h0m.7-1.9h0m.1 .1h0m.1 1.5h0m.1-.6h0m0-.3h0m.3-.2h0m0-.5h0m.2 0h0m.6 2.3h0m.3-1.3h0m.2 1.2h0m.3-1.3h0m0-.3h0m0 .5h0m.5-.7h0m.3 .2h0m1.2 .8h0m-44.7 2h0m.6 1.6h0m.5 .3h0m.6-.2h0m.4-.2h0m.2-.4h0m.4-.2h0m.3-1.1h0m.3 2.1h0m1-1.5h0m.6 0h0m0-.2h0m0 .5h0m.1-1.3h0m.1 2h0m.1-1.9h0m.3 .2h0m.1 0h0m0 1.4h0m0-.7h0m.2 .1h0m.3-.9h0m.1-.1h0m.2 .1h0m32.3 2.7h0m.3-1.1h0m.2-1h0m0 1.6h0m.1-2h0m0 2h0m.3-1.3h0m.1 .5h0m0-.9h0m.3-.1h0m0 1.2h0m0-1.3h0m.2 1.3h0m0 .6h0m0-1.2h0m.2-.7h0m.1 1.5h0m.9-.1h0m.6-.7h0m0-.7h0m.1-.4h0m.2 1.1h0m.4-1.1h0m.1 0h0m.8 .7h0m-45.1 3.3h0m.1-.9h0m.9 .2h0m.8 1.8h0m.1-1.9h0m.9 2h0m.9-1.8h0m0 1.8h0m1-1h0m.1-.2h0m.2 1.6h0m.6-1.5h0m.1-.5h0m.1 .5h0m.2-.9h0m.3 .3h0m33.3 .7h0m.1 1.3h0m.1-1.1h0m0 1.3h0m.2-1.1h0m.2-.4h0m.1-.9h0m.2-.4h0m.1 .6h0m0 .8h0m.1 .1h0m0 .1h0m.3 .7h0m0-.3h0m.3-1.7h0m.5-.1h0m.3 1.3h0m.1-1.3h0m.6 1.9h0m1-.8h0m-44.5 4.4h0m2 .2h0m.2-1h0m.1-.5h0m.1-1.4h0m.2 .9h0m0-1h0m.7 1.4h0m.3 1h0m.4-.4h0m.2 .9h0m0-1.7h0m0 1.8h0m0 0h0m.1-1h0m0-1.3h0m.5 .5h0m0 0h0m.3-1.1h0m34.6 2.1h0m.1-.1h0m.1 .5h0m.1 .3h0m0-.6h0m.3-.8h0m.1-.2h0m.1-1.3h0m0 1.8h0m.1 .6h0m0-1.8h0m.3-.2h0m0 .4h0m.1 1.7h0m0-2.3h0m.1 0h0m.2 .9h0m.1 .4h0m.1-.8h0m.2-.2h0m.1 .7h0m.2 1.7h0m.4-.5h0m0-.1h0m.3 0h0m.1-.9h0m-41.6 3.2h0m1.2-.2h0m.3-.9h0m.1 1h0m.3 1.1h0m.1-.8h0m.1-.4h0m.1 1.4h0m.1-1h0m.1 .7h0m.1-.6h0m.2 .9h0m.3-2.1h0m.1 .9h0m35.4 1h0m.1 .3h0m0-.1h0m.1-2.5h0m.2-.2h0m0 2h0m.2 .8h0m.1-2.7h0m.2 .6h0m.1 .7h0m.3 1h0m.1-2.1h0m.1-.1h0m.3 1.2h0m.5 .6h0m1.2-.5h0m.2-.1h0m-42.6 2.6h0m.5 .5h0m.1 .8h0m.1-.6h0m.6-1h0m.1 0h0m.1 1.6h0m0-1.2h0m.3 1.7h0m.2-2.4h0m0 .9h0m.1-.7h0m0-.3h0m.1 2.2h0m.3-1.3h0m.2 .2h0m.1-.4h0m.1-1h0m.1 1h0m.1-.8h0m0 .6h0m.1 .3h0m.1-.3h0m34.2 1.1h0m.4 1h0m0-2h0m.3 2h0m0-.6h0m.2-2.4h0m.1 1h0m.1-.2h0m0-.3h0m.1-.2h0m.3 1.4h0m.1 .2h0m0-.1h0m.1-1.3h0m.2 .3h0m.1 2.2h0m.1-2.6h0m.1 2.1h0m.1-1.2h0m0 1.5h0m.1-1.7h0m1.2 1.7h0m.5-1.5h0m.4 .4h0m1.1-.4h0m-43.9 2.9h0m.4-1h0m1 .9h0m0 1.7h0m.1-1.8h0m0 .4h0m.2 .8h0m0 0h0m.7-.1h0m.5-.3h0m.1-1.4h0m.3-.3h0m.1 1.1h0m0 1.7h0m.1-2.8h0m.2 .4h0m0 1.7h0m.9 0h0m32.6 0h0m0 0h0m0 .4h0m.2-.9h0m.1-.2h0m0 1.3h0m.2 0h0m.2-1.9h0m.2 .1h0m.1-.2h0m.2 1.8h0m.3-2.1h0m.1 1.1h0m0-.4h0m.1 .2h0m.3-.4h0m0 .9h0m.4-1h0m.2-.8h0m.1 .6h0m0 .2h0m.7 .1h0m.5-.7h0m2.3 1.3h0m-42.3 3.5h0m1.8-.3h0m0-.5h0m.1 .1h0m.4 1.3h0m.1-1h0m.1 .3h0m.1-1.9h0m.2 0h0m0 .6h0m0 .1h0m.5 1.7h0m.2-1.9h0m.2 1.8h0m0-2.3h0m.1 1.4h0m0 .5h0m0-1.2h0m0 1h0m0 0h0m.1-1.5h0m.1 .8h0m0-.3h0m.2 1.3h0m.4-1.2h0m.2 .9h0m.1-.1h0m.4 1.3h0m.2-.3h0m.1-.1h0m27.5 .1h0m.2-.2h0m.3 .4h0m.4-.2h0m.1-.2h0m.2-.5h0m.3 .1h0m.2 .8h0m.2-1.1h0m0-.4h0m.1 .2h0m.4-.5h0m.2-1h0m.1 .6h0m0-.6h0m.2 1.6h0m0-1.6h0m.3 .4h0m0 1.3h0m.2-.8h0m.4-.6h0m.1 2.1h0m1.2-1.7h0m.2 2.1h0m0-2.3h0m.1 1h0m.5 1.3h0m.6-2.8h0m2 1h0m-40.2 3.2h0m1.1 1.1h0m.4 .2h0m.5-2.2h0m1.3 1.6h0m0 .5h0m.4-2.1h0m.1-.3h0m.1 .2h0m.1 1.7h0m.3-1.3h0m.2-.5h0m.4 .1h0m0 0h0m.4 1.5h0m.1 .4h0m0-1.1h0m.2 0h0m.1 .9h0m.2-1.5h0m.3 .9h0m.2-.3h0m.3-.2h0m.4 .8h0m.1 .2h0m.1 .3h0m.2 .7h0m.4-.2h0m.1-.8h0m0 .4h0m.5-.1h0m.3 .6h0m.3-.5h0m.1 .4h0m0-.7h0m.1 .9h0m.2-.5h0m.6 .4h0m.2 0h0m.6 0h0m.2 0h0m1.3 .1h0m15.2 0h0m1.1-.9h0m.2 .3h0m.1 .5h0m.5-.9h0m0 .9h0m.1-.7h0m.3-1.1h0m.2 1.7h0m.4-.9h0m.2 .7h0m.1-1.8h0m.1 1h0m.1-1.2h0m0 2h0m.1-1.9h0m.4 .1h0m.2-.6h0m.1 1.1h0m0 .7h0m0 0h0m.2-.3h0m.1 .7h0m.1 .1h0m0-.3h0m0-1.8h0m.8 2.1h0m0 .4h0m.3-2.4h0m0 .4h0m.3 .1h0m.8-.2h0m.1 1.1h0m.7-1.7h0m.5 0h0m.6 .2h0m-35.3 3h0m1.7 .6h0m2.9-.5h0m2.7 .6h0m.1-.7h0m.3 .4h0m.5 .1h0m.6 0h0m.5 .3h0m.6-.4h0m.1-.2h0m0-.2h0m0 .4h0m.1 1.5h0m0-2.1h0m.1 .3h0m.1 1h0m.2-1h0m.2 1.8h0m.1-2.2h0m.2 .3h0m0-.3h0m.1 2.5h0m.2-.6h0m.3-1.5h0m.3 .6h0m.1-.8h0m.3 1.3h0m.1-.9h0m0 .4h0m0-.8h0m.2 0h0m0 1h0m0 .6h0m.1-1.2h0m.1 .3h0m.4-.5h0m.1 .5h0m.1 .6h0m0 .3h0m.6 .5h0m.2-1.1h0m0 .8h0m0-1.2h0m.1-.1h0m0 .4h0m0 .5h0m.1 1.3h0m.3-1.7h0m.1-.2h0m.3-.3h0m.1 1.7h0m.6 .4h0m0-2h0m.2 0h0m0-.2h0m.1 .5h0m.5 .2h0m.1 .7h0m.1-.8h0m.3 .1h0m.3 .3h0m.1-.7h0m.1 .2h0m.1 0h0m.4 1.4h0m.1-.7h0m0-.8h0m.3 1.9h0m0-1.7h0m.2 .4h0m.1 .6h0m.2 .3h0m0-.2h0m.1-.8h0m.1-.2h0m.1 0h0m.4-.3h0m.6 1.8h0m.3-.9h0m0-.6h0m.2 1.4h0m.1-1.6h0m0 0h0m.3 0h0m.1 1.1h0m0 .5h0m.3-1.1h0m.1-.9h0m.1 0h0m.1-.1h0m.1 .5h0m0 .5h0m.7-.7h0m.2 .1h0m.1 .6h0m0-.2h0m.4 1h0m.4-2.1h0m.2 1.6h0m.2 .1h0m.3-1.2h0m.1 .6h0m0-.2h0m.1 1.4h0m.2-2.1h0m.1-.5h0m.2 2.6h0m.2-2.3h0m.5 1.8h0m.1-1.8h0m.1 .5h0m0 .1h0m.2 .3h0m.4-.2h0m0-.9h0m1.6 .9h0m.3-.7h0m.2 .3h0m.3 .9h0m.7-.2h0m.2-.2h0m.1-.4h0m1.1-.5h0m1.7 0h0m-22.1 5.2h0m0 .1h0m.9-1.8h0m2 .3h0m.7 .3h0m.5-.2h0m.9 1.6h0m.3-1h0m.5 .6h0m.3-1.4h0m.6 .3h0m.6 .4h0m.3 .6h0m.1-1.5h0m.4 .9h0m0 .1h0m1.2-1.1h0m1.9-.4h0m.3 .4h0m.9 .2h0m1.5 .6h0m.4 1.2h0m2.4-2.5h0m-7.1 3.2h0m.3 0h0" stroke="#2a2a2a" stroke-width="0.7" stroke-linecap="square" fill="none"/>
<path d="M291.7 190.3 289.7 190.7 281.2 189.2 275.2 186.7 274.2 185.9 271.8 181.8 271.6 180.8 273.0 173.8 276.4 166.8 282.7 160.5 291.2 154.8 302.7 149.1 309.7 146.2 317.7 143.6 318.7 142.8 321.1 140.3 322.7 139.3 323.7 139.0 325.2 138.9 326.7 139.4 328.4 141.3 329.0 142.8 329.1 144.8 328.2 146.6 326.7 147.8 325.2 148.2 323.7 148.1 321.2 147.2 320.5 147.3 319.7 147.8 312.2 156.8 310.1 159.8 307.2 169.8 305.7 178.3 302.8 184.8 297.2 189.1 291.7 190.3Z" fill="#a4a4a4" stroke="#161616" stroke-width="5.2" stroke-linejoin="round" paint-order="stroke" fill-rule="evenodd"/>
<path d="M291.2 189.9 289.7 190.2 281.2 188.7 275.6 186.3 274.7 185.6 272.3 181.3 272.2 180.8 273.6 173.8 277.1 166.8 282.7 161.3 291.2 155.5 301.2 150.5 308.2 147.6 317.7 144.6 318.7 143.9 321.1 140.8 322.7 139.7 323.7 139.4 325.2 139.3 326.7 139.8 328.3 141.8 328.9 143.3 328.8 144.8 328.1 146.3 326.7 147.5 325.2 148.0 323.7 147.9 321.2 146.9 320.2 147.0 319.7 147.4 310.7 158.3 309.4 160.3 306.6 169.8 305.1 178.3 302.5 184.3 296.7 188.7 291.2 189.9Z" fill="none" stroke="#fff" stroke-width="0.8"/>
<path d="M290.7 189.4 289.2 189.5 281.7 188.2 276.1 185.8 275.4 185.3 273.1 181.3 273.0 180.3 274.4 173.8 277.6 167.3 283.2 161.9 290.7 156.7 300.2 152.0 307.2 149.0 313.7 146.9 318.2 145.8 319.2 144.9 320.8 141.8 321.7 140.8 322.7 140.2 324.7 139.6 325.7 139.8 326.6 140.3 327.9 141.8 328.5 143.3 328.4 144.8 327.7 146.3 326.2 147.4 324.7 147.7 323.7 147.5 321.2 146.4 319.7 146.6 319.2 147.0 316.5 150.8 309.7 159.1 308.2 161.3 305.7 170.3 304.4 177.8 301.7 184.1 296.2 188.2 290.7 189.4Z" fill="#9c9c9c" stroke="rgba(255,255,255,0.85)" stroke-width="0.45" fill-rule="evenodd"/>
<path d="M325.7 146.9 324.7 147.0 323.2 146.6 321.1 145.3 320.8 144.8 320.8 143.8 321.4 142.3 322.3 141.3 323.7 140.5 325.2 140.4 326.1 140.8 327.2 141.8 327.7 142.8 327.9 144.3 327.6 145.3 326.8 146.3 325.7 146.9ZM290.2 188.4 289.2 188.5 282.2 187.3 277.2 185.1 276.7 184.8 276.3 184.3 274.3 180.8 274.2 180.3 275.4 174.3 278.4 168.3 283.4 163.3 290.7 158.3 299.2 154.1 306.2 151.1 312.7 149.1 315.7 148.7 316.2 148.7 316.4 149.3 316.3 149.8 315.4 151.3 308.2 160.3 306.5 162.8 304.3 170.8 303.1 177.8 300.7 183.3 295.7 187.2 290.2 188.4Z" fill="#949494" stroke="rgba(255,255,255,0.85)" stroke-width="0.45" fill-rule="evenodd"/>
<path d="M325.2 146.3 324.2 146.3 323.2 145.9 322.2 145.1 321.7 144.3 321.8 143.3 322.3 142.3 323.2 141.5 324.2 141.1 325.2 141.2 326.2 141.7 326.7 142.3 327.2 143.3 327.2 144.3 326.8 145.3 326.2 145.9 325.2 146.3ZM290.2 187.4 289.2 187.5 282.7 186.4 277.9 184.3 277.4 183.8 275.7 180.8 275.5 180.3 275.5 179.8 276.5 174.8 279.2 169.1 283.7 164.6 290.7 159.8 298.2 156.1 304.7 153.3 310.2 151.6 313.7 151.1 313.9 151.3 313.9 151.8 313.2 153.3 306.7 161.4 305.1 163.8 302.9 171.3 301.8 177.8 299.6 182.8 295.2 186.3 290.2 187.4Z" fill="#888" stroke="rgba(255,255,255,0.85)" stroke-width="0.45" fill-rule="evenodd"/>
<path d="M325.2 145.4 324.0 145.3 323.3 144.8 322.9 144.3 322.8 143.3 323.1 142.8 323.7 142.2 324.7 142.0 325.2 142.2 325.7 142.5 326.2 143.2 326.3 143.8 326.2 144.5 325.7 145.1 325.2 145.4ZM289.7 186.4 289.2 186.4 283.2 185.4 279.2 183.7 278.7 183.3 276.9 180.3 276.8 179.3 277.8 174.8 280.2 169.8 284.2 165.8 290.2 161.7 297.2 158.2 303.2 155.7 308.2 154.2 311.2 153.8 311.3 154.3 311.2 154.8 310.2 156.3 304.2 163.8 303.3 165.3 301.4 171.8 300.4 177.8 298.4 182.3 294.2 185.4 289.7 186.4Z" fill="#787878" stroke="rgba(255,255,255,0.85)" stroke-width="0.45" fill-rule="evenodd"/>
<path d="M289.2 185.3 283.7 184.4 280.2 182.8 279.6 182.3 278.2 179.8 278.1 179.3 278.9 175.3 281.1 170.8 284.7 167.2 290.2 163.4 296.2 160.4 301.2 158.3 305.7 156.9 308.2 156.5 308.6 156.8 308.3 157.8 302.8 164.8 301.5 166.8 299.9 172.3 298.9 177.8 297.2 181.6 293.7 184.4 289.2 185.3Z" fill="#646464" stroke="rgba(255,255,255,0.85)" stroke-width="0.45" fill-rule="evenodd"/>
<path d="M290.2 183.8 288.7 184.0 284.7 183.3 281.2 181.8 279.7 179.3 279.7 178.8 280.4 175.3 282.1 171.8 285.2 168.7 289.7 165.6 295.2 162.8 299.2 161.2 303.2 159.9 305.2 159.6 305.5 159.8 305.2 160.8 300.1 167.3 299.5 168.3 298.1 173.3 297.2 177.8 295.9 180.8 292.7 183.3 290.2 183.8Z" fill="#585858" stroke="rgba(255,255,255,0.85)" stroke-width="0.45" fill-rule="evenodd"/>
<path d="M290.2 182.4 288.7 182.6 285.7 182.1 282.6 180.8 281.4 178.8 281.5 178.3 282.0 175.8 283.4 172.8 285.9 170.3 289.7 167.7 293.7 165.7 297.2 164.3 300.7 163.2 301.7 163.1 302.0 163.3 301.3 164.8 297.4 169.8 296.2 173.8 295.6 177.3 294.2 180.3 292.2 181.8 290.2 182.4Z" fill="#7a7a7a" stroke="rgba(255,255,255,0.85)" stroke-width="0.45" fill-rule="evenodd"/>
<path d="M290.7 180.3 288.7 180.7 286.2 180.3 284.4 179.3 283.8 178.3 283.8 177.8 284.1 176.3 285.0 174.3 286.7 172.6 289.2 170.9 294.2 168.6 297.2 167.8 297.3 168.3 294.3 172.3 293.5 174.8 293.1 177.3 292.4 178.8 292.1 179.3 290.7 180.3Z" fill="#a0a0a0" stroke="rgba(255,255,255,0.85)" stroke-width="0.45" fill-rule="evenodd"/>
<circle cx="324.8" cy="143.9" r="3.2" fill="#1a1a1a" filter="url(#bl1)"/>
<ellipse cx="327.5" cy="143.0" rx="7.2" ry="7.2" fill="none" stroke="#555" stroke-width="0.8"/>
<text x="313.4" y="133.2" font-size="12.3">0.001</text>
<text x="318.6" y="202.4" font-size="12.3">0.7</text>
<rect x="366.1" y="115.2" width="88.4" height="89.1" fill="none" stroke="#7a7a7a" stroke-width="1.1"/>
<path d="M363.9 123.7H366.1M363.9 143.5H366.1M363.9 164.0H366.1M363.9 190.0H366.1M388.1 204.3V206.5M399.3 204.3V206.5M424.4 204.3V206.5M446.1 204.3V206.5" stroke="#555" stroke-width="0.8"/>
<text x="362.1" y="125.4" font-size="4.8" text-anchor="end" fill="#555" stroke="none">10<tspan font-size="3.2" dy="-1.7">5</tspan></text>
<text x="362.1" y="145.2" font-size="4.8" text-anchor="end" fill="#555" stroke="none">10<tspan font-size="3.2" dy="-1.7">4</tspan></text>
<text x="362.1" y="165.7" font-size="4.8" text-anchor="end" fill="#555" stroke="none">10<tspan font-size="3.2" dy="-1.7">3</tspan></text>
<text x="362.1" y="191.7" font-size="4.8" text-anchor="end" fill="#555" stroke="none">0</text>
<text x="388.1" y="212.5" font-size="4.8" text-anchor="middle" fill="#555" stroke="none">0</text>
<text x="399.3" y="212.5" font-size="4.8" text-anchor="middle" fill="#555" stroke="none">10<tspan font-size="3.2" dy="-1.7">3</tspan></text>
<text x="424.4" y="212.5" font-size="4.8" text-anchor="middle" fill="#555" stroke="none">10<tspan font-size="3.2" dy="-1.7">4</tspan></text>
<text x="446.1" y="212.5" font-size="4.8" text-anchor="middle" fill="#555" stroke="none">10<tspan font-size="3.2" dy="-1.7">5</tspan></text>
<path d="M373.7 204.3 V154 H423.8 V204.3" fill="none" stroke="#777" stroke-width="0.9"/>
<ellipse cx="391.5" cy="141.5" rx="6" ry="4.2" fill="#8a8a8a" filter="url(#bl15)"/>
<path d="M381.5 133.4h0m-1.2 2.1h0m2.8 .7h0m1.6-.6h0m3.7 .1h0m.9-1.7h0m0 .6h0m.1-.2h0m2 .8h0m1.3-.1h0m.3-1.3h0m.1 .3h0m.2 1h0m.1 .5h0m0-.9h0m1-.3h0m1.6-.1h0m.5 1.2h0m1.1 .8h0m.3 .1h0m1.3-2.1h0m26.9 2h0m-45.2 3h0m.3-.4h0m.4-1.3h0m1.7 1.1h0m1.3-.6h0m.1 .5h0m1.6-.4h0m.1-.4h0m.3 .9h0m.2-1.3h0m0 .1h0m.6-.6h0m.1 2.1h0m.2-.1h0m.1 .1h0m.1 .5h0m.8-.4h0m.4-1h0m.1 .9h0m.3-2.3h0m.7 1.4h0m.1-1.1h0m.1 1.5h0m.1-2h0m.5 1.6h0m.1 1.2h0m.1-2.7h0m.2 2.4h0m.7-2.3h0m1.2 1.7h0m.6-.8h0m0 1.6h0m.1-2.5h0m0 1.7h0m.4 .3h0m.1 .1h0m0 .4h0m.1 .1h0m.5-1.5h0m.2 1.2h0m.3-1.6h0m.2 1h0m.7-1.7h0m.4 2.7h0m0 .1h0m.3-.9h0m.4-1.9h0m.7 1.2h0m1-.7h0m0 2.2h0m.7-.2h0m.6-2.2h0m.2 1h0m.4-.2h0m1.5 1.2h0m19.8 .2h0m1-.2h0m.4-.7h0m.4-.1h0m.9-1.3h0m3.4-.3h0m.6 1.3h0m.4-1h0m.8 2.6h0m.4-.4h0m-55.4 .7h0m6 .5h0m.6 .3h0m.5-1h0m.5 2.8h0m.4-.5h0m1.3-1.5h0m0 1.7h0m0-1h0m.1 .4h0m.2-1.3h0m.3-.1h0m.1-.2h0m.3 .4h0m0 .4h0m.3 .6h0m.1 0h0m.1-.7h0m.1 0h0m.3 0h0m0 1.3h0m.1-2.3h0m.1 1.3h0m.3 1.5h0m.7-1.5h0m0-1h0m.3 1.4h0m.1-.7h0m.3-.1h0m.5 1.6h0m0 0h0m.1-.6h0m0-.1h0m.2 .3h0m0-.8h0m.1 .8h0m.8-2.1h0m.3 .4h0m.3 1.9h0m.1-1.8h0m.2 2h0m.1-1.6h0m.1-.2h0m.7-.1h0m.1 .9h0m.1 .1h0m.4 .6h0m.2-1.5h0m.5 1.7h0m0-.1h0m.1 0h0m.1-.8h0m.1-1.2h0m0 1.5h0m.3-.1h0m0-.1h0m.1-1.6h0m.1 1.3h0m.5-.3h0m.2-.4h0m0 .8h0m.3-.7h0m.1 .4h0m.2 1.4h0m0-.5h0m.3-.8h0m0-.6h0m.2 .8h0m.2 .3h0m.1 .7h0m.2-1.4h0m.7 1h0m0 .6h0m.7-1.8h0m.4 1.3h0m.1 0h0m.3-1.5h0m.2 .6h0m.3 .8h0m.3-.5h0m.3-.5h0m0-.5h0m.3 1.8h0m.6-2.2h0m.5 .6h0m6.7 1.2h0m.1-1.9h0m2.1 2.4h0m2.5-.1h0m12.5-2.2h0m.4 1.1h0m1.2 0h0m.1-.1h0m.5-.5h0m.1 1h0m.3 .6h0m.3-1.3h0m.1-.3h0m1.7 .3h0m2.7 1.3h0m.1 .5h0m2.9-.3h0m-58.2 1.7h0m2.3 1.4h0m1.3 .4h0m1.5-2h0m.2-.9h0m.2 .8h0m1 0h0m0-.8h0m.3 1.5h0m0 .5h0m.1-1.5h0m.2 2h0m0-1.2h0m1.2-.5h0m.3 .8h0m0-.9h0m.2 .7h0m.3-.5h0m.1 .1h0m.1-.9h0m0 1.6h0m.1 .2h0m.2 .4h0m0-1.3h0m.7 1.7h0m.1-2h0m.2 1.2h0m.1-1h0m0 1.6h0m0-2.2h0m.3 2.6h0m.1-1.8h0m.1 .8h0m0 .2h0m.3-.5h0m0 .6h0m.3-.5h0m.4-1.3h0m0 2h0m0-1.3h0m.1-1.1h0m0 .3h0m.1 1.5h0m0-1h0m.4 1h0m.1-.6h0m.1-.3h0m.1-.5h0m.4 1.5h0m.1-.5h0m.2 .7h0m.3-1.2h0m0-.2h0m.1 1.7h0m0-.8h0m.3 .9h0m.2 .1h0m0-1.5h0m.2 1.1h0m.5-1.7h0m0 .5h0m.1-.1h0m.2-1h0m.1 2.7h0m0-1.4h0m.4 .4h0m.2-1h0m0 2h0m.1-2.6h0m0 1.1h0m0-1.1h0m.1 1.3h0m0-.4h0m.2-.6h0m.3 2.6h0m.1-3h0m.2 1.9h0m.2-.9h0m.2 1.7h0m.2-.2h0m.6-1.9h0m0-.6h0m.2 .6h0m.3-.2h0m0 1.7h0m.2 .1h0m.8 0h0m.2-2.2h0m0 .9h0m1.1 1h0m0-1.2h0m.6 .5h0m2.4-.2h0m0 1.9h0m.1-2.7h0m.1 1.3h0m2.7-.1h0m2.1 1h0m.7 0h0m.1-1.4h0m.8 .5h0m.2-.1h0m2.9 .6h0m1.8-.6h0m2.1 .7h0m3.7-1.3h0m10.3 1h0m.7 .2h0m.4 .7h0m.1-1.5h0m.2 0h0m1.1 1.8h0m2.6-.2h0m-57.6 .3h0m.3 1h0m.1 .2h0m2.6-.4h0m.9-.6h0m.7 1.1h0m1.5-1h0m.7 2h0m.8-2h0m.4 .4h0m0-.1h0m.7 .8h0m.2-.8h0m.6-.3h0m.4 .4h0m.1 1.1h0m.5-.7h0m.3 .1h0m.5 1h0m.2-2h0m.1 .6h0m.9-.4h0m.4 1.1h0m.1-1.1h0m.1 1.2h0m.2 .2h0m.1 .2h0m.3-.5h0m.3 1.3h0m.1-.2h0m.1-.7h0m.1 0h0m.6-.3h0m.6-.9h0m.2 .7h0m0-1.4h0m.1 .5h0m.2 .1h0m.3-.4h0m.4 .3h0m.4-.5h0m.2 2.8h0m.4-2.3h0m.3 1h0m1.2-.4h0m0 .8h0m.5-1.2h0m.2 1.6h0m.5-.6h0m1.3-.3h0m.4-1.3h0m.1 2.1h0m.1-.1h0m1.5-1.3h0m0 1.6h0m.1-.6h0m.2 .6h0m.1-2h0m1.8 .5h0m.2 .1h0m.6 .9h0m.5-.6h0m1.8-.1h0m.2 1h0m.1-1.8h0m.6 2.2h0m.9-1.2h0m.1-.3h0m.1 .3h0m0-.4h0m0 1.4h0m.7-1.1h0m1.1-.3h0m.6 .8h0m.4-.1h0m1.5 1.1h0m.1-.5h0m2 .4h0m3.8-1.5h0m.3-.2h0m.3 1.8h0m.6-1.6h0m10.1 0h0m.3 1.5h0m1.7-.4h0m.1-.8h0m1 1h0m2.1-1.1h0m-57.1 1.7h0m.5 1.6h0m2-1.6h0m0 .4h0m0 .7h0m2.7-1.1h0m.3 0h0m.3 2h0m3.2-.6h0m.8 .9h0m1.1-2.4h0m0 .7h0m.6 1.4h0m.3-1.1h0m.1-1.1h0m.3 1.4h0m1.6 1.1h0m.1-2.3h0m.2 1.7h0m.7 .8h0m1.2-2.7h0m.3 1.6h0m1.2-1.4h0m.2-.1h0m.5 .5h0m.1 1.8h0m.2-.9h0m.4 1.5h0m.4-2.3h0m1.3 .8h0m1 .1h0m.7 .9h0m.1-.1h0m.2-.1h0m1.1 .1h0m.1-1.7h0m.1-.2h0m.1-.3h0m0 .7h0m.3 1.3h0m.3 .4h0m.5-1h0m.5-1.5h0m.6 2.5h0m.6-1.8h0m.1 .3h0m.2-.7h0m.2 .1h0m1.2 1.2h0m.2-.5h0m.1 1.2h0m.5 .4h0m.6-1.3h0m1.4 .1h0m.5-.1h0m.4 .5h0m.4-1.3h0m.3 1.7h0m.2-.5h0m.7-.8h0m.2 .7h0m.1-.5h0m.1-1.2h0m.4 1.5h0m.4 .1h0m.6-1.1h0m11.1 1.5h0m.5-.3h0m6.1-.2h0m-50.7 4h0m.8-1.8h0m.4-.3h0m1.6 1.3h0m2.4-1.1h0m1.2-.3h0m.6 2.3h0m2 .1h0m.1-1.8h0m.3 1.9h0m1.6-1.7h0m.7-1h0m2.8 1.1h0m.5-.6h0m.2 1h0m.1-1.4h0m.2 2.6h0m.8-.5h0m.3-.6h0m.4-1.2h0m.3-.5h0m.1 2.2h0m0-1.1h0m.1-.1h0m.6-.5h0m1.3 1.4h0m.4-.2h0m1.1-1.3h0m.3 1.6h0m.1-.6h0m0-1.1h0m.9 .6h0m2 .8h0m18.6-.2h0m-41 2.4h0m1.2 .1h0m1.2 .6h0m.3-.4h0m1-.4h0m1.2-.8h0m1.5 .3h0m.5 1.8h0m.4-.6h0m.8-1.4h0m.3 .4h0m.1 1.6h0m.3-1.5h0m.9 .5h0m.4-1.2h0m.4 1.5h0m2.7 .5h0m.4-.3h0m.6-.4h0m.9-.7h0m0 .6h0m.7-.2h0m-15.7 3.4h0m5.4-.2h0m.3-.3h0m1.2 1h0m2-1.5h0" stroke="#555" stroke-width="0.6" stroke-linecap="square" fill="none"/>
<path d="M420.3 134.9h0m.4 1.2h0m5.1-.2h0m-7.1 2.7h0m.8 .8h0m1.1-2.3h0m2.1 1h0m.6 .8h0m.1-.3h0m.2 .9h0m.2-.5h0m0 .5h0m.7-1.8h0m.1 1.3h0m.1 .3h0m0 .1h0m.6-.9h0m.6 .5h0m0-.6h0m.3 .6h0m.8-1h0m.2 1.5h0m.8-1.1h0m-11.9 4h0m.6-.3h0m1-2h0m.6 .9h0m.4 1h0m.4 .3h0m.2-.9h0m.5-.1h0m.1 .4h0m.3 .5h0m.1-.9h0m0 .6h0m.1 .3h0m.1-1h0m.9-1.6h0m.3 1.2h0m.1-.7h0m.1-.3h0m.1 1.2h0m0-1h0m.1-.3h0m.2 .1h0m0-.1h0m0 .8h0m.3 .4h0m.1-1.2h0m0 .8h0m.1-.8h0m0-.1h0m.4 1.2h0m0-1.1h0m.4 1h0m.6-.2h0m0 .3h0m.1-.3h0m0-.6h0m.1 .5h0m.4 .4h0m.1-.2h0m0-1h0m.7 1.2h0m.3 .4h0m.1-1h0m.1 1h0m.1-.5h0m.3 .1h0m.2-.3h0m.4 .6h0m.1-1.1h0m.5 1h0m.1-.2h0m.2-1h0m.4 1.5h0m.6-.3h0m.1 1.4h0m0-1.6h0m0 1.4h0m.9-.5h0m0-1.2h0m.3-.7h0m1.9 .4h0m.3-.4h0m1.4 1.4h0m-20.8 3.6h0m4-.1h0m.3-1.7h0m.4 0h0m0-.2h0m.5 .9h0m.4 1.7h0m.7-.6h0m.2-2.2h0m.1 .5h0m.1-.6h0m.2 0h0m.1 1.3h0m.2-.9h0m.1-.2h0m.3 .2h0m7.1-.4h0m.3 .2h0m.2-.1h0m.1 1.3h0m.2 .2h0m0 .3h0m.1-1.8h0m.3 .3h0m0 .1h0m0-.3h0m0 1.5h0m.1 .3h0m0 .4h0m0 .2h0m.1-1.3h0m.3 .2h0m.1-.7h0m.3-.7h0m0 1.3h0m.2-1h0m.1 1.1h0m1.1-.6h0m0-.8h0m.2 1h0m-23.9 4.3h0m.6-1.8h0m.6 1.7h0m1.1-1.9h0m1.6 1.5h0m1.3 .9h0m1.2-1.4h0m1.2 1.4h0m.2-.4h0m.3-.1h0m1.5-.2h0m.2-2h0m.5 1.4h0m0 .6h0m1-.1h0m.3 .9h0m.2-2h0m.3 .5h0m0 1.3h0m.2-.1h0m0-1h0m.4 .7h0m7.5-.3h0m.4-.2h0m.4 0h0m.3-.2h0m.5 1h0m.1-.1h0m1.4-2.4h0m-27.7 5.2h0m.2 0h0m0 .7h0m.1-1.4h0m.7-.3h0m1.4 .5h0m.3 .3h0m.4-.5h0m.4 .8h0m.5 0h0m.2-1.2h0m.2 1.7h0m.6-1.7h0m0 1.3h0m0 0h0m.1-.1h0m0-1h0m.2-.3h0m0 .8h0m.6 .9h0m.3-1.8h0m.4 1.1h0m0-.9h0m.1 1.1h0m.1 .7h0m.3 0h0m.2-1.6h0m.4 1.3h0m.3-.6h0m.2-.7h0m.2 .2h0m.3-.2h0m0 .9h0m0-.7h0m.3 .3h0m.1-.9h0m.2 .4h0m.3-.1h0m.2-1.3h0m.5 1.2h0m.4-.9h0m.2 1.4h0m0-1.4h0m.2 1.3h0m.1-.3h0m.2-.7h0m0 .5h0m.1 .1h0m.2 .3h0m.2-.4h0m.1 .7h0m.8-1.4h0m.1 0h0m.5-.4h0m.5 1.1h0m.1 .1h0m.3-.6h0m0 .7h0m.4-.8h0m.2-.1h0m0 .2h0m0 .1h0m.3 .1h0m.1-.5h0m.2-.3h0m.1 .1h0m.4 0h0m.3 .2h0m.1 .3h0m.3-.2h0m2.9 1.5h0m0 .4h0m.3 .3h0m0-.4h0m.2-.2h0m.1 .6h0m0-.2h0m0-.9h0m.1 .6h0m.8 .9h0m.3-.7h0m0-.8h0m.1-.1h0m.2 1.5h0m0-1.7h0m0 1.2h0m.3 0h0m.4-1.3h0m.1 .8h0m.3-1.5h0m.4 .2h0m0 .2h0m.1 2.1h0m.2-1.3h0m.5-1.6h0m.3 .4h0m.3 2.4h0m.5-.3h0m.1-.4h0m.4-1.9h0m.4 .6h0m.3 .3h0m.2-.3h0m.3-.2h0m.2-.3h0m.1 1h0m.9-.5h0m2.3-.2h0m-43.4 3.7h0m2.4 .2h0m2.1-1.1h0m.4 2.4h0m2-.4h0m.6 .4h0m.2-1.1h0m.8 .7h0m.1 .5h0m.1-.7h0m.6-.3h0m.3 0h0m.2-.9h0m.5 1.1h0m.2-.7h0m.1 .8h0m0 .2h0m.1-.4h0m0-1.6h0m.3 2.5h0m0-1.9h0m.1 1h0m.1 .4h0m0 0h0m0 .2h0m.2-1.4h0m.4 0h0m0-.5h0m0 2.1h0m.1-1.1h0m.6-.3h0m.2 1.4h0m.1 0h0m.1-.4h0m.1-1.1h0m0-1.2h0m.1 2.4h0m.2-.4h0m0 .1h0m0-1.6h0m0 0h0m.2 1.7h0m.8-.9h0m0 .6h0m.4-.6h0m.2-.4h0m.5 .2h0m.5 .6h0m.3-1.1h0m.2 .4h0m.1 .2h0m.1-.6h0m.2 .2h0m.2-.8h0m.1 .4h0m.2-.2h0m.6-.2h0m.6 .7h0m.6-.6h0m.1 .7h0m0-.5h0m1.3-.3h0m11.5 2.8h0m.2-.5h0m.3 .5h0m0-2h0m.1 1.5h0m.1 .1h0m.2-1.9h0m.1 .1h0m.4 1.6h0m0-.8h0m.4 .4h0m.2 .6h0m.1 .4h0m.3-1.6h0m.1 .2h0m.2 .7h0m.4-.4h0m.4-1.1h0m4 1.8h0m-47.1 2.9h0m6.3-2.3h0m.6 1.8h0m.6 .9h0m.3-1.4h0m.5-.7h0m.1 1.6h0m.7 .4h0m.3-2.4h0m.1 1.6h0m.3 1h0m.3-1h0m0 .3h0m0 .1h0m.5-1.4h0m.4-.4h0m.1 1h0m.2-1.2h0m.2 .9h0m.1 1.4h0m.2-2.4h0m0 1.7h0m.1 0h0m0-.1h0m0 .8h0m.1-1.1h0m.1 .4h0m.3-1.4h0m.5 1h0m.1-.5h0m.4 .5h0m0-.4h0m.1-.1h0m0 .8h0m.1-1h0m0 .3h0m.1 0h0m0-.5h0m.1 1.6h0m0 0h0m.2-.7h0m0-.7h0m.2-.3h0m.9 1.4h0m0-1.8h0m.1 .5h0m.6 .7h0m.1-.7h0m.3 .6h0m.8-.4h0m0-.2h0m.8-.1h0m.2-.5h0m.4 0h0m20.8 2.1h0m.2-1.9h0m.1 .7h0m.1 .4h0m.2-1h0m.1 1.8h0m.3-.6h0m.1-1.2h0m.1 1.5h0m.3 1.1h0m0-.2h0m.1-1.9h0m.7 1.3h0m.5-1.5h0m0-.6h0m.5 .6h0m.2 1.4h0m-40.8 1.6h0m.1 1h0m.8 1.1h0m.8-.3h0m.9-1.4h0m.3-.6h0m.1 2.5h0m.1-.7h0m0-1.3h0m.6 .6h0m.4 .7h0m1.1 .2h0m.1-.6h0m.4-.7h0m.1-.6h0m.5 .6h0m0-.9h0m0 1.6h0m.2-.9h0m.7 .3h0m.2-.6h0m.3-.4h0m.4 .4h0m28.4 .6h0m0 .5h0m.2-.6h0m0 .7h0m0 .8h0m0-1.2h0m.1-.2h0m0 1.4h0m.2-2.2h0m.1 2.2h0m0-1.6h0m.1-.5h0m.1 .9h0m.1-.2h0m.2 .6h0m.4 .7h0m.1-.7h0m.1 .2h0m.6 .4h0m.2 .3h0m.1-1.8h0m.9 1.5h0m1-1.6h0m1.7 .7h0m-48.3 4.1h0m3.4 .1h0m0-.5h0m.1-.4h0m.2-1.7h0m.4 1.3h0m.1 .6h0m.5-1.3h0m0 1.9h0m0-.4h0m.3-.4h0m.2 .3h0m.1 .6h0m0-.3h0m.1 .2h0m.4-.6h0m.1 .5h0m.2-1.1h0m.2 0h0m.1 .4h0m.1-.3h0m.1-.9h0m.1 .6h0m.6 .1h0m.1-1.2h0m.2 .6h0m.1 .7h0m.1 0h0m.1-.8h0m0 .1h0m.2-.7h0m.1 .7h0m.2 .2h0m.3-.3h0m.1 .3h0m.5-.8h0m32.2 2.6h0m.4-.7h0m.2 .1h0m.2-2h0m.1 .2h0m0 2.5h0m.1-.5h0m.1-1.4h0m.4 .1h0m.2 1.5h0m.2-2.4h0m.2-.1h0m1.3 .8h0m.2 1.5h0m1.3-1.4h0m-49.2 3.8h0m3.8 .4h0m.2-.4h0m.3 1.1h0m.7-.1h0m.1-1h0m.2-1.5h0m.7-.1h0m.1 2.4h0m.3-2.4h0m0 1.3h0m.1 .1h0m.2-.8h0m.1-.1h0m.2 .7h0m36.1 .8h0m0 0h0m.1 .5h0m.1-.6h0m.2-.6h0m.1-.4h0m.4 0h0m.2 .7h0m.3 .9h0m.1-1.7h0m.1 1.1h0m.2 .7h0m.4-.4h0m.2-1.6h0m.2 1.7h0m2-1.9h0m-49.1 3.6h0m0-.7h0m.8 .9h0m.1 .9h0m.9-.4h0m1.4-.1h0m.7 1.1h0m.2 0h0m.3-.6h0m.1-.2h0m.2-.2h0m0 .9h0m.4 .1h0m.1-1h0m0-1.8h0m0 .5h0m.1 1.6h0m.4-.3h0m0 .1h0m.1-1.7h0m.4 .9h0m.1-.4h0m0-.4h0m.2 .2h0m37.2 2.5h0m0-1.2h0m.5-1.2h0m.1 2.1h0m.1 0h0m.1-1.4h0m.5 1.4h0m.1-.2h0m.9-.3h0m.8-1.2h0m.6 .2h0m2.3-.2h0m-49.8 2.8h0m.6 .7h0m.4 .1h0m.2-.1h0m0 1.1h0m.4 .3h0m1-.4h0m.2-1.5h0m.1 .2h0m.3 1.7h0m.3-1.2h0m.1 .6h0m.1 .6h0m0-1.5h0m0-.6h0m.1 1.4h0m.1-.3h0m0 .6h0m.1-.6h0m0 .2h0m.1-.8h0m.2 .2h0m.1-.4h0m.4 .7h0m0-1h0m.3-.5h0m37.8 1.8h0m0-.8h0m.2-.3h0m.2 .5h0m.1-1.1h0m.3 .9h0m.1 .3h0m.2-.5h0m0 1h0m0-1.4h0m.1 .1h0m1.3-.6h0m1-.1h0m-49.3 4.4h0m3.1 .9h0m2-.1h0m0 .1h0m.1 .6h0m.1-1.1h0m0 1h0m0-1.3h0m0 1.2h0m.1-2.7h0m.3 0h0m.3 1.1h0m.2 .1h0m38 1.5h0m.1 .2h0m.4-2h0m.3 .1h0m.1 .7h0m.1-1.6h0m.1 .2h0m.1 .1h0m.2 1.6h0m.1 .8h0m.2-1.9h0m.4-1h0m.1 2.4h0m0-2.1h0m.1-.1h0m.4-.1h0m.1 .7h0m.4 1h0m.1 .5h0m.6-1.1h0m.9 1.7h0m-48.2 1.6h0m1 .9h0m1.9-1.5h0m.5 .8h0m.6 1.2h0m.1-1.6h0m.1 1.4h0m0-1.2h0m0 .7h0m.2-.4h0m0-1.7h0m.4 .7h0m37.9 1.7h0m.4 .2h0m.1-1h0m.2-.2h0m0 .8h0m0-.8h0m0 .8h0m.4-.6h0m0 .8h0m.4-1.1h0m.4 .6h0m.5-1.8h0m.7 .3h0m.5 2.3h0m1.5-2.4h0m-49.1 4.9h0m.5-1.7h0m1.4 .6h0m1.5-.7h0m.4 .2h0m.1 2h0m0-.2h0m.3-2.1h0m.1 2h0m0-.5h0m0-1.1h0m.4 .3h0m.2 .4h0m0-.2h0m.2 1.6h0m0 .1h0m.1-2.7h0m.1 2.3h0m.1-.7h0m0-.4h0m.1-1.2h0m37.8 1.9h0m.4-.9h0m.4-1h0m0-.1h0m.3 .1h0m.1 2.6h0m.4-.5h0m.1 .4h0m.3 .1h0m.8-1.5h0m.7 .3h0m.9-1.4h0m.3 .1h0m-45.6 4.2h0m.1-.8h0m.7-.6h0m.3 1.6h0m.1 .1h0m.3 .3h0m.3-1.4h0m.1-.2h0m.3 .8h0m.1 .7h0m.2 .4h0m0 .4h0m.1-.5h0m.2-.4h0m0 .8h0m.1-1.4h0m.2-.6h0m0-.1h0m.1 1.4h0m.1-.6h0m.3 .7h0m.3 .7h0m35.9-.5h0m.1-.2h0m.3-.7h0m0 .8h0m.1-.1h0m.3-2.1h0m.1 .8h0m0-.1h0m.3 1.6h0m.3-1.3h0m0 .3h0m0-1.2h0m.2 1h0m.1-1h0m.4 1.1h0m.1 1h0m.4-1.3h0m1.1 .3h0m.1-.5h0m.6 1.4h0m.4 .2h0m.7-2.2h0m1 .7h0m-48.4 2.3h0m1 .3h0m3.9 2.5h0m.2-2.3h0m.3 1h0m.2-1h0m.8-.6h0m.2 1.3h0m0-1h0m.4 2.1h0m0 .3h0m0-.3h0m.3-1.4h0m.3 1h0m.2 .8h0m32.1 .1h0m0-1h0m0 .1h0m0 .4h0m.3 .1h0m0-.6h0m.3-.3h0m0 .6h0m0 .5h0m0-.9h0m.3 .1h0m0-.2h0m.1-.8h0m0 1h0m.2-.5h0m0 .5h0m.1-.6h0m.9-.8h0m.3 .5h0m.4-.8h0m0 .3h0m.4 .5h0m.3-.2h0m1.3 .3h0m1.7-1.2h0m-41.9 3.8h0m0-.6h0m.3 0h0m1.5 .6h0m.8-.3h0m0 1h0m.1 1.4h0m.1-2.5h0m.3 1.3h0m.2 .6h0m.1-2.2h0m.8 .2h0m0 .2h0m.1 1.4h0m.1-1.1h0m0 .2h0m.4 .4h0m.2 0h0m.3-.1h0m.1-.2h0m.5 .3h0m.8 1.3h0m.3-.1h0m.3-.1h0m1.4-.1h0m.3 .4h0m22.4 .1h0m.1-.3h0m0 .2h0m.1 .1h0m0-.4h0m.1 .2h0m.4 .2h0m.2-.7h0m.1 .5h0m.4-1h0m.1 .6h0m1-1.3h0m0 .1h0m.3 1.2h0m.1-.1h0m.1-.8h0m.3 .8h0m.1 .3h0m.2-2.2h0m.2 1.2h0m.3 .1h0m.2-.6h0m.7 .7h0m.1 .6h0m.2 .6h0m.1-2.8h0m.1 1.3h0m1.5-.7h0m2.5 .7h0m-38.8 2.5h0m2.2 1.5h0m2.4-2.2h0m.4 1.2h0m.1-.4h0m0 .2h0m.1-.9h0m.5-.2h0m.2 0h0m.1 .9h0m.1-.4h0m.2 .3h0m.5-.1h0m.1 1.5h0m0-1.1h0m.2-.6h0m.1 .3h0m0-.5h0m.3 2h0m.1-2h0m.4 .3h0m.2 1.8h0m.2-1.6h0m.1-.2h0m.8 1.3h0m.1-.4h0m0-.7h0m.2 1.7h0m0-.8h0m.1 .5h0m0-1.2h0m.2 .7h0m.1-.7h0m.6 1.1h0m.1-.6h0m.8 1.2h0m.1 .2h0m.4-.6h0m.2 .3h0m.7-.8h0m.1 .8h0m0-1.1h0m.5-.2h0m.2 .4h0m.3 .5h0m.2-.7h0m.3-.2h0m.3 .3h0m.2 .7h0m.5 .4h0m.2-1.3h0m.7 .4h0m.1-.3h0m.1-.1h0m.3 1.3h0m0-.9h0m1-.1h0m.7 .6h0m.8 .6h0m1.2-.1h0m.3-.5h0m.2 .2h0m.5-.4h0m.3 .6h0m.1-1.3h0m.1 .8h0m.4-.7h0m.1 1.2h0m.1 0h0m0-.9h0m.4-.1h0m.4 .4h0m.3 .2h0m.4-.4h0m0-1h0m.2 1.1h0m0-.3h0m.4-.7h0m0 .4h0m.2 .2h0m.3 .7h0m.3-.9h0m.1-.7h0m.4 1.5h0m0-1.7h0m.4 0h0m0 1h0m.1-.8h0m.6 1.5h0m.2-1.6h0m.1-.6h0m.4 1.2h0m0 .1h0m.3-.5h0m.9 .1h0m0-.2h0m.1 .6h0m.1 1.1h0m.1-.9h0m.2 1.3h0m.1-.3h0m.5-2h0m.1-.1h0m.1-.3h0m.3 .2h0m.1 1.4h0m0-1.8h0m.1 .9h0m0-.2h0m.5-.6h0m.6 1.5h0m.1 1.1h0m.8-.6h0m-25.2 2.2h0m.7-1.2h0m0 .5h0m1 0h0m1.8 .4h0m.2 .2h0m.9 .7h0m2-.2h0m.2-1h0m.4-.4h0m.2-.1h0m.3 0h0m.7 1h0m1.3-.2h0m.1 1.1h0m.5-1.1h0m0-.5h0m.5-.2h0m2 .2h0m.1 1.9h0m.2-1h0m.2 .7h0m.4-1.2h0m.1 .1h0m2.6-.4h0m0 1.7h0m.4-1.3h0m1.2 .8h0m.3 .6h0m-18.4 .8h0m10.8-.2h0m3.9 .4h0m.7 .4h0" stroke="#2a2a2a" stroke-width="0.7" stroke-linecap="square" fill="none"/>
<path d="M398.2 191.4 388.2 190.7 381.7 187.5 380.6 186.8 377.3 182.3 377.0 181.3 377.0 176.8 379.9 169.8 385.2 162.9 393.7 157.9 402.7 154.5 411.7 151.5 420.2 149.1 420.6 148.8 420.8 148.3 420.1 145.3 420.3 143.8 420.7 142.8 421.7 141.8 423.2 141.1 424.2 141.1 425.7 141.6 426.6 142.3 427.2 143.3 427.4 144.3 427.2 145.8 426.7 146.8 425.7 147.9 424.7 148.5 422.4 149.3 422.0 149.8 419.9 158.8 412.2 183.8 411.7 184.5 407.4 188.8 406.7 189.3 398.2 191.4Z" fill="#a4a4a4" stroke="#2a2a2a" stroke-width="4.0" stroke-linejoin="round" paint-order="stroke" fill-rule="evenodd"/>
<path d="M423.7 148.4 422.7 148.5 421.7 148.2 420.6 146.3 420.3 144.8 420.7 143.3 421.7 142.0 422.7 141.5 424.2 141.3 425.2 141.6 426.3 142.3 427.0 143.3 427.2 144.8 427.0 145.8 426.2 147.1 425.2 147.9 423.7 148.4ZM398.2 190.9 388.2 190.2 381.7 186.9 381.0 186.3 378.1 182.3 377.7 181.3 377.8 176.8 380.7 169.8 385.7 163.4 393.7 158.6 402.2 155.5 412.2 152.1 419.2 150.3 420.3 150.3 420.8 150.8 420.8 152.3 419.4 158.3 416.5 168.3 411.5 183.8 406.7 188.7 398.2 190.9Z" fill="none" stroke="#fff" stroke-width="0.8"/>
<path d="M424.2 147.9 423.2 148.1 422.2 147.8 421.3 146.8 420.7 145.3 420.8 143.8 421.3 142.8 422.2 142.0 423.7 141.6 424.7 141.7 425.8 142.3 426.6 143.3 426.9 144.3 426.8 145.3 426.2 146.6 425.2 147.5 424.2 147.9ZM399.7 189.9 397.7 190.3 388.7 189.6 382.1 186.3 379.1 182.3 378.6 181.3 378.7 176.8 381.4 170.3 386.2 164.1 393.7 159.6 402.2 156.5 411.2 153.4 418.2 151.6 419.2 151.6 419.7 152.3 419.7 153.3 418.3 159.3 415.5 168.8 411.0 183.3 410.6 183.8 406.2 188.2 399.7 189.9Z" fill="#9c9c9c" stroke="rgba(255,255,255,0.85)" stroke-width="0.45" fill-rule="evenodd"/>
<path d="M424.2 147.3 423.2 147.4 422.2 146.9 421.4 145.8 421.2 144.8 421.4 143.8 422.0 142.8 422.7 142.3 423.7 142.1 424.7 142.2 425.6 142.8 426.0 143.3 426.4 144.3 426.3 145.3 425.8 146.3 425.2 146.9 424.2 147.3ZM399.7 188.9 397.7 189.3 389.7 188.8 383.2 185.5 380.5 181.8 380.1 180.8 380.2 176.8 382.5 171.3 387.1 165.3 394.2 161.1 409.7 155.6 416.2 153.9 417.2 153.8 417.7 154.3 417.8 155.3 416.5 160.8 409.8 182.8 409.5 183.3 405.5 187.3 399.7 188.9Z" fill="#949494" stroke="rgba(255,255,255,0.85)" stroke-width="0.45" fill-rule="evenodd"/>
<path d="M423.7 146.8 423.2 146.7 422.4 146.3 422.0 145.8 421.7 144.8 421.9 143.8 422.3 143.3 422.9 142.8 423.7 142.6 424.7 142.8 425.4 143.3 425.7 143.8 425.9 144.8 425.7 145.5 425.2 146.2 424.7 146.6 423.7 146.8ZM397.7 188.3 390.2 187.8 384.3 184.8 381.7 181.3 381.6 180.8 381.6 177.3 383.8 171.8 387.7 166.6 394.2 162.7 401.2 160.0 408.7 157.5 414.7 156.0 415.7 156.0 416.0 156.8 415.9 157.8 414.7 162.8 412.5 170.3 408.5 182.8 404.7 186.6 397.7 188.3Z" fill="#888" stroke="rgba(255,255,255,0.85)" stroke-width="0.45" fill-rule="evenodd"/>
<path d="M424.2 146.0 423.7 146.1 423.0 145.8 422.6 145.3 422.4 144.8 422.7 143.8 423.7 143.3 424.7 143.6 425.1 144.3 425.0 145.3 424.2 146.0ZM399.7 186.8 397.7 187.3 390.7 186.8 385.7 184.2 383.5 181.3 383.1 180.3 383.2 177.3 385.2 172.3 388.7 167.7 394.7 164.1 407.7 159.6 412.7 158.3 413.7 158.3 414.0 158.8 413.9 159.8 412.9 164.3 407.3 182.3 403.7 185.8 399.7 186.8Z" fill="#787878" stroke="rgba(255,255,255,0.85)" stroke-width="0.45" fill-rule="evenodd"/>
<path d="M399.2 185.8 397.7 186.2 391.7 185.8 387.5 183.8 386.8 183.3 384.8 180.3 384.8 177.3 386.4 173.3 389.7 168.9 394.7 165.9 406.2 161.8 410.7 160.7 411.7 160.6 412.0 161.3 411.9 161.8 411.0 165.8 406.1 181.8 403.1 184.8 399.2 185.8Z" fill="#646464" stroke="rgba(255,255,255,0.85)" stroke-width="0.45" fill-rule="evenodd"/>
<path d="M398.2 184.8 397.2 185.0 392.2 184.6 388.6 182.8 386.7 180.3 386.6 179.8 386.7 177.3 388.1 173.8 390.7 170.4 395.2 167.7 404.7 164.3 408.7 163.3 409.4 163.3 409.7 163.8 409.6 164.3 408.8 167.8 404.6 181.3 402.1 183.8 398.2 184.8Z" fill="#585858" stroke="rgba(255,255,255,0.85)" stroke-width="0.45" fill-rule="evenodd"/>
<path d="M398.7 183.3 397.2 183.6 393.2 183.4 390.1 181.8 388.7 179.8 388.6 179.3 388.6 177.8 389.8 174.8 392.1 171.8 395.7 169.7 403.2 167.1 406.2 166.3 406.9 166.3 407.1 166.8 407.0 167.3 406.4 169.8 403.2 180.3 401.2 182.6 398.7 183.3Z" fill="#7a7a7a" stroke="rgba(255,255,255,0.85)" stroke-width="0.45" fill-rule="evenodd"/>
<path d="M398.7 181.4 397.2 181.8 394.7 181.6 392.7 180.7 391.5 179.3 391.4 177.8 391.7 177.1 392.2 175.8 393.4 174.3 395.7 172.8 400.7 171.0 403.2 170.3 403.6 170.8 403.3 172.3 400.9 179.8 399.7 181.1 398.7 181.4Z" fill="#a0a0a0" stroke="rgba(255,255,255,0.85)" stroke-width="0.45" fill-rule="evenodd"/>
<ellipse cx="432.6" cy="142.6" rx="8.0" ry="8.0" fill="none" stroke="#555" stroke-width="0.8"/>
<text x="415.5" y="133.2" font-size="12.3">2.2E-4</text>
<text x="427.3" y="202.4" font-size="12.3">0.5</text>
<rect x="46.5" y="238.8" width="87.9" height="88.4" fill="none" stroke="#7a7a7a" stroke-width="1.1"/>
<path d="M44.3 247.4H46.5M44.3 266.2H46.5M44.3 291.0H46.5M44.3 308.2H46.5M63.8 327.2V329.4M81.1 327.2V329.4M106.7 327.2V329.4M126.8 327.2V329.4" stroke="#555" stroke-width="0.8"/>
<text x="42.5" y="249.1" font-size="4.8" text-anchor="end" fill="#555" stroke="none">10<tspan font-size="3.2" dy="-1.7">5</tspan></text>
<text x="42.5" y="267.9" font-size="4.8" text-anchor="end" fill="#555" stroke="none">10<tspan font-size="3.2" dy="-1.7">4</tspan></text>
<text x="42.5" y="292.7" font-size="4.8" text-anchor="end" fill="#555" stroke="none">10<tspan font-size="3.2" dy="-1.7">3</tspan></text>
<text x="42.5" y="309.9" font-size="4.8" text-anchor="end" fill="#555" stroke="none">0</text>
<text x="63.8" y="335.4" font-size="4.8" text-anchor="middle" fill="#555" stroke="none">0</text>
<text x="81.1" y="335.4" font-size="4.8" text-anchor="middle" fill="#555" stroke="none">10<tspan font-size="3.2" dy="-1.7">3</tspan></text>
<text x="106.7" y="335.4" font-size="4.8" text-anchor="middle" fill="#555" stroke="none">10<tspan font-size="3.2" dy="-1.7">4</tspan></text>
<text x="126.8" y="335.4" font-size="4.8" text-anchor="middle" fill="#555" stroke="none">10<tspan font-size="3.2" dy="-1.7">5</tspan></text>
<path d="M95.1 322.0 94.1 322.2 93.1 321.9 92.1 321.3 91.2 320.4 89.8 317.9 88.5 313.9 87.8 309.9 87.4 304.9 87.9 292.4 87.6 290.4 87.1 289.1 86.6 288.3 85.6 287.6 82.1 286.9 80.1 285.9 78.7 284.4 77.1 281.8 75.7 280.9 74.2 280.4 66.6 279.0 65.6 279.1 65.1 279.3 64.8 279.9 64.9 280.9 65.7 284.4 66.6 286.7 67.6 287.8 70.6 289.5 72.7 291.4 74.5 293.9 75.8 296.9 76.5 300.4 76.5 304.4 75.8 307.9 74.6 310.9 73.1 313.2 71.1 315.1 68.6 316.5 66.1 316.9 63.6 316.6 61.6 315.6 59.5 313.9 57.7 311.4 56.5 308.9 55.8 306.4 55.4 303.9 55.5 300.9 56.2 296.9 58.5 290.9 58.7 289.4 58.5 285.4 58.7 283.4 59.3 281.4 60.5 278.9 60.7 277.9 60.3 276.9 57.6 273.4 57.3 272.4 57.2 271.4 57.3 270.4 58.2 268.9 59.7 267.4 61.6 266.1 64.1 264.8 67.1 263.7 76.1 261.0 77.6 260.7 89.6 259.1 98.1 258.3 102.1 259.4 103.0 262.9 101.6 268.1 101.1 271.1 101.0 273.4 101.2 275.4 102.9 280.9 103.2 283.9 103.0 299.9 102.5 305.4 101.4 311.4 99.8 316.4 98.8 318.4 97.6 320.2 96.6 321.2 95.1 322.0Z" fill="#fff" stroke="#111" stroke-width="0.4" fill-rule="evenodd"/>
<path d="M95.1 320.4 94.1 320.6 93.1 320.3 91.6 319.0 90.8 317.9 89.9 315.9 88.9 312.4 88.3 308.4 88.0 303.9 88.6 292.1 88.2 289.4 87.6 287.9 87.1 287.1 86.1 286.4 82.6 285.6 81.2 284.9 80.2 283.9 78.8 281.4 77.5 280.4 75.6 279.7 65.1 277.1 63.6 276.6 61.9 275.4 60.9 274.4 60.0 272.9 59.7 271.9 59.7 270.9 60.3 269.4 61.2 268.4 63.9 266.4 68.6 264.3 78.6 261.1 89.6 259.6 98.1 258.6 101.6 259.6 101.9 259.9 102.6 262.9 102.5 263.4 101.6 266.4 100.6 270.7 100.2 274.4 100.5 276.4 101.9 280.4 102.5 283.9 102.4 299.4 102.0 304.9 100.9 310.9 99.4 315.4 98.3 317.4 97.2 318.9 96.1 320.0 95.1 320.4ZM67.6 315.0 65.6 315.2 64.1 315.0 62.6 314.4 61.1 313.3 59.6 311.7 58.5 309.9 57.6 307.9 57.0 305.4 56.7 301.9 57.1 298.9 57.9 296.4 59.6 292.4 60.0 290.9 60.0 289.4 59.6 285.9 59.8 283.9 60.6 282.0 61.1 281.4 62.1 281.0 63.1 281.4 63.8 282.4 64.4 283.9 65.1 287.0 65.8 288.4 66.9 289.4 70.6 291.6 72.7 293.9 74.3 296.9 75.0 299.9 75.2 302.4 75.1 304.9 74.5 307.4 73.7 309.4 72.6 311.4 71.1 313.0 69.6 314.2 67.6 315.0Z" fill="#f8f8f8" stroke="#111" stroke-width="0.4" fill-rule="evenodd"/>
<path d="M94.6 319.0 93.1 318.6 91.6 317.1 90.4 314.9 89.4 311.4 88.8 307.4 88.6 303.4 89.3 291.4 88.7 287.9 87.6 285.5 87.1 284.9 86.1 284.3 84.1 283.9 83.0 283.4 81.3 281.4 79.4 279.9 76.6 278.9 69.6 277.2 65.2 275.4 63.8 274.4 62.9 273.4 62.4 272.4 62.2 271.4 62.4 270.4 63.3 268.9 64.3 267.9 65.8 266.9 69.1 265.3 76.1 262.9 78.6 261.6 89.6 260.0 98.1 259.0 101.1 259.9 101.6 260.4 102.1 262.9 102.2 263.4 100.1 270.8 99.4 274.9 99.6 276.6 101.3 281.4 101.7 283.9 101.7 301.4 100.9 307.9 100.3 310.4 99.4 313.4 98.2 315.9 97.1 317.4 95.6 318.7 94.6 319.0ZM62.1 286.5 62.0 285.9 62.1 285.3 62.3 285.9 62.1 286.5ZM67.6 312.6 66.1 312.9 64.6 312.7 63.1 312.1 62.1 311.4 61.1 310.3 60.2 308.9 59.5 307.4 58.9 305.4 58.7 303.4 58.7 301.4 59.4 297.9 60.5 295.4 62.1 292.7 63.1 291.5 63.6 291.3 67.1 292.4 68.6 293.1 69.7 293.9 70.6 294.9 71.7 296.4 72.3 297.9 72.9 299.9 73.1 301.9 73.1 303.9 72.7 305.9 72.1 307.8 71.3 309.4 70.1 310.9 68.9 311.9 67.6 312.6Z" fill="#f0f0f0" stroke="#111" stroke-width="0.4" fill-rule="evenodd"/>
<path d="M95.6 317.0 94.6 317.3 93.6 317.1 92.1 315.9 90.8 313.4 89.9 310.4 89.4 306.9 89.2 302.9 89.4 299.4 90.0 292.9 90.0 290.4 89.6 287.8 88.6 283.6 88.1 281.9 87.8 281.4 87.2 280.9 86.1 280.5 82.1 279.6 78.7 278.4 72.1 276.7 69.1 275.6 67.6 274.9 66.1 273.8 65.1 272.4 64.8 271.4 65.0 270.4 65.5 269.4 66.4 268.4 67.8 267.4 71.1 265.8 77.1 263.5 79.7 261.9 97.6 259.4 101.1 260.4 101.8 263.4 99.6 270.9 98.7 275.4 98.9 277.4 100.2 280.9 100.8 283.9 101.2 300.4 100.9 303.9 100.5 306.9 99.3 311.4 97.6 315.0 96.6 316.2 95.6 317.0ZM65.6 308.9 64.1 308.4 63.1 307.4 62.1 305.4 61.8 302.9 62.1 300.4 63.0 298.4 64.1 297.3 65.6 296.8 67.1 297.3 68.1 298.4 69.0 300.4 69.4 302.9 69.0 305.4 68.1 307.4 67.1 308.4 65.6 308.9Z" fill="#e8e8e8" stroke="#111" stroke-width="0.4" fill-rule="evenodd"/>
<path d="M95.1 315.5 94.1 315.5 93.6 315.3 92.2 313.9 91.0 311.4 90.3 308.4 89.9 304.9 89.9 301.4 90.7 292.9 90.8 290.4 89.9 281.9 89.6 280.8 88.7 279.9 87.6 279.4 82.6 278.5 74.6 276.3 71.6 275.2 70.0 274.4 68.6 273.3 67.7 271.9 67.6 270.9 68.3 269.4 70.0 267.9 72.1 266.7 77.7 264.4 79.1 263.5 80.6 262.2 90.6 260.6 97.6 259.7 100.6 260.6 100.8 260.9 101.4 263.4 98.6 272.8 98.0 276.4 98.1 278.0 99.5 281.9 100.0 284.4 100.5 297.4 100.5 300.9 100.0 305.9 98.8 310.4 98.0 312.4 97.1 313.9 96.1 314.9 95.1 315.5Z" fill="#dedede" stroke="#111" stroke-width="0.4" fill-rule="evenodd"/>
<path d="M95.6 313.6 94.6 313.8 94.1 313.8 93.1 313.1 92.6 312.5 91.4 309.9 90.8 306.9 90.5 303.9 90.5 300.9 91.7 290.4 91.3 284.9 91.4 281.4 91.2 280.4 90.2 279.4 88.6 278.6 83.1 277.6 76.1 275.5 73.6 274.5 72.4 273.9 71.1 272.9 70.5 271.9 70.3 270.9 71.0 269.4 72.1 268.4 73.7 267.4 78.8 264.9 80.1 263.9 81.5 262.4 90.6 261.0 97.6 260.1 100.3 260.9 101.0 263.4 98.1 273.0 97.4 277.9 97.5 279.4 98.7 282.9 99.1 284.9 99.3 290.4 99.9 296.9 99.9 300.4 99.5 304.9 98.5 308.9 97.1 312.0 95.6 313.6Z" fill="#d0d0d0" stroke="#111" stroke-width="0.4" fill-rule="evenodd"/>
<path d="M94.6 278.6 93.6 278.8 92.6 278.6 88.1 277.5 84.1 276.9 77.6 274.6 75.3 273.4 74.1 272.4 73.6 271.4 73.6 270.4 74.7 268.9 80.1 265.3 82.6 262.6 97.1 260.4 99.6 261.1 100.1 261.4 100.6 263.9 98.0 271.9 97.1 276.3 96.6 277.2 94.6 278.6ZM95.6 311.5 94.6 311.8 94.1 311.7 93.2 310.9 92.6 310.0 91.6 306.9 91.2 302.9 91.5 298.4 92.8 290.4 92.9 283.9 93.6 281.7 94.1 281.1 94.6 280.7 95.1 280.7 96.1 281.3 96.6 281.9 97.1 282.9 97.6 284.4 98.2 290.4 99.0 295.9 99.2 298.9 99.0 302.9 98.2 306.9 97.1 309.8 96.3 310.9 95.6 311.5Z" fill="#bebebe" stroke="#111" stroke-width="0.4" fill-rule="evenodd"/>
<path d="M94.1 277.0 92.6 277.3 91.1 277.4 84.6 276.1 78.5 273.4 76.9 271.9 76.7 271.4 76.6 270.4 77.6 268.9 81.6 265.2 83.2 262.9 84.6 262.5 97.1 260.7 99.5 261.4 99.8 261.9 100.3 263.9 97.7 271.9 96.9 275.4 96.6 276.0 94.1 277.0ZM95.6 309.5 94.6 309.7 94.1 309.5 93.1 308.3 92.3 305.4 92.0 301.9 92.3 298.4 92.9 295.4 95.1 288.0 95.6 287.7 96.6 290.2 97.7 293.9 98.2 296.9 98.4 299.9 98.2 302.9 97.6 305.9 96.6 308.3 95.6 309.5Z" fill="#a8a8a8" stroke="#111" stroke-width="0.4" fill-rule="evenodd"/>
<path d="M92.1 276.4 91.1 276.5 85.6 275.5 81.5 273.4 80.2 272.4 79.6 271.4 79.5 270.4 79.8 269.4 83.1 264.8 83.9 263.4 84.6 262.9 96.6 261.1 99.1 261.7 99.4 261.9 99.9 263.9 97.6 270.9 96.6 275.0 94.1 276.0 92.1 276.4ZM95.1 307.0 94.6 307.0 94.1 306.6 93.5 305.4 93.1 303.4 93.0 300.9 93.3 298.4 94.0 295.9 94.6 294.9 95.1 294.4 95.6 294.3 96.1 294.6 96.6 295.4 97.1 296.9 97.4 298.9 97.4 300.9 97.1 303.4 96.6 305.2 96.1 306.2 95.6 306.8 95.1 307.0Z" fill="#8c8c8c" stroke="#111" stroke-width="0.4" fill-rule="evenodd"/>
<path d="M92.6 275.5 91.1 275.6 86.6 274.8 85.6 274.4 83.2 272.9 82.1 271.9 81.7 270.9 81.7 269.9 82.2 268.4 83.2 266.4 84.9 263.4 85.1 263.3 96.6 261.5 98.6 261.9 99.1 262.4 99.5 263.9 99.4 264.4 97.3 270.9 96.6 273.9 96.1 274.4 92.6 275.5ZM95.1 301.1 95.1 300.8 95.1 301.1Z" fill="#5c5c5c" stroke="#111" stroke-width="0.4" fill-rule="evenodd"/>
<path d="M93.1 274.5 91.6 274.7 87.1 273.9 84.4 271.9 83.6 270.9 83.6 269.9 84.5 266.4 86.1 263.4 96.6 261.8 98.6 262.4 99.0 264.4 97.1 270.1 96.4 272.9 96.1 273.5 93.1 274.5Z" fill="#262626" stroke="#111" stroke-width="0.4" fill-rule="evenodd"/>
<path d="M93.1 273.5 91.6 273.7 88.1 273.1 87.0 272.4 85.6 270.9 85.3 270.4 85.2 269.9 85.3 268.4 85.7 266.4 86.9 263.9 88.1 263.5 96.1 262.3 98.1 262.7 98.6 264.4 96.9 269.4 96.2 272.4 93.1 273.5Z" fill="#111" stroke="#111" stroke-width="0.4" fill-rule="evenodd"/>
<path d="M93.1 272.5 91.6 272.5 89.1 272.1 88.6 271.9 86.9 269.9 86.8 268.9 87.1 266.4 87.9 264.4 88.3 263.9 88.6 263.8 96.1 262.7 97.6 263.2 98.0 264.4 98.0 264.9 96.6 268.9 96.1 271.2 95.6 271.6 93.1 272.5Z" fill="#050505" stroke="#111" stroke-width="0.4" fill-rule="evenodd"/>
<path d="M94.1 271.0 93.1 271.4 91.1 271.3 89.7 270.9 89.3 270.4 88.3 268.9 88.3 268.4 88.6 265.9 89.2 264.4 90.1 264.1 95.6 263.3 96.6 263.4 97.3 263.9 97.4 264.9 95.9 269.9 95.6 270.5 94.1 271.0Z" fill="#000" stroke="#111" stroke-width="0.4" fill-rule="evenodd"/>
<path d="M94.6 269.4 93.1 269.8 91.6 269.7 90.9 269.4 90.0 267.9 90.3 265.9 90.7 264.9 91.6 264.5 95.6 263.9 96.6 264.4 96.7 264.9 95.6 269.0 94.6 269.4Z" fill="#000" stroke="#111" stroke-width="0.4" fill-rule="evenodd"/>
<path d="M76.5 238.8 V327.2 M46.5 281.3 H134.4" stroke="#777" stroke-width="0.9"/>
<text x="48.6" y="249.2" font-size="12.3">3.7</text>
<text x="117.8" y="249.2" font-size="12.3">85</text>
<text x="123.9" y="324.5" font-size="12.3">9</text>
<rect x="151.9" y="238.8" width="88.8" height="88.4" fill="none" stroke="#7a7a7a" stroke-width="1.1"/>
<path d="M149.7 247.4H151.9M149.7 266.2H151.9M149.7 291.0H151.9M149.7 308.2H151.9M169.2 327.2V329.4M186.5 327.2V329.4M212.1 327.2V329.4M232.2 327.2V329.4" stroke="#555" stroke-width="0.8"/>
<text x="147.9" y="249.1" font-size="4.8" text-anchor="end" fill="#555" stroke="none">10<tspan font-size="3.2" dy="-1.7">5</tspan></text>
<text x="147.9" y="267.9" font-size="4.8" text-anchor="end" fill="#555" stroke="none">10<tspan font-size="3.2" dy="-1.7">4</tspan></text>
<text x="147.9" y="292.7" font-size="4.8" text-anchor="end" fill="#555" stroke="none">10<tspan font-size="3.2" dy="-1.7">3</tspan></text>
<text x="147.9" y="309.9" font-size="4.8" text-anchor="end" fill="#555" stroke="none">0</text>
<text x="169.2" y="335.4" font-size="4.8" text-anchor="middle" fill="#555" stroke="none">0</text>
<text x="186.5" y="335.4" font-size="4.8" text-anchor="middle" fill="#555" stroke="none">10<tspan font-size="3.2" dy="-1.7">3</tspan></text>
<text x="212.1" y="335.4" font-size="4.8" text-anchor="middle" fill="#555" stroke="none">10<tspan font-size="3.2" dy="-1.7">4</tspan></text>
<text x="232.2" y="335.4" font-size="4.8" text-anchor="middle" fill="#555" stroke="none">10<tspan font-size="3.2" dy="-1.7">5</tspan></text>
<path d="M204.0 320.4 203.0 320.4 202.0 320.1 200.5 318.8 198.9 315.9 197.7 312.4 197.1 309.4 196.6 304.9 196.4 292.4 194.5 283.5 194.0 282.3 192.8 281.4 190.5 280.6 189.0 279.8 183.2 275.4 179.1 272.9 175.8 271.4 167.0 268.1 164.0 266.7 161.4 264.9 160.4 263.9 159.7 262.9 159.5 261.9 159.6 260.9 160.4 259.4 162.7 257.4 167.5 254.1 170.5 252.9 174.0 252.6 187.5 253.9 207.5 254.7 208.0 254.9 210.5 257.4 210.7 257.9 211.2 263.4 209.7 267.9 209.4 270.9 209.6 272.4 211.3 277.4 211.9 280.9 212.5 293.9 212.2 301.4 211.2 307.9 210.3 311.4 209.2 314.4 208.2 316.4 206.9 318.4 205.5 319.8 204.0 320.4ZM175.5 303.0 173.5 303.2 171.5 303.1 169.5 302.7 168.0 302.0 166.5 301.0 165.3 299.9 164.3 298.4 163.6 296.9 163.3 295.4 163.2 293.9 163.7 291.4 164.5 289.9 166.9 286.4 168.0 283.6 168.5 283.2 169.0 283.3 171.8 284.9 176.5 286.3 179.1 287.4 181.1 288.9 182.2 290.9 182.7 292.9 182.8 294.9 182.4 296.9 181.7 298.4 180.5 300.1 179.0 301.4 177.2 302.4 175.5 303.0ZM186.0 285.7 185.5 285.6 185.3 285.4 185.3 284.9 186.0 284.4 186.6 284.9 186.4 285.4 186.0 285.7Z" fill="#fff" stroke="#111" stroke-width="0.4" fill-rule="evenodd"/>
<path d="M204.5 318.6 203.5 318.8 202.5 318.6 201.0 317.4 199.4 314.9 198.3 311.4 197.6 308.4 197.2 303.9 197.1 291.9 195.4 282.9 195.0 281.7 194.0 280.7 191.0 279.6 189.5 278.8 184.1 274.9 181.0 272.9 177.1 270.9 168.0 267.0 165.5 265.6 164.1 264.4 163.2 263.4 162.8 262.4 162.7 261.4 163.1 260.4 164.7 258.4 168.5 255.6 170.5 254.7 172.0 254.2 175.5 253.9 189.7 254.9 200.5 254.9 207.0 255.2 207.5 255.4 209.9 257.9 210.5 263.4 209.0 268.0 208.6 271.4 209.0 273.4 210.7 278.4 211.2 281.4 211.9 292.9 211.7 300.4 210.8 306.9 209.2 312.4 208.3 314.4 207.0 316.5 206.0 317.6 204.5 318.6ZM175.0 298.9 173.0 299.3 170.9 298.9 169.0 297.9 167.5 296.3 166.6 294.4 166.4 292.4 167.0 290.9 168.5 289.3 169.5 288.7 171.0 288.3 173.5 288.5 176.0 289.6 177.0 290.4 177.7 291.4 178.5 293.4 178.5 294.4 178.2 295.9 177.0 297.7 176.1 298.4 175.0 298.9Z" fill="#f8f8f8" stroke="#111" stroke-width="0.4" fill-rule="evenodd"/>
<path d="M204.5 316.9 203.5 317.1 202.5 316.8 201.0 315.5 199.8 313.4 198.7 309.9 198.1 306.9 197.7 302.9 197.8 291.4 195.9 280.9 195.1 279.9 190.5 278.2 182.0 272.4 178.3 270.4 170.5 266.7 168.4 265.4 167.2 264.4 166.1 262.9 165.9 261.9 166.0 260.9 166.5 259.9 167.4 258.9 170.0 256.8 173.0 255.6 176.5 255.1 191.0 255.7 200.5 255.4 206.5 255.7 207.0 255.9 209.4 258.4 209.9 263.4 208.4 267.9 208.0 269.9 207.9 271.9 208.2 273.9 209.8 278.4 210.4 281.4 211.3 292.9 211.1 299.9 210.3 305.9 208.7 311.4 207.8 313.4 206.9 314.9 205.5 316.4 204.5 316.9Z" fill="#f0f0f0" stroke="#111" stroke-width="0.4" fill-rule="evenodd"/>
<path d="M205.0 314.9 204.0 315.3 203.0 315.2 201.5 314.1 200.2 311.9 199.2 308.9 198.7 305.9 198.3 301.9 198.5 290.9 197.5 284.9 197.2 280.4 196.8 279.4 196.0 278.8 193.0 278.1 191.0 277.2 183.1 271.9 173.8 266.9 170.8 264.9 169.8 263.9 169.2 262.9 169.0 261.4 169.3 260.4 170.0 259.4 172.0 257.8 174.5 256.8 177.5 256.3 191.5 256.4 200.5 256.0 206.0 256.2 206.5 256.4 208.8 258.9 209.2 263.4 207.5 269.0 207.1 271.4 207.1 273.9 207.4 274.9 208.9 278.4 209.6 281.9 210.6 292.9 210.6 298.9 209.9 304.4 208.8 308.9 207.8 311.4 207.0 312.8 206.0 314.1 205.0 314.9Z" fill="#e8e8e8" stroke="#111" stroke-width="0.4" fill-rule="evenodd"/>
<path d="M204.0 313.5 203.0 313.3 202.5 313.0 201.2 311.4 200.1 308.9 199.3 305.4 199.0 299.9 199.3 290.9 198.4 283.9 198.5 278.9 198.3 277.9 197.5 277.4 194.5 277.2 192.0 276.5 184.3 271.4 177.0 267.2 174.3 265.4 173.2 264.4 172.4 263.4 172.0 261.9 172.2 260.9 172.8 259.9 174.5 258.6 176.5 257.9 179.0 257.5 184.5 257.4 187.0 257.1 192.0 257.1 200.5 256.5 205.5 256.7 206.0 256.9 208.0 258.9 208.2 259.4 208.5 263.9 207.0 268.5 205.9 274.4 206.2 275.4 208.0 278.9 208.8 281.9 209.9 292.4 210.0 295.9 209.9 299.4 209.2 304.4 208.6 306.9 207.7 309.4 206.9 310.9 206.0 312.2 205.0 313.1 204.0 313.5Z" fill="#dedede" stroke="#111" stroke-width="0.4" fill-rule="evenodd"/>
<path d="M204.5 311.5 203.5 311.6 203.0 311.4 202.0 310.5 201.5 309.7 200.4 306.9 199.8 302.9 199.6 298.4 200.1 290.4 199.4 284.4 199.4 282.4 199.9 279.9 201.1 276.9 201.1 276.4 200.5 275.9 200.0 275.8 198.5 275.9 195.5 276.3 193.0 275.7 192.0 275.2 185.0 270.5 178.2 266.4 175.8 264.4 175.0 262.9 175.0 261.4 175.7 260.4 176.5 259.8 179.0 259.0 185.0 258.5 187.5 257.8 192.5 257.7 200.0 257.0 205.0 257.2 205.5 257.3 207.5 259.4 207.9 263.9 206.5 268.1 205.7 271.9 204.9 273.4 204.6 274.9 204.8 275.9 207.0 279.3 207.8 281.9 209.2 292.4 209.3 298.4 208.8 302.9 207.8 306.9 206.3 309.9 205.5 310.9 204.5 311.5Z" fill="#d0d0d0" stroke="#111" stroke-width="0.4" fill-rule="evenodd"/>
<path d="M197.0 275.0 195.5 275.2 193.0 274.3 189.0 271.8 186.0 269.5 181.1 266.4 179.4 264.9 178.6 263.9 178.3 262.9 178.6 261.9 179.5 261.1 180.5 260.6 186.0 259.7 188.5 258.5 193.0 258.3 200.0 257.5 205.0 257.8 206.9 259.9 207.3 263.9 206.1 267.4 205.1 271.4 203.5 274.0 203.0 274.2 200.1 274.4 197.0 275.0ZM204.0 309.5 203.0 309.1 202.5 308.7 201.5 306.8 200.7 303.9 200.4 299.9 200.5 296.9 201.2 289.4 200.8 284.4 200.8 282.4 201.3 280.9 201.8 279.9 202.5 279.2 203.5 278.8 204.5 279.0 205.0 279.4 205.8 280.4 206.5 282.0 208.2 290.9 208.6 295.9 208.3 300.9 207.3 305.4 206.5 307.2 205.7 308.4 205.0 309.1 204.0 309.5Z" fill="#bebebe" stroke="#111" stroke-width="0.4" fill-rule="evenodd"/>
<path d="M197.5 274.0 196.0 274.3 195.0 274.0 193.5 273.3 189.6 270.9 187.5 268.8 183.7 265.9 182.8 264.9 182.3 263.9 182.3 263.4 182.5 262.9 183.5 262.2 187.0 260.8 189.0 259.1 189.5 259.0 193.0 258.8 200.0 258.0 204.0 258.2 204.7 258.4 206.1 259.9 206.4 260.4 206.7 263.9 205.5 267.4 204.6 270.9 203.0 273.1 202.5 273.4 197.5 274.0ZM205.0 306.9 204.0 307.3 203.5 307.1 202.5 306.1 201.6 303.4 201.2 300.4 201.3 296.4 202.4 288.9 202.6 284.4 203.0 282.9 203.5 282.3 204.0 282.3 204.5 282.7 205.0 283.5 205.5 284.9 207.2 290.9 207.8 294.9 207.7 298.9 207.2 302.4 206.1 305.4 205.0 306.9Z" fill="#a8a8a8" stroke="#111" stroke-width="0.4" fill-rule="evenodd"/>
<path d="M196.0 273.4 194.0 272.5 190.5 270.3 187.3 265.9 186.8 264.9 186.7 263.9 189.5 259.9 190.0 259.5 193.5 259.3 199.5 258.5 204.0 258.7 205.7 260.4 206.1 263.9 204.1 270.4 202.5 272.5 196.0 273.4ZM204.0 304.4 203.5 304.1 203.0 303.4 202.5 301.9 202.2 299.9 202.2 297.9 202.5 295.4 203.0 293.1 203.7 291.4 204.5 290.6 205.0 290.6 205.5 291.1 206.3 292.9 206.7 295.4 206.8 297.9 206.5 300.4 206.0 302.4 205.0 304.1 204.5 304.4 204.0 304.4Z" fill="#8c8c8c" stroke="#111" stroke-width="0.4" fill-rule="evenodd"/>
<path d="M197.5 272.5 196.0 272.6 191.5 269.9 191.0 269.4 189.4 266.4 188.6 264.4 189.3 262.4 190.2 260.4 190.5 260.0 191.0 259.9 199.5 259.0 203.5 259.2 205.1 260.9 205.4 263.9 203.6 269.9 202.0 272.0 197.5 272.5ZM204.5 298.4 204.5 297.5 204.5 298.4Z" fill="#5c5c5c" stroke="#111" stroke-width="0.4" fill-rule="evenodd"/>
<path d="M199.5 271.5 196.5 271.8 196.0 271.7 192.0 269.1 190.7 266.4 189.9 264.4 191.0 260.9 191.5 260.5 199.5 259.6 203.0 259.8 204.2 260.9 204.5 261.4 204.7 264.4 203.1 269.4 201.5 271.3 199.5 271.5Z" fill="#262626" stroke="#111" stroke-width="0.4" fill-rule="evenodd"/>
<path d="M197.0 271.0 196.5 271.0 196.0 270.7 193.1 268.9 192.7 268.4 191.0 264.4 191.8 261.4 192.0 261.1 192.5 261.0 199.0 260.2 202.5 260.4 203.8 261.9 203.9 263.9 203.9 264.4 202.5 268.9 201.5 270.2 201.0 270.6 197.0 271.0Z" fill="#111" stroke="#111" stroke-width="0.4" fill-rule="evenodd"/>
<path d="M198.5 269.9 197.0 270.1 196.5 270.0 193.5 267.9 192.2 264.4 192.7 261.9 193.0 261.6 199.5 260.9 201.5 261.0 202.0 261.2 202.7 261.9 202.9 262.4 203.1 264.4 201.8 268.4 201.0 269.5 200.5 269.8 198.5 269.9Z" fill="#050505" stroke="#111" stroke-width="0.4" fill-rule="evenodd"/>
<path d="M200.0 268.9 197.0 269.2 194.5 267.6 193.3 264.9 193.2 264.4 193.6 262.4 194.0 262.2 199.0 261.6 201.0 261.7 201.3 261.9 202.0 262.9 202.2 264.4 201.1 267.9 200.5 268.6 200.0 268.9Z" fill="#000" stroke="#111" stroke-width="0.4" fill-rule="evenodd"/>
<path d="M198.5 267.9 197.0 267.9 195.4 266.9 194.5 264.9 194.9 262.9 198.5 262.5 200.0 262.6 200.5 262.9 200.9 263.4 201.0 264.4 200.3 266.9 199.5 267.8 198.5 267.9Z" fill="#000" stroke="#111" stroke-width="0.4" fill-rule="evenodd"/>
<path d="M182.2 238.8 V327.2 M151.9 281.6 H240.7" stroke="#777" stroke-width="0.9"/>
<text x="154.5" y="249.2" font-size="12.3">3.3</text>
<text x="223.7" y="249.2" font-size="12.3">85</text>
<text x="219.4" y="324.5" font-size="12.3">9.5</text>
<rect x="258.6" y="238.8" width="88.7" height="88.4" fill="none" stroke="#7a7a7a" stroke-width="1.1"/>
<path d="M256.4 247.4H258.6M256.4 266.2H258.6M256.4 291.0H258.6M256.4 308.2H258.6M275.9 327.2V329.4M293.2 327.2V329.4M318.8 327.2V329.4M338.9 327.2V329.4" stroke="#555" stroke-width="0.8"/>
<text x="254.6" y="249.1" font-size="4.8" text-anchor="end" fill="#555" stroke="none">10<tspan font-size="3.2" dy="-1.7">5</tspan></text>
<text x="254.6" y="267.9" font-size="4.8" text-anchor="end" fill="#555" stroke="none">10<tspan font-size="3.2" dy="-1.7">4</tspan></text>
<text x="254.6" y="292.7" font-size="4.8" text-anchor="end" fill="#555" stroke="none">10<tspan font-size="3.2" dy="-1.7">3</tspan></text>
<text x="254.6" y="309.9" font-size="4.8" text-anchor="end" fill="#555" stroke="none">0</text>
<text x="275.9" y="335.4" font-size="4.8" text-anchor="middle" fill="#555" stroke="none">0</text>
<text x="293.2" y="335.4" font-size="4.8" text-anchor="middle" fill="#555" stroke="none">10<tspan font-size="3.2" dy="-1.7">3</tspan></text>
<text x="318.8" y="335.4" font-size="4.8" text-anchor="middle" fill="#555" stroke="none">10<tspan font-size="3.2" dy="-1.7">4</tspan></text>
<text x="338.9" y="335.4" font-size="4.8" text-anchor="middle" fill="#555" stroke="none">10<tspan font-size="3.2" dy="-1.7">5</tspan></text>
<path d="M308.2 319.9 307.2 319.9 306.2 319.4 304.7 317.9 303.4 315.4 302.3 311.9 301.8 308.9 301.3 304.9 301.2 293.2 300.7 290.9 299.3 285.9 299.1 283.4 299.2 279.4 298.7 278.1 295.2 276.0 290.6 272.9 287.1 270.9 283.4 269.4 275.2 266.6 270.7 264.6 268.1 262.9 267.1 261.9 266.4 260.9 266.2 259.9 266.3 258.9 267.2 257.4 271.6 253.9 274.7 250.9 276.2 250.0 278.2 249.4 281.2 249.3 284.2 249.7 292.7 251.4 297.7 251.8 306.7 251.5 316.7 250.6 317.3 250.9 317.9 251.9 318.0 252.9 316.6 257.9 314.2 263.8 313.2 266.8 312.7 268.9 312.5 270.4 312.7 271.9 314.9 276.9 315.4 278.9 315.7 281.4 316.4 294.4 316.3 298.4 315.8 303.4 314.6 309.9 312.8 314.9 311.7 316.9 310.7 318.3 309.7 319.3 308.2 319.9ZM280.7 299.0 279.2 299.2 277.2 299.1 275.2 298.7 273.7 298.1 272.5 297.4 271.2 296.3 270.2 294.9 269.5 293.4 269.1 290.9 269.8 288.4 272.3 284.4 273.7 281.9 274.7 281.0 275.2 280.8 276.2 281.0 280.2 283.4 282.7 284.4 284.7 284.9 286.7 284.9 289.0 283.4 289.7 283.2 290.3 283.4 290.7 283.9 290.6 284.9 288.8 286.9 288.4 287.9 287.7 292.6 286.7 295.1 285.6 296.4 284.2 297.6 282.6 298.4 280.7 299.0Z" fill="#fff" stroke="#111" stroke-width="0.4" fill-rule="evenodd"/>
<path d="M308.7 318.1 307.7 318.2 306.7 317.9 305.2 316.6 304.0 314.4 302.9 310.9 302.3 307.9 301.9 303.9 301.8 292.4 300.0 284.9 299.9 282.4 300.2 278.9 300.1 277.9 299.8 277.4 299.1 276.9 296.2 275.6 291.4 272.4 287.0 269.9 277.2 266.0 273.7 264.4 271.2 262.7 270.4 261.9 269.7 260.9 269.6 259.4 269.9 258.4 270.7 257.4 275.7 252.9 277.7 251.6 279.7 251.0 282.7 250.9 293.2 252.3 297.7 252.5 306.7 252.0 315.7 251.2 316.6 251.4 317.3 252.4 317.3 253.4 316.0 257.9 313.2 265.1 312.2 268.6 311.8 270.9 312.1 272.9 313.6 275.9 314.3 277.9 315.0 281.4 315.8 293.9 315.7 297.9 315.4 302.4 314.4 307.9 312.8 312.9 311.8 314.9 310.7 316.5 309.7 317.5 308.7 318.1ZM280.2 295.5 278.2 295.7 275.7 295.4 273.7 294.5 272.1 292.9 271.5 291.4 271.4 290.4 271.6 289.4 272.3 287.9 274.2 286.2 275.7 285.5 277.2 285.6 281.5 287.9 283.1 289.4 283.5 290.4 283.6 291.4 283.2 293.0 282.1 294.4 280.2 295.5Z" fill="#f8f8f8" stroke="#111" stroke-width="0.4" fill-rule="evenodd"/>
<path d="M308.2 316.4 306.7 316.1 305.7 315.2 305.1 314.4 304.0 311.9 303.0 307.9 302.4 301.9 302.5 291.9 302.2 289.9 301.1 285.9 300.8 283.9 300.9 281.9 301.4 277.9 301.2 276.9 300.2 276.2 297.2 275.2 288.1 269.4 277.9 264.9 275.7 263.6 274.1 262.4 273.3 261.4 272.9 260.4 272.9 259.4 273.2 258.4 274.3 256.9 276.2 255.1 277.7 253.9 279.2 253.0 281.2 252.4 283.7 252.2 292.7 253.0 297.7 253.1 306.2 252.6 315.2 251.8 315.9 251.9 316.6 252.9 316.7 253.9 315.4 258.4 312.7 265.1 310.7 272.4 310.9 273.4 312.5 275.9 313.2 277.4 314.1 280.9 315.1 293.4 315.1 297.9 314.8 301.9 313.9 306.9 312.3 311.9 311.3 313.9 310.2 315.3 309.2 316.1 308.2 316.4Z" fill="#f0f0f0" stroke="#111" stroke-width="0.4" fill-rule="evenodd"/>
<path d="M308.7 314.5 307.7 314.6 307.2 314.4 306.2 313.7 305.6 312.9 304.4 310.4 303.5 306.4 303.1 300.9 303.3 291.4 303.0 289.4 302.0 285.4 301.8 283.4 302.0 280.9 303.0 276.9 302.8 275.9 302.0 275.4 298.7 274.8 297.7 274.5 289.2 268.9 280.7 264.7 278.6 263.4 277.3 262.4 276.5 261.4 276.1 260.4 276.1 259.4 276.4 258.4 277.0 257.4 278.2 256.1 279.2 255.3 280.7 254.4 282.7 253.8 285.2 253.5 296.2 253.8 314.7 252.3 315.2 252.4 316.0 253.4 316.0 254.4 314.9 258.4 312.2 265.2 310.7 270.4 309.0 272.9 309.2 273.9 311.2 275.9 311.9 276.9 313.0 279.9 313.6 282.9 314.3 290.4 314.6 295.9 314.1 302.4 312.9 307.9 312.0 310.4 311.0 312.4 309.7 313.9 308.7 314.5Z" fill="#e8e8e8" stroke="#111" stroke-width="0.4" fill-rule="evenodd"/>
<path d="M306.2 274.1 305.7 274.3 299.7 274.1 298.7 274.0 297.2 273.2 290.2 268.4 283.2 264.5 280.9 262.9 279.6 261.4 279.2 260.4 279.1 259.4 279.7 257.9 281.2 256.4 282.7 255.6 284.2 255.1 287.2 254.6 296.3 254.4 314.2 252.9 314.7 253.0 315.3 253.9 315.4 254.9 314.2 258.9 311.7 265.2 310.3 269.9 306.2 274.1ZM308.7 312.6 307.7 312.6 307.2 312.4 306.2 311.5 305.5 310.4 304.4 306.9 303.8 302.4 303.7 298.4 304.1 290.9 303.9 288.9 302.9 284.4 302.9 281.9 303.4 279.9 304.3 277.9 305.7 276.0 306.2 275.6 306.7 275.5 308.2 275.7 309.7 276.4 311.1 277.9 311.8 279.4 312.6 282.9 313.8 293.4 313.9 296.9 313.7 300.4 313.3 302.9 312.5 306.4 311.7 308.9 310.7 310.8 309.7 312.0 308.7 312.6Z" fill="#dedede" stroke="#111" stroke-width="0.4" fill-rule="evenodd"/>
<path d="M304.7 272.9 302.2 273.3 299.7 273.3 298.7 273.1 297.7 272.5 293.2 269.5 290.7 267.5 285.6 264.4 283.6 262.9 282.4 261.4 282.0 260.4 282.0 259.4 282.4 258.4 283.5 257.4 284.7 256.8 289.7 255.3 297.3 254.9 313.2 253.5 314.2 253.6 314.7 254.4 314.7 255.4 313.7 258.9 311.7 263.9 309.9 269.4 309.7 269.8 306.2 272.5 305.7 272.8 304.7 272.9ZM309.2 310.4 308.2 310.8 307.7 310.7 306.7 309.9 306.0 308.9 305.0 305.9 304.4 301.4 304.4 297.9 304.9 290.4 304.8 288.4 304.1 284.4 304.1 281.9 304.5 280.4 305.4 278.9 306.5 277.9 307.7 277.6 308.7 277.8 309.7 278.4 310.5 279.4 311.1 280.9 311.7 283.3 312.6 288.9 313.2 294.4 313.1 299.4 312.3 304.4 311.7 306.4 310.8 308.4 310.2 309.4 309.2 310.4Z" fill="#d0d0d0" stroke="#111" stroke-width="0.4" fill-rule="evenodd"/>
<path d="M301.7 272.4 299.7 272.5 298.7 272.1 294.0 268.9 291.7 266.9 287.7 263.9 286.1 262.4 285.4 261.4 285.2 260.4 285.5 259.4 286.7 258.3 291.5 255.9 312.7 254.0 313.2 254.0 313.7 254.3 314.1 254.9 314.1 255.9 313.0 259.4 311.2 263.9 309.6 268.9 309.2 269.3 305.7 271.8 301.7 272.4ZM308.2 308.4 307.2 307.9 306.1 305.9 305.5 303.4 305.2 299.9 305.3 296.4 306.1 289.4 305.7 282.9 306.0 281.9 306.5 280.9 307.2 280.3 307.7 280.2 308.5 280.4 309.2 281.0 310.2 283.2 311.9 290.9 312.4 295.9 312.1 300.9 311.2 304.8 310.5 306.4 309.7 307.7 309.2 308.1 308.2 308.4Z" fill="#bebebe" stroke="#111" stroke-width="0.4" fill-rule="evenodd"/>
<path d="M303.7 271.4 301.2 271.7 299.7 271.7 294.8 268.4 289.2 262.9 288.4 261.4 288.5 260.4 289.2 259.4 292.2 256.6 292.6 256.4 312.7 254.5 313.5 255.4 313.4 256.4 312.6 259.4 310.7 264.1 309.3 268.4 308.9 268.9 305.7 271.1 303.7 271.4ZM309.2 305.6 308.7 305.9 308.2 305.9 307.7 305.6 307.2 304.9 306.3 302.4 306.1 299.4 306.2 296.4 306.7 292.9 307.7 289.3 308.2 288.2 308.7 287.8 309.2 288.0 309.7 288.7 310.7 290.9 311.3 293.4 311.5 296.4 311.4 299.4 311.0 301.9 310.2 304.2 309.2 305.6Z" fill="#a8a8a8" stroke="#111" stroke-width="0.4" fill-rule="evenodd"/>
<path d="M301.7 270.9 300.0 270.9 295.7 268.0 292.0 263.4 291.3 261.9 291.4 260.9 293.1 257.4 293.7 256.9 308.2 255.4 312.2 255.1 312.9 255.9 312.9 256.4 312.1 259.4 310.3 263.9 309.0 267.9 308.7 268.3 305.7 270.4 301.7 270.9ZM308.7 302.2 308.2 302.1 307.7 301.2 307.4 299.4 307.4 297.9 307.6 295.9 308.1 294.4 308.7 293.4 309.2 293.4 309.7 294.0 310.1 295.4 310.2 298.4 309.7 301.0 309.2 301.9 308.7 302.2Z" fill="#8c8c8c" stroke="#111" stroke-width="0.4" fill-rule="evenodd"/>
<path d="M304.2 269.9 300.7 270.3 296.4 267.4 294.4 264.4 293.4 262.4 293.3 260.9 294.2 257.8 294.5 257.4 295.2 257.3 308.2 255.8 311.7 255.7 312.3 256.4 312.3 256.9 311.4 259.9 309.8 263.9 308.7 267.4 308.3 267.9 305.7 269.7 304.2 269.9Z" fill="#5c5c5c" stroke="#111" stroke-width="0.4" fill-rule="evenodd"/>
<path d="M301.7 269.4 300.7 269.3 297.3 266.9 296.4 265.4 295.4 263.4 294.9 261.9 295.1 259.9 295.5 257.9 307.7 256.5 310.7 256.2 311.2 256.4 311.6 256.9 311.5 257.9 310.9 259.9 308.2 267.1 305.7 268.9 301.7 269.4Z" fill="#262626" stroke="#111" stroke-width="0.4" fill-rule="evenodd"/>
<path d="M303.2 268.5 301.7 268.6 301.2 268.4 298.3 266.4 297.9 265.9 296.8 263.4 296.3 261.9 296.6 258.4 302.2 257.6 310.2 256.9 310.7 257.3 310.8 257.9 310.1 260.4 307.9 266.4 305.7 268.0 303.2 268.5Z" fill="#111" stroke="#111" stroke-width="0.4" fill-rule="evenodd"/>
<path d="M304.2 267.4 302.2 267.6 301.7 267.5 299.0 265.4 297.7 261.9 297.8 258.9 307.2 257.8 309.2 257.7 309.7 257.8 310.0 258.4 309.4 260.4 307.4 265.9 305.7 267.1 304.2 267.4Z" fill="#050505" stroke="#111" stroke-width="0.4" fill-rule="evenodd"/>
<path d="M304.7 266.4 302.7 266.6 302.1 266.4 300.1 264.9 299.0 261.9 299.0 259.9 299.1 259.4 306.7 258.6 308.7 258.5 309.0 258.9 308.6 260.9 307.1 264.9 306.7 265.4 305.7 266.1 304.7 266.4Z" fill="#000" stroke="#111" stroke-width="0.4" fill-rule="evenodd"/>
<path d="M303.2 265.4 301.7 264.4 301.3 263.9 300.6 261.9 300.5 260.4 301.2 260.0 302.2 259.9 306.2 259.5 307.7 259.6 307.8 259.9 307.6 260.9 306.3 264.4 305.2 265.2 303.2 265.4Z" fill="#000" stroke="#111" stroke-width="0.4" fill-rule="evenodd"/>
<path d="M289.7 238.8 V327.2 M258.6 280.9 H347.3" stroke="#777" stroke-width="0.9"/>
<text x="261.8" y="249.2" font-size="12.3">2.1</text>
<text x="330.3" y="249.2" font-size="12.3">90</text>
<text x="327.2" y="324.5" font-size="12.3">5.3</text>
<rect x="366.1" y="238.8" width="88.4" height="88.4" fill="none" stroke="#7a7a7a" stroke-width="1.1"/>
<path d="M363.9 247.4H366.1M363.9 266.2H366.1M363.9 291.0H366.1M363.9 308.2H366.1M383.4 327.2V329.4M400.7 327.2V329.4M426.3 327.2V329.4M446.4 327.2V329.4" stroke="#555" stroke-width="0.8"/>
<text x="362.1" y="249.1" font-size="4.8" text-anchor="end" fill="#555" stroke="none">10<tspan font-size="3.2" dy="-1.7">5</tspan></text>
<text x="362.1" y="267.9" font-size="4.8" text-anchor="end" fill="#555" stroke="none">10<tspan font-size="3.2" dy="-1.7">4</tspan></text>
<text x="362.1" y="292.7" font-size="4.8" text-anchor="end" fill="#555" stroke="none">10<tspan font-size="3.2" dy="-1.7">3</tspan></text>
<text x="362.1" y="309.9" font-size="4.8" text-anchor="end" fill="#555" stroke="none">0</text>
<text x="383.4" y="335.4" font-size="4.8" text-anchor="middle" fill="#555" stroke="none">0</text>
<text x="400.7" y="335.4" font-size="4.8" text-anchor="middle" fill="#555" stroke="none">10<tspan font-size="3.2" dy="-1.7">3</tspan></text>
<text x="426.3" y="335.4" font-size="4.8" text-anchor="middle" fill="#555" stroke="none">10<tspan font-size="3.2" dy="-1.7">4</tspan></text>
<text x="446.4" y="335.4" font-size="4.8" text-anchor="middle" fill="#555" stroke="none">10<tspan font-size="3.2" dy="-1.7">5</tspan></text>
<path d="M415.7 322.0 414.7 322.2 413.7 321.9 412.2 320.9 410.5 318.4 409.3 315.4 408.5 311.9 407.9 307.4 407.8 303.4 408.0 296.4 407.9 294.4 407.4 292.4 406.7 290.7 406.1 289.9 405.2 289.4 401.7 289.6 400.7 289.3 399.7 288.7 398.9 287.9 398.4 286.9 397.7 283.4 396.6 282.4 395.5 281.9 389.2 280.1 383.2 278.1 380.7 276.7 377.2 274.0 375.8 272.4 375.3 271.4 374.9 270.4 374.8 268.9 375.3 267.4 376.0 266.4 378.2 264.6 380.7 263.3 383.7 262.2 388.2 261.1 392.2 260.5 405.8 259.4 417.2 257.9 421.7 258.8 422.2 259.0 422.5 259.4 423.5 261.9 421.2 271.4 420.8 274.4 421.1 276.4 422.6 282.4 423.5 291.9 423.8 298.4 423.5 304.4 422.4 310.9 421.5 313.9 420.6 316.4 419.6 318.4 418.2 320.3 417.2 321.3 415.7 322.0ZM388.2 314.0 386.2 314.4 384.2 314.2 382.2 313.4 380.7 312.4 379.2 310.9 377.8 308.9 376.8 306.9 376.1 304.4 375.8 301.4 376.0 298.4 376.6 295.9 378.4 290.9 378.9 284.9 379.7 282.8 380.2 282.2 381.2 281.5 382.2 281.5 383.2 282.3 385.2 286.0 386.2 287.1 390.2 288.9 392.6 290.9 393.8 292.4 394.6 293.9 395.8 297.4 396.2 299.9 396.1 302.9 395.6 305.4 394.7 307.9 393.6 309.9 391.8 311.9 390.2 313.1 388.2 314.0Z" fill="#fff" stroke="#111" stroke-width="0.4" fill-rule="evenodd"/>
<path d="M415.7 320.5 414.7 320.6 413.7 320.3 412.2 319.1 410.8 316.9 409.5 313.4 408.8 309.9 408.4 305.9 408.6 293.9 408.0 291.4 406.7 288.4 405.7 287.3 405.2 287.1 402.7 288.0 401.2 287.8 400.6 287.4 400.0 286.4 399.8 285.4 399.8 283.4 399.6 282.9 398.5 281.9 395.9 280.9 389.7 279.1 385.7 277.6 382.7 276.1 379.8 273.9 378.5 272.4 377.9 271.4 377.6 270.4 377.5 269.4 377.9 267.9 378.6 266.9 380.7 265.2 382.7 264.1 385.7 263.0 391.2 261.6 394.2 261.2 406.6 259.9 416.7 258.4 421.2 259.3 421.7 259.5 422.0 259.9 422.9 262.4 420.7 271.4 420.2 273.9 420.2 275.4 420.4 277.4 421.3 280.4 421.9 282.9 422.9 292.9 423.2 298.4 423.0 303.9 422.0 309.9 420.4 314.9 419.4 316.9 418.2 318.6 417.2 319.6 415.7 320.5ZM387.2 312.4 385.7 312.6 384.2 312.4 382.7 311.7 381.2 310.6 380.1 309.4 379.1 307.9 378.2 305.9 377.6 303.9 377.3 301.4 377.6 298.4 378.1 296.4 379.7 291.9 379.8 290.4 379.7 286.9 380.0 285.4 380.4 284.4 381.2 283.6 381.7 283.6 382.2 283.8 382.7 284.2 384.5 287.9 385.2 288.8 386.2 289.4 389.7 290.9 391.5 292.4 393.2 294.9 394.3 297.9 394.6 300.4 394.5 302.9 394.1 304.9 393.2 307.3 392.2 308.9 390.7 310.6 389.2 311.7 387.2 312.4Z" fill="#f8f8f8" stroke="#111" stroke-width="0.4" fill-rule="evenodd"/>
<path d="M415.2 319.0 413.7 318.6 412.2 317.3 410.9 314.9 409.9 311.9 409.4 308.9 409.0 304.9 409.0 301.4 409.3 295.4 409.2 292.9 408.7 290.6 406.7 284.3 406.3 283.4 405.7 282.8 404.7 282.3 401.7 281.6 389.2 277.7 385.7 276.1 383.1 274.4 382.0 273.4 380.8 271.9 380.3 270.9 380.2 269.9 380.3 268.9 380.8 267.9 381.6 266.9 383.2 265.7 385.2 264.7 387.7 263.8 393.2 262.2 396.2 261.7 406.9 260.4 416.7 258.9 420.7 259.7 421.2 260.0 421.5 260.4 422.3 262.4 422.2 262.9 419.8 272.9 419.3 276.9 420.4 280.4 421.0 282.9 422.3 293.4 422.6 298.9 422.3 303.9 421.4 309.4 420.5 312.4 419.5 314.9 418.2 316.9 417.2 318.0 416.2 318.7 415.2 319.0ZM386.2 310.0 385.2 309.9 384.2 309.7 383.2 309.1 382.2 308.2 380.8 305.9 380.0 302.9 380.1 299.9 381.0 296.9 381.7 295.4 382.7 294.0 383.2 293.6 384.2 293.2 385.7 293.2 387.2 293.6 388.2 294.1 389.2 294.9 390.2 296.1 390.9 297.4 391.7 300.4 391.7 301.9 391.4 303.9 391.0 305.4 390.3 306.9 388.6 308.9 387.2 309.7 386.2 310.0Z" fill="#f0f0f0" stroke="#111" stroke-width="0.4" fill-rule="evenodd"/>
<path d="M416.2 317.0 415.2 317.3 414.2 317.1 412.7 316.0 411.5 313.9 410.5 310.9 409.9 307.4 409.6 303.9 410.1 294.4 410.0 292.4 408.0 283.9 407.4 282.4 406.4 281.4 405.3 280.9 397.7 279.2 392.2 277.5 388.7 276.0 386.0 274.4 383.9 272.4 383.3 271.4 383.0 270.4 383.1 269.4 383.5 268.4 384.3 267.4 385.7 266.4 388.2 265.2 392.7 263.7 394.7 262.7 395.7 262.5 416.2 259.4 420.7 260.4 421.7 262.9 418.9 274.9 418.3 275.9 418.1 276.9 419.8 281.4 420.4 284.4 421.8 295.4 422.0 298.9 421.9 302.4 421.0 307.9 419.9 311.9 418.2 315.2 417.2 316.3 416.2 317.0Z" fill="#e8e8e8" stroke="#111" stroke-width="0.4" fill-rule="evenodd"/>
<path d="M415.7 315.5 414.7 315.5 414.2 315.3 413.1 314.4 411.9 312.4 410.9 309.4 410.5 306.4 410.3 302.9 410.9 293.9 410.8 291.9 409.6 286.4 409.1 282.9 408.5 281.4 407.4 280.4 406.2 279.9 398.2 278.1 394.7 277.1 392.2 276.1 390.2 275.1 388.3 273.9 386.8 272.4 386.2 271.4 386.0 270.4 386.2 269.4 386.8 268.4 387.7 267.5 389.6 266.4 394.2 264.5 396.2 263.1 416.2 259.9 420.2 260.9 421.1 262.9 420.0 268.4 418.4 274.4 417.1 275.9 416.8 276.9 417.0 277.9 418.9 281.9 419.6 284.9 421.2 295.9 421.3 299.4 421.1 303.4 420.3 307.9 418.9 311.9 418.2 313.3 417.2 314.5 415.7 315.5Z" fill="#dedede" stroke="#111" stroke-width="0.4" fill-rule="evenodd"/>
<path d="M416.2 313.6 415.2 313.8 414.7 313.8 413.7 313.2 413.2 312.6 412.2 310.7 411.4 307.9 411.0 304.9 410.9 301.9 411.7 293.4 411.8 291.4 410.7 285.9 410.3 281.4 409.9 280.4 409.2 279.8 407.2 279.1 400.2 277.5 394.7 275.7 392.2 274.4 390.8 273.4 389.8 272.4 389.2 271.4 389.1 269.9 390.1 268.4 391.5 267.4 395.2 265.5 397.4 263.4 415.7 260.4 419.7 261.3 420.5 262.9 420.6 263.9 418.0 273.9 415.9 275.9 415.3 277.4 415.5 278.4 417.2 280.9 418.2 283.5 420.1 293.4 420.7 298.4 420.4 303.4 419.6 307.9 418.2 311.4 417.2 312.8 416.2 313.6Z" fill="#d0d0d0" stroke="#111" stroke-width="0.4" fill-rule="evenodd"/>
<path d="M411.2 278.0 408.7 278.1 404.7 277.5 400.2 276.2 397.2 275.1 395.1 273.9 393.3 272.4 392.7 270.9 392.9 269.9 394.1 268.4 396.7 266.3 398.3 263.9 398.7 263.7 415.7 260.9 419.2 261.7 420.0 263.4 420.0 263.9 417.6 273.4 413.7 276.8 412.2 277.7 411.2 278.0ZM416.2 311.6 415.2 311.8 414.7 311.7 414.2 311.4 413.4 310.4 412.4 307.9 411.8 304.4 411.8 299.4 413.0 290.9 412.9 289.4 412.2 285.4 412.2 283.9 412.7 282.1 413.2 281.4 413.7 281.1 414.2 281.1 415.2 281.6 416.2 282.8 416.7 283.9 419.2 293.5 419.8 297.4 419.8 301.9 419.1 306.4 418.4 308.4 417.7 309.9 417.0 310.9 416.2 311.6Z" fill="#bebebe" stroke="#111" stroke-width="0.4" fill-rule="evenodd"/>
<path d="M409.2 276.9 405.2 276.7 402.7 275.8 398.4 273.9 396.7 272.4 396.2 271.4 396.3 269.9 398.3 266.4 399.1 264.4 399.7 264.0 401.2 263.7 415.2 261.4 418.7 262.1 419.5 263.9 419.5 264.4 417.2 273.0 417.0 273.4 413.7 275.6 411.2 276.6 409.2 276.9ZM416.2 309.5 415.2 309.7 414.7 309.5 413.7 308.4 412.9 305.9 412.5 302.4 412.7 298.9 413.5 294.9 414.7 291.2 415.2 290.4 415.7 290.1 416.2 290.4 417.2 291.6 418.2 293.8 418.8 296.4 419.1 299.4 418.9 302.9 418.3 305.9 417.2 308.4 416.2 309.5Z" fill="#a8a8a8" stroke="#111" stroke-width="0.4" fill-rule="evenodd"/>
<path d="M409.2 276.0 405.7 275.8 402.2 274.3 400.0 272.9 399.1 271.4 398.9 269.9 399.2 267.9 400.2 264.7 400.4 264.4 401.2 264.2 415.2 261.8 418.2 262.6 419.0 264.4 418.1 268.4 416.7 272.9 413.2 275.0 409.2 276.0ZM415.7 307.0 415.2 307.0 414.7 306.6 414.0 305.4 413.6 303.4 413.5 300.9 413.8 298.4 414.6 295.9 415.2 294.9 415.7 294.5 416.2 294.5 416.7 294.8 417.2 295.5 417.7 296.9 418.0 298.9 418.1 300.9 417.8 303.4 417.2 305.3 416.6 306.4 415.7 307.0Z" fill="#8c8c8c" stroke="#111" stroke-width="0.4" fill-rule="evenodd"/>
<path d="M410.2 275.0 408.2 275.2 406.2 275.0 403.7 273.7 401.6 272.4 400.9 270.9 400.6 268.4 401.1 264.9 402.2 264.5 414.7 262.3 417.7 263.0 418.4 264.4 418.4 264.9 416.4 272.4 413.2 274.3 410.2 275.0ZM415.7 301.0 415.7 300.8 415.7 301.0Z" fill="#5c5c5c" stroke="#111" stroke-width="0.4" fill-rule="evenodd"/>
<path d="M411.7 273.9 409.2 274.3 407.2 274.3 405.7 273.6 403.1 271.9 402.4 270.4 402.0 268.4 402.2 265.3 402.8 264.9 414.2 262.9 414.7 262.9 417.2 263.5 417.8 264.9 417.0 268.4 416.0 271.9 415.7 272.2 413.2 273.6 411.7 273.9Z" fill="#262626" stroke="#111" stroke-width="0.4" fill-rule="evenodd"/>
<path d="M410.2 273.4 407.7 273.5 404.3 271.4 403.7 269.9 403.2 267.9 403.4 265.4 414.2 263.5 416.4 263.9 416.7 264.2 417.1 265.4 415.6 271.4 415.2 271.8 413.2 272.9 410.2 273.4Z" fill="#111" stroke="#111" stroke-width="0.4" fill-rule="evenodd"/>
<path d="M411.2 272.5 408.2 272.7 405.6 270.9 404.5 267.9 404.5 265.9 405.7 265.5 413.7 264.1 415.7 264.5 416.1 264.9 416.3 265.9 415.0 270.9 414.7 271.3 412.7 272.3 411.2 272.5Z" fill="#050505" stroke="#111" stroke-width="0.4" fill-rule="evenodd"/>
<path d="M412.7 271.5 409.2 271.9 408.7 271.8 406.7 270.4 405.8 267.9 405.8 266.4 406.7 266.0 413.2 264.9 413.7 264.8 415.2 265.3 415.5 265.9 415.5 266.4 414.5 270.4 412.7 271.5Z" fill="#000" stroke="#111" stroke-width="0.4" fill-rule="evenodd"/>
<path d="M412.7 270.4 409.7 270.8 408.7 270.2 407.9 269.4 407.4 267.9 407.4 266.9 408.2 266.5 412.7 265.8 413.2 265.8 414.2 266.1 414.5 266.9 413.9 269.4 413.7 269.9 412.7 270.4Z" fill="#000" stroke="#111" stroke-width="0.4" fill-rule="evenodd"/>
<path d="M396.2 238.8 V327.2 M366.1 281.3 H454.5" stroke="#777" stroke-width="0.9"/>
<text x="369.3" y="249.2" font-size="12.3">2.1</text>
<text x="437.7" y="249.2" font-size="12.3">92</text>
<text x="445.5" y="324.5" font-size="12.3">5</text>
</svg>
</body></html>
